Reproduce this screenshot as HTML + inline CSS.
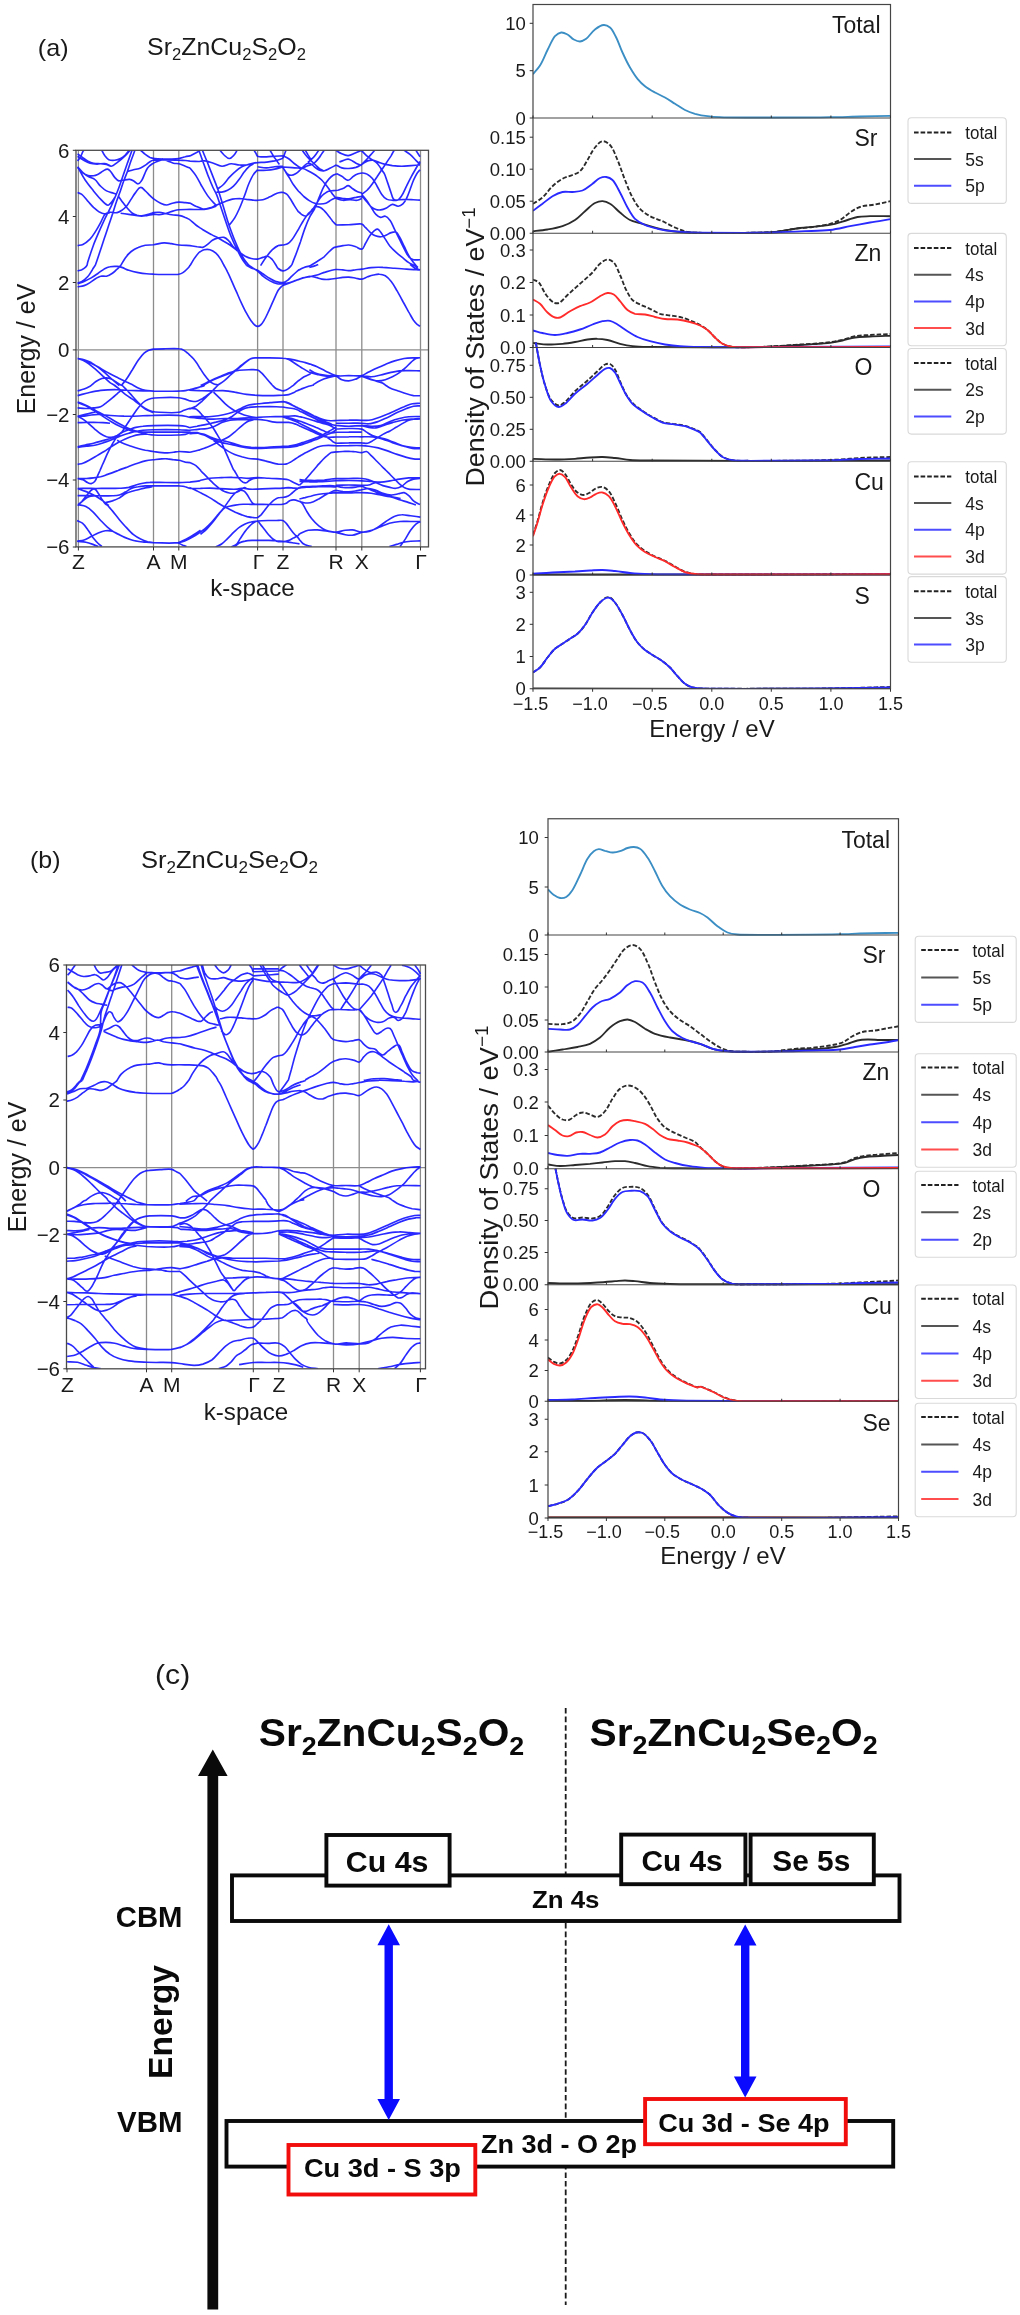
<!DOCTYPE html>
<html><head><meta charset="utf-8"><title>Figure</title>
<style>html,body{margin:0;padding:0;background:#fff}svg{display:block;filter:blur(0.45px)}text{font-family:"Liberation Sans",sans-serif}</style>
</head><body>
<svg width="1020" height="2315" viewBox="0 0 1020 2315">
<rect width="1020" height="2315" fill="#fff"/>
<clipPath id="ca"><rect x="76" y="150.3" width="352.5" height="396.5"/></clipPath>
<g stroke="#8c8c8c" stroke-width="1.3" fill="none">
<path d="M78.4 150.3V547"/>
<path d="M153.5 150.3V547"/>
<path d="M178.8 150.3V547"/>
<path d="M257.6 150.3V547"/>
<path d="M283 150.3V547"/>
<path d="M336 150.3V547"/>
<path d="M361.8 150.3V547"/>
<path d="M420.5 150.3V547"/>
<path d="M76 349.9H428.5"/>
</g>
<g clip-path="url(#ca)" stroke="#1212ff" stroke-width="1.65" fill="none" stroke-opacity="0.9" stroke-linejoin="round">
<path d="M132 150.3C130.5 154.4 129.1 158.5 127.6 162.6C126.3 166.6 124.9 170.5 123.5 174.4C122.2 178.3 120.9 182.3 119.4 186.2C118.1 189.7 116.7 193.3 115.3 196.8C114 199.9 112.6 203.1 111.2 206.2C109.3 210.1 107.2 214 105.3 217.9C103.3 222.2 101.3 226.5 99.4 230.9C97.4 235.6 95.3 240.2 93.5 245C91.4 250.8 88 261.3 87.6 262.6C87.4 263.5 87.3 264.4 87.1 265.3M134.9 150.3C133.7 153.6 132.4 156.9 131.2 160.3C129.9 163.8 128.9 167.4 127.6 170.9C126.4 174.4 124.8 177.9 123.5 181.5C122.3 185 121.2 188.6 120 192.1C118.9 195.2 117.6 198.3 116.5 201.5C115.4 204.6 114.5 207.8 113.5 210.9C112 215.6 110.4 220.3 108.8 225C107.3 229.7 105.7 234.4 104.1 239.1C102.5 243.8 101 248.5 99.4 253.2C98.1 257.3 96.7 261.3 95.3 265.3M77.6 245.6C79.4 245.2 81.3 245.2 82.9 244.4C85.4 243.3 87.9 241.2 90 239.1C92.4 236.7 94.1 233.7 95.9 230.9C97.6 228.2 99.1 225.4 100.6 222.6C102.2 219.7 103.4 215.4 105.3 213.8C106.6 212.8 108.4 212.5 110 212.3C112.3 212 114.8 213.1 117.1 212.6C118.8 212.3 120.3 211.3 121.8 210.3C123.5 209.1 125.1 207.7 126.5 206.2C128.3 204.1 129.6 201.5 131.2 199.1C132.7 196.8 134.1 194.2 135.9 192.1C137.3 190.3 138.4 187.5 140.6 187.4C142.5 187.2 143.8 189.6 145.3 190.9C147 192.3 148.4 194.1 150 195.6C151.5 197 153 198.5 154.7 199.7C156.6 201.1 158.5 202.3 160.6 203.2C162.5 204.1 164.4 205 166.5 205C168.5 205 170.4 203.7 172.4 203.2C174.5 202.7 176.6 202.2 178.8 202.1C181 202 183.1 202.5 185.3 202.6C186.9 202.8 188.4 202.9 190 203.1M77.6 192.6C79 193.2 80.5 193.5 81.8 194.4C83.6 195.7 85.7 198.7 87.6 200.9C89.6 203 91.4 205.4 93.5 207.4C95.4 209.1 97.2 210.8 99.4 212.1C100.9 212.9 102.4 213.7 104.1 213.8C106.1 214 108 213 110 212.6M77.6 166.8C80.2 171.3 82.4 176 85.3 180.3C87.8 184 90.7 187.4 93.5 190.9C95.8 193.7 98.3 196.7 100.6 199.1C102.1 200.7 104 202.9 105.3 203.8C106.2 204.5 107.2 205.4 108.2 205.2C109.5 205.1 110.3 203.6 111.2 202.6C112.5 201.2 113.9 198.7 115.3 196.8M77.6 166.8C79.4 168.7 81 170.9 82.9 172.6C84.7 174.2 86.7 175.6 88.8 176.8C90.7 177.8 93 178.1 94.7 179.4C97.1 181.1 98.4 184.1 100.6 186.2C102.4 187.9 104.3 189.7 106.5 190.9C108.6 192.1 111.8 192.6 113.5 193.2C114.7 193.6 115.9 194 117.1 194.4M77.6 167.4C79 168.9 80.1 170.7 81.8 172.1C83.5 173.5 85.5 174.7 87.6 175.4C89.5 175.9 91.6 176.1 93.5 175.8C95.2 175.6 96.7 174.9 98.2 174.2C99.9 173.4 101.3 172 102.9 171.1C104.4 170.3 106 168.9 107.6 169.1C108.9 169.3 109.7 170.6 110.6 171.5C111.9 172.8 113.1 175.6 114.7 177.4C115.9 178.7 117.4 180.5 118.8 180.9C119.8 181.1 120.8 180.5 121.8 180.3M77.6 160.9C78.6 159.5 79.8 158.2 80.6 156.8C81.5 155.1 82.5 152.1 82.9 151.5C83.2 151 83.6 150.7 83.9 150.3M77.6 153.8C79 154.8 80.4 155.8 81.8 156.8C83.7 158.1 85.5 159.7 87.6 160.9C89.5 161.9 91.5 162.8 93.5 163.2C95.8 163.8 98.2 163.6 100.6 163.8C102.6 164 104.6 164 106.5 164.4C108.1 164.8 109.5 166.3 111.2 166.2C113.5 166 115.2 164 117.1 162.6C119.1 161.2 121.1 159.6 122.9 157.9C124.6 156.5 126.4 154.6 127.6 153.2C128.5 152.3 129.2 151.3 130 150.3M77.6 156.2C79.4 157.4 81.1 158.6 82.9 159.7C85.2 161 87.5 162.5 90 163.2C92.3 163.9 94.7 164 97.1 164.1C99.8 164.1 102.6 163.1 105.3 163.6C107.2 163.9 108.8 165.2 110.6 165.9M101.8 150.3C102.7 152.1 103.5 154 104.7 155.6C105.9 157.1 107.1 158.9 108.8 159.7C110.6 160.5 112.7 160.5 114.7 160.3C116.7 160.1 118.8 159.5 120.6 158.5C122.3 157.6 123.9 156.3 125.3 155C126.6 153.8 127.6 152.3 128.8 150.9M118.8 196.8C120.2 198.7 121.5 200.7 122.9 202.6C124.4 204.7 126 206.7 127.6 208.5C129.1 210.2 130.5 212 132.4 213.2C133.8 214.2 135.4 214.8 137.1 215.4C138.6 215.8 140.2 216.1 141.8 216.2C143.7 216.2 145.7 215.6 147.6 215.4C149.6 215.1 151.5 214.5 153.5 214.4C155.5 214.3 157.5 214.8 159.4 214.6C161.8 214.5 164.2 213.9 166.5 213.2C168.9 212.6 171.1 211.5 173.5 210.9C175.3 210.4 177 209.9 178.8 209.7C181.5 209.4 186.3 209.5 190 209.4M120.6 213.2C123.3 213.6 126.1 214 128.8 214.4C131.2 214.7 133.5 215.1 135.9 215.4C137.8 215.6 139.8 216.1 141.8 215.9C144.6 215.7 148.2 214.3 150 213.8C151.2 213.5 152.3 212.9 153.5 212.6C155.4 212.3 157.5 212.1 159.4 212.3C161.8 212.5 164.1 213.4 166.5 213.8C168.8 214.3 171.2 214.7 173.5 215C175.3 215.2 177.1 215 178.8 215.4C181 215.8 183.2 216.5 185.3 217.4C186.9 218 188.4 219 190 219.8M140.6 150.3C142.2 151.7 143.6 153.2 145.3 154.4C146.8 155.5 148.3 156.6 150 157.4C151.5 158 153.1 158.3 154.7 158.5C157.1 158.9 160.2 159 162.9 159.1C165.3 159.2 167.6 159.2 170 159.1C172.9 159 175.9 159 178.8 158.5C181 158.2 183.1 157.3 185.3 156.8C186.8 156.4 188.4 156.2 190 155.9M127.6 171.5C129.6 170.9 131.6 170.2 133.5 169.7C135.9 169.1 138.3 168.9 140.6 167.9C142.7 167.1 144.6 165.7 146.5 164.4C148.1 163.3 149.5 161.7 151.2 160.9C152.3 160.3 153.5 160 154.7 159.7C156.5 159.3 160.2 159.2 162.9 158.9M121.8 180.3C122.5 180.2 123.3 180.1 124.1 180.1C125.3 179.9 128 179 130 179.4C131.5 179.6 132.8 180.5 134.1 181.2C135.5 182 136.6 184 138.2 183.8C139.9 183.6 140.8 181.7 141.8 180.3C143.1 178.3 143.7 176 144.7 173.8C145.6 171.8 146.3 169.7 147.6 167.9C148.9 166.3 150.6 165 152.4 163.8C153.8 162.8 155.4 162.1 157.1 161.5C159 160.7 160.9 159.8 162.9 159.7C164.6 159.7 166.1 160.4 167.6 160.9C169.7 161.5 171.5 162.7 173.5 163.2C175.3 163.7 177.1 163.4 178.8 163.8C181.1 164.3 183.1 165.4 185.3 166.2C186.9 166.8 188.4 167.4 190 168.1M153.5 160.1C157.1 160 160.6 159.8 164.1 159.8C169 159.8 175.6 159.9 178.8 160.1C181 160.2 183.1 160.3 185.3 160.5C186.9 160.7 188.4 160.9 190 161.1M120.9 265.3C122.4 262.8 123.6 260.2 125.3 257.9C127 255.6 128.9 253.3 131.2 251.5C133.3 249.8 135.7 248.4 138.2 247.4C140.5 246.4 142.9 245.7 145.3 245.2C148 244.8 150.8 245.1 153.5 244.8C157.1 244.3 160.6 243 164.1 242.9C166.5 242.8 168.8 243.3 171.2 243.6C173.7 244 176.2 244.7 178.8 245C182.5 245.4 186.3 245.4 190 245.6M198.8 150.3C199.4 151.8 199.9 153.3 200.5 154.8C201.3 157.1 202.1 159.3 202.9 161.5C204.2 164.8 206 170.1 207.6 174.4C209.2 178.4 210.6 182.3 212.4 186.2C213.6 189 215.3 191.6 216.5 194.4C218.1 198.2 219.2 202.2 220.6 206.2C222.2 210.9 223.7 215.6 225.3 220.3C227.2 225.8 229 231.4 231.2 236.8C233 241.2 234.9 245.5 237.1 249.7C238.9 253.3 241.3 257.7 242.9 260.3C244 262 245.3 263.6 246.5 265.3M202.4 150.3C203.7 153.6 205.1 157 206.5 160.3C208.1 164.2 209.6 168.1 211.2 172.1C212.6 175.6 213.9 179.1 215.3 182.6C216.5 185.8 217.7 188.9 218.8 192.1C219.9 195.2 220.8 198.3 221.8 201.5C223 205.4 224.1 209.3 225.3 213.2C226.6 217.6 227.9 221.9 229.4 226.2C231.1 230.9 232.8 235.6 234.7 240.3C236.2 243.9 237.7 247.4 239.4 250.9C240.8 253.7 242.4 256.5 244.1 259.1C245.5 261.3 247.3 263.2 248.8 265.3M190 161.1C192.9 161.2 197.6 161.5 198.6 161.5C199.2 161.5 199.9 161.4 200.5 161.3C201.5 161.2 203.5 160.7 205.1 160.9C207.3 161.1 210.2 162.2 212.7 163C215.8 164 218.7 166 222 166.2C225.2 166.3 228 164 231.2 163.8C233.9 163.7 236.6 164.8 239.4 165C241.8 165.2 244.1 165.3 246.5 165C248.9 164.7 251.5 163.6 253.5 163.2C254.9 163 256.3 162.8 257.6 162.6C259.7 162.4 263.5 162.4 266.5 162.1C269.2 161.8 272 161.5 274.7 160.9C277.5 160.2 280.2 159.2 282.9 158.3M190 155.9C191.6 155.1 193.2 154.3 194.7 153.5C196.6 152.5 198.4 151.4 200.2 150.3M220 150.3C221.4 151.9 222.6 153.6 224.1 155C225.7 156.4 227.3 158.6 229.4 158.5C231.4 158.5 232.8 156.4 234.1 155C235.4 153.6 236.1 151.9 237.1 150.3M218.2 188.5C219.8 187.4 221.5 186.4 222.9 185C225.1 183 226.8 180.2 228.8 177.9C230.7 175.9 232.6 173.9 234.7 172.1C236.9 170.1 239.2 168.1 241.8 166.8C244 165.6 246.4 165.1 248.8 164.4C251.2 163.7 253.5 163.2 255.9 162.6M216.5 192.1C218.2 192.1 220 192.3 221.8 192.1C223.8 191.8 225.8 191.2 227.6 190.3C229.8 189.3 231.8 187.8 233.5 186.2C235.8 184.1 237.6 181.6 239.4 179.1C241.1 176.9 242.4 174.3 244.1 172.1C245.6 170.2 247 168.3 248.8 166.8C250.2 165.6 252 164.8 253.5 163.8M229.4 225C231.2 222.6 233.2 220.4 234.7 217.9C236.5 215 238 211.7 239.4 208.5C241.1 204.7 242.6 200.7 244.1 196.8C245.8 192.5 247 188 248.8 183.8C250.2 180.6 251.8 177 253.5 174.4C254.7 172.7 256.3 171.3 257.6 169.7M190 168.1C192 170.6 194.1 172.9 195.9 175.6C197.6 178.2 199.9 182.8 200.5 183.9C200.9 184.7 201.3 185.4 201.8 186.2C202.4 187.3 205.5 192.6 207.6 195.6C209.4 198.1 211.8 200.8 213.5 202.6C214.7 203.9 215.9 205 217.1 206.2M190 203.1C192 204.1 193.9 205.2 195.9 206.2C197.4 206.9 199.3 207.6 200.5 208.1C201.3 208.4 202.1 209 202.9 209.1C204.3 209.3 207.7 208.6 210 207.9C211.8 207.4 213.5 206.4 215.3 205.6C216.7 205 218 204.4 219.4 203.8C221.4 203 223.3 202.2 225.3 201.5C227.6 200.6 229.9 199.6 232.4 199.1C234.7 198.6 237.1 198.5 239.4 198.5C241.8 198.6 244.1 199.1 246.5 199.4C248.8 199.6 251.5 199.9 253.5 200.1C254.9 200.2 256.3 200.3 257.6 200.3C259.4 200.2 261.2 200.1 262.9 199.7C265.4 199.1 267.7 197.8 270 196.8C272.4 195.7 274.6 194.1 277.1 193.2C278.9 192.6 281 192.5 282.9 192.2M190 209.4C192.4 209.4 195.3 209.5 197.1 209.5C198.2 209.5 199.4 209.5 200.5 209.5C201.7 209.5 202.9 209.6 204.1 209.5C205.9 209.3 208.9 208.6 211.2 207.9C212.8 207.5 214.3 206.8 215.9 206.2M190 219.8C192 221.5 193.8 223.4 195.9 225C197.3 226.1 199.3 227.3 200.5 228.1C201.3 228.6 202.1 229.2 202.9 229.7C204.2 230.5 208.4 232.9 211.2 234.4C213.5 235.7 215.9 236.7 218.2 237.9C220.2 239 222.2 240.3 224.1 241.5C226.1 242.6 228.1 243.7 230 245C231.6 246.1 233.1 247.4 234.7 248.5C236.3 249.7 237.8 250.9 239.4 252.1C241.3 253.5 243.2 255 245.3 256.2C247.2 257.2 249.1 258 251.2 258.5C253.3 259 255.5 259.4 257.6 259.1C259.5 258.9 261.2 257.9 262.9 257.4C264.5 256.9 266.1 255.9 267.6 256.2C269.6 256.6 271 258.3 272.4 259.7C273.8 261.2 274.7 263.2 275.9 265M190 245.6C192.4 246 195.3 246.5 197.1 246.8C198.2 246.9 199.4 247 200.5 247.1C201.3 247.2 202.1 247.5 202.9 247.4C204.1 247.1 206.2 245.5 207.6 244.4C209.3 243.2 210.6 241.4 212.4 240.3C214.2 239.2 216.2 238.4 218.2 237.9C220.1 237.5 222.2 236.8 224.1 237.4C226 237.9 227.4 239.5 228.8 240.9C230.4 242.4 231.5 244.5 232.9 246.2C234.3 247.8 235.7 249.3 237.1 250.9M190 265.6C191.6 263 193 260.4 194.7 257.9C196.2 255.9 198.9 252.4 199.4 252.1C199.7 251.8 200.1 251.7 200.5 251.5C201 251.2 202.8 250 204.1 249.7C206 249.3 208.1 249.2 210 249.7C212.2 250.3 214.2 251.7 215.9 253.2C217.8 254.9 219.2 257 220.6 259.1C221.8 261 222.7 263 223.8 265M260.6 265.6C262.5 262.6 264.4 259.6 266.5 256.8C268.3 254.3 270.1 251.8 272.4 249.7C274.1 248.1 276 246.4 278.2 245.6C279.7 245 281.4 245.2 282.9 245M270 150.3C271.6 152.8 273 155.5 274.7 157.9C276.2 160.2 277.8 162.3 279.4 164.4M254.1 150.3C254.7 151.3 255.3 152.3 255.9 153.2C256.5 154.2 256.7 155.6 257.6 156.2C259.1 157.1 263.5 156.8 266.5 156.8C269.2 156.8 272 156.4 274.7 156.2C277.4 156 280.2 155.8 282.9 155.7M257.6 166.8C260.6 167.2 263.5 168 266.5 167.9C269.2 167.9 271.9 167.1 274.7 166.8C277.4 166.5 280.2 166.4 282.9 166.2M257.6 170.3C260.6 170.3 263.5 170.5 266.5 170.3C269.2 170.1 272 169.7 274.7 169.1C277.5 168.6 280.2 167.7 282.9 167M336.2 247C338.4 246.5 340.7 245.9 342.9 245.6C344.9 245.3 346.9 244.9 348.8 245C351.2 245.2 353.6 246 355.9 246.8C357.9 247.4 359.7 249.7 361.8 249.1C363.8 248.5 364.2 245.6 365.3 243.8C367 241.1 368.2 238.1 370 235.6C371.2 233.9 372.6 232.1 374.1 230.9C375.2 230.1 376.3 228.9 377.6 229.1C379 229.3 379.7 231 380.6 232.1C381.9 233.7 383.7 236.8 385.3 239.1C386.9 241.5 388.2 244 390 246.2C391.8 248.3 393.8 250.2 395.9 252.1C398.1 254.1 400.6 256 402.9 257.9C404.9 259.5 406.7 261.3 408.8 262.6C410.3 263.6 412 264.2 413.5 265M336.2 225C340.4 224.9 344.6 224.9 348.8 224.8C353.1 224.6 359.5 223.2 361.8 224.1C363.3 224.6 364.1 226.2 365.3 227.4C366.9 228.9 368.3 230.6 370 232.1C371.5 233.3 372.9 234.8 374.7 235.6C376.5 236.4 378.6 236.8 380.6 236.8C382.2 236.7 383.8 236.1 385.3 235.6C387.4 234.8 389.1 233.3 391.2 232.6C392.7 232.2 394.4 231.4 395.9 232.1C397.7 232.8 398.4 235.1 399.4 236.8C401 239.3 402.5 243 404.1 246.2C405.7 249.3 407.1 252.6 408.8 255.6C410.2 258 411.8 260.4 413.5 262.6C414.9 264.4 416.5 265.9 417.9 267.5M361.8 194.4C363.3 196.4 365 198.3 366.5 200.3C368.1 202.6 369.6 205 371.2 207.4C372.7 209.7 373.9 212.5 375.9 214.4C377.2 215.7 378.8 217.1 380.6 217.4C382.2 217.6 383.7 215.8 385.3 216.2C387.3 216.7 388.7 218.6 390 220.3C391.9 222.8 393.1 226.6 394.7 229.7C396.3 232.8 397.8 236 399.4 239.1C401 242.3 402.5 245.4 404.1 248.5C405.6 251.3 406.9 254.8 408.8 256.8C410.1 258.1 411.8 259.2 413.5 259.7C415.6 260.3 417.8 259.7 420 259.7M336.2 197.4C338.4 197.8 340.7 198.3 342.9 198.5C344.9 198.7 346.9 199 348.8 198.9C351.2 198.7 353.5 197.7 355.9 197.4C357.8 197 359.9 196.1 361.8 196.8C363.9 197.5 364.9 199.9 366.5 201.5C368.1 203.2 369.3 205.3 371.2 206.8C372.6 207.9 374.2 208.9 375.9 209.5C377.4 210 379 210.1 380.6 209.9C382.6 209.7 384.6 208.8 386.5 207.9C388.5 207 390.1 204.7 392.4 204.4C394.4 204.2 396.2 206.4 398.2 206.2C400 206 401.6 205 402.9 203.8C404.5 202.4 405.5 200.4 406.5 198.5C407.9 195.7 408.9 192.7 410 189.7C411.2 186.6 412.2 183.4 413.5 180.3C414.6 177.9 415.8 175.2 417.1 173.2C417.9 172 419 170.9 420 169.7M336.2 198.5C338.4 199.1 340.6 200.1 342.9 200.3C345.3 200.5 347.6 199.7 350 199.7C352.4 199.7 354.7 200.6 357.1 200.3C358.7 200.1 360.2 199.1 361.8 198.5M337.9 190.3C340 189.5 342.1 188.9 344.1 187.9C345.5 187.3 346.7 185.5 348.2 185.6C349.9 185.7 351 187.6 352.4 188.5C353.9 189.6 355.4 190.7 357.1 191.5C358.6 192.2 360.2 192.6 361.8 193.2M336.7 173.8C338.4 174.6 340.1 175.3 341.8 176.2C344 177.4 345.7 180.4 348.2 180.3C350.5 180.2 351.6 177.4 353.5 176.2C355 175.2 356.6 174.4 358.2 173.8C359.7 173.3 361.4 172.9 362.9 173C364.6 173.1 366.2 173.6 367.6 174.4C369.5 175.4 371 176.9 372.4 178.5C374.3 180.8 375.5 183.6 377.1 186.2C378.7 188.9 379.8 191.9 381.8 194.4C383.1 196.2 384.5 198.1 386.5 199.1C388.2 200.1 390.4 200.2 392.4 200.3C394.7 200.4 397.1 199.9 399.4 199.7C401.8 199.5 404.1 199.4 406.5 199.4C408.8 199.4 411.2 199.6 413.5 199.7C415.7 199.8 417.8 199.9 420 200.1M361.8 194.4C363.7 192.8 365.9 191.5 367.6 189.7C369.4 187.9 370.9 185.9 372.4 183.8C374 181.5 375.5 179.1 377.1 176.8C378.6 174.4 380.2 172.1 381.8 169.7C383.3 167.4 384.9 165 386.5 162.6C388 160.3 389.7 158 391.2 155.6C392.2 153.9 393.1 152.1 394.1 150.3M380.6 168.5C381.8 170.1 383.2 171.5 384.1 173.2C385.5 175.8 386.5 179.5 387.6 182.6C388.9 186.2 390.1 190.3 391.2 193.2C391.9 195.2 392.2 197.8 393.5 199.1C394.4 200 395.9 200.6 397.1 200.3C398.9 199.9 400.5 197.4 401.8 195.6C403.7 192.9 404.9 189.3 406.5 186.2C408 183 409.5 179.9 411.2 176.8C412.7 174 414.3 171.3 415.9 168.5C417.2 166.2 418.6 163.8 420 161.5M336.2 165C338 165.9 339.7 167.3 341.8 167.9C344 168.6 346.5 168.6 348.8 168.5C351.2 168.4 353.6 168.1 355.9 167.4C358 166.7 359.8 165.5 361.8 164.4C363.8 163.3 365.5 161.6 367.6 160.9C369.5 160.3 371.6 160 373.5 160.3C375.6 160.6 377.4 162 379.4 162.6C381.3 163.3 383.3 163.9 385.3 164.4C387.6 165 390 165.3 392.4 165.6C395.5 165.9 398.6 166.2 401.8 166.2C404.9 166.2 408 165.8 411.2 165.6C414.1 165.4 417.1 165.2 420 165M339.4 162.1C341.4 161.3 343.9 160.1 345.3 159.7C346.3 159.4 347.2 159 348.2 159.1C349.7 159.3 351 160.2 352.4 160.9C354 161.7 355.4 163 357.1 163.8C358.6 164.6 360.2 165 361.8 165.6M335.9 150.3C337.8 151.5 339.7 152.9 341.8 153.8C343.8 154.7 346 155.7 348.2 155.6C350.5 155.5 352.6 154.1 354.7 153.2C357.1 152.3 359.4 151.3 361.8 150.3M361.8 150.9C363.3 152.5 364.8 154.1 366.5 155.6C368 156.9 369.6 158 371.2 159.1C372.7 160.2 374.5 160.8 375.9 162.1C377.8 163.7 379.1 165.9 380.6 167.9C381.8 169.7 382.9 171.5 384.1 173.2M374.7 150.3C373.1 152.1 371.6 153.8 370 155.6C368.4 157.4 366.9 159.2 365.3 160.9C364.2 162.1 362.9 163.2 361.8 164.4M404.1 150.3C406.1 151.7 408.2 152.9 410 154.4C412.1 156.2 413.9 158.3 415.9 160.3C417.3 161.7 418.6 163 420 164.4M415.9 150.3L420 156.8M282.9 167.6C283.9 169.2 285 170.8 286 172.5C287.1 174.3 288.3 176.1 289.4 177.9C290.8 180.2 292 182.6 293.5 184.8C295 187 297.8 190.4 298.3 191C298.7 191.4 299.1 191.8 299.5 192.1C300.1 192.7 302.3 195.1 303.8 196.5C305.6 198 307.4 199.4 309.3 200.6C311.1 201.7 312.8 202.7 314.8 203.3C316.6 203.9 318.5 204 320.3 204C322.1 204 324 204 325.8 203.3C327.8 202.6 329.4 201 331.3 199.9C332.9 199 334.5 198.3 336.2 197.4M282.9 167.6C284.4 169.7 285.6 172.5 287.4 173.8C288.5 174.7 290 175.2 291.5 175.2C292.9 175.2 294.3 174.5 295.6 173.8C297.1 173 299.4 170.7 299.5 170.6C299.6 170.5 299.6 170.5 299.7 170.4C299.8 170.3 302.4 167.5 303.8 166.3C305.1 165.2 306.2 163.4 307.9 163.2C309.4 163 310.8 164.1 312.1 164.9C313.6 165.8 314.7 167.4 316.2 168.3C317.5 169.2 318.8 170 320.3 170.4C321.6 170.8 323.1 171 324.4 170.7C326.4 170.4 328.1 169.2 329.9 168.3C332 167.3 334.1 166.1 336.2 165M282.9 167C286 167.2 289.1 167.4 292.2 167.6C294.6 167.8 298 168 299.5 168.1C300.5 168.2 301.5 168.1 302.5 168.3C303.9 168.7 306.2 169.8 307.9 170.7C309.8 171.7 311.6 172.7 313.4 173.8C314.8 174.7 316.2 175.6 317.6 176.6C319 177.6 320.4 178.7 321.7 180C323.2 181.5 324.5 183.2 325.8 184.8C327.2 186.6 328.6 188.4 329.9 190.3C331.1 191.9 332.1 193.5 333.3 195.1C334.2 196.3 335.2 197.4 336.2 198.5M282.9 155.7C284.9 156.7 286.9 157.5 288.7 158.7C290.7 160.1 292.3 162 294.2 163.5C295.8 164.8 298.8 166.8 299 167C299.2 167.1 299.3 167.1 299.5 167.2C299.7 167.3 301.5 168.2 302.5 168.7M286 150.1C285.5 151.4 285.1 152.7 284.6 153.9C284.1 155.4 283.5 156.8 282.9 158.3M302.1 150.1C303.4 151.9 304.5 153.7 305.9 155.3C307.2 156.9 308.6 158.3 310 159.8C311.1 160.8 312.3 161.8 313.4 162.8C314.4 163.7 315.2 164.7 316.2 165.6C317.3 166.6 318.3 167.8 319.6 168.7C320.7 169.4 321.9 169.8 323 170.4M324.4 150.1C323.5 151.4 322.6 152.6 321.7 153.9C320.7 155.3 319.9 156.7 318.9 158C317.9 159.4 316.7 160.7 315.5 161.8C314.4 162.8 313.4 163.9 312.1 164.6C310.8 165.2 309.3 165.1 307.9 165.6C306.5 166.1 305.2 167.1 303.8 167.6C302.9 168 302 168.3 301.1 168.7M318.9 150.1C318 151.4 317.1 152.7 316.2 153.9C315.3 155.1 314.4 156.3 313.4 157.4C312.6 158.2 311.6 159 310.7 159.8C309.8 160.6 308.9 161.4 307.9 162.2M305.2 150.1C306.1 151.6 307 153.1 307.9 154.6C308.9 156.1 309.8 157.6 310.7 159.1M291.8 265C293.1 261.5 294.5 257.9 295.9 254.4C297.1 251.1 299 246 299.5 244.5C299.9 243.5 300.2 242.5 300.6 241.5C301.1 240 303.5 232 305.3 227.4C306.7 223.6 308.2 219.9 310 216.4C311.4 213.7 313.3 211.2 314.7 208.5C316.5 204.7 317.8 200.7 319.4 196.8C320.9 193.2 322.2 189.6 324.1 186.2C325.4 183.7 326.9 181.2 328.8 179.1C330.2 177.5 332 175.9 333.5 175C334.5 174.4 335.7 174.2 336.7 173.8M282.9 245C284.5 244.6 286.2 244.6 287.6 243.8C289.6 242.7 291 240.8 292.4 239.1C294.4 236.5 297.5 230.8 298.2 229.7C298.6 228.9 299.1 228.2 299.5 227.4C300.2 226.3 301.7 223.5 302.9 221.5C304.4 219.1 305.8 216.6 307.6 214.4C308.9 212.8 310.7 211.8 312.1 210.2C313.7 208.3 314.8 206.1 316.2 204C317.6 202 318.7 199.8 320.3 197.8C321.5 196.3 322.9 194.9 324.4 193.7C325.7 192.8 327 191.8 328.5 191.3C330.1 190.8 331.7 190.8 333.3 190.6C334.9 190.5 336.4 190.4 337.9 190.3M282.9 192.2C284.2 192.8 285.6 193.2 286.7 194.1C288.1 195.3 289 197 290.1 198.5C291.6 200.7 292.8 203.1 294.2 205.4C295.5 207.5 297.8 211 298.3 211.6C298.7 211.9 299.1 212.2 299.5 212.5C300.1 213 301.3 214.4 302.5 215C303.5 215.6 304.7 216.2 305.9 216C307.3 215.8 308.3 214.6 309.3 213.6C310.7 212.2 311.3 210.2 312.7 208.8C313.7 207.9 314.9 207 316.2 206.8C317.5 206.5 319 206.9 320.3 207.5C321.9 208.2 323.1 209.6 324.4 210.9C325.9 212.4 327.2 214 328.5 215.7C330 217.5 331.2 219.4 332.6 221.2C333.8 222.5 335 223.7 336.2 225M310 265.9C312.3 264.4 314.7 263 317.1 261.5C319.4 259.9 321.9 258.6 324.1 256.8C326.2 255 328 252.6 330 250.9C331.3 249.7 333 248.1 334 247.6C334.7 247.3 335.4 247.2 336.2 247M77.6 270.9C79 270.5 80.5 270.3 81.8 269.7C83 269.1 84.3 268.3 85.3 267.4C86 266.8 86.5 266 87.1 265.3M77.6 283.2C79 282.6 80.5 282.2 81.8 281.5C83.7 280.3 86 278.6 87.6 276.8C89.6 274.7 90.9 271.9 92.4 269.7C93.3 268.2 94.3 266.8 95.3 265.3M77.6 283.8C79.8 283 82 282.4 84.1 281.5C86.5 280.4 88.9 279.3 91.2 277.9C93.6 276.5 95.9 274.8 98.2 273.2C100.2 271.9 102 270.3 104.1 269.1C106 268.1 107.9 267.2 110 266.8C112.3 266.3 114.7 266.2 117.1 266.4C118.7 266.5 120.2 266.9 121.8 267.4C124.1 268.1 126.4 269.5 128.8 270.3C131.9 271.3 135.1 272 138.2 272.6C141 273.2 143.7 273.6 146.5 273.8C148.8 274 151.2 274.1 153.5 274.2C157.1 274.3 176.7 274.6 178.8 274.2C180.3 273.9 181.7 273.4 182.9 272.6C184.7 271.6 186.3 269.9 187.6 268.5C188.5 267.6 189.2 266.6 190 265.6M77.6 286.8C79.8 286.4 82 286.3 84.1 285.6C86.2 284.9 88.1 283.8 90 282.6C92.1 281.4 93.8 279.8 95.9 278.5C97.4 277.6 98.9 276.6 100.6 276.2C102.5 275.7 104.6 276.6 106.5 276.2C108.6 275.7 110.5 274.5 112.4 273.2C114.1 272.1 115.5 270.5 117.1 269.1C118.3 268 120.4 265.7 120.6 265.6C120.7 265.5 120.8 265.4 120.9 265.3M121.8 385C123.3 383 125 381.2 126.5 379.1C128.6 376.1 130.4 372.8 132.4 369.7C134.3 366.6 136.1 363.3 138.2 360.3C140 357.8 142 355.1 144.1 353.2C145.5 352 147.1 351 148.8 350.3C150.3 349.7 151.9 349.3 153.5 349.1C155.9 348.8 160.6 348.8 164.1 348.8C169 348.7 176.7 348.5 178.8 348.8C180.2 348.9 181.7 349.1 182.9 349.7C184.7 350.5 186.4 352.3 187.6 353.2C188.5 353.9 189.2 354.6 190 355.3M77.6 358.5C79.8 358.9 82 359.1 84.1 359.7C86.6 360.4 88.9 361.4 91.2 362.6C93.7 364 96 365.7 98.2 367.4C100.7 369.2 103 371.2 105.3 373.2C107.7 375.3 109.9 377.6 112.4 379.7C114.7 381.7 117.1 383.6 119.4 385.6M77.6 358.5C80.2 359.3 82.8 360 85.3 360.9C88.1 361.9 90.9 363.1 93.5 364.4C96.4 365.8 99 367.5 101.8 369.1C104.5 370.7 107.2 372.3 110 373.8C112.7 375.3 115.5 376.6 118.2 377.9C121 379.3 123.7 380.7 126.5 382.1C128.6 383.1 130.8 384 132.9 385M77.6 358.5C79.4 359.1 81.3 359.5 82.9 360.3C85 361.2 87 362.5 88.8 363.8C91.3 365.6 93.6 367.7 95.9 369.7C98.3 371.8 100.6 374 102.9 376.2C105.3 378.3 108.1 381.2 110 382.6C111.3 383.6 112.7 384.2 114.1 385M91.8 385C93.1 383.8 94.4 382.5 95.9 381.5C97.7 380.3 99.7 379.2 101.8 378.5C103.3 378.1 104.9 377.8 106.5 377.9C108.1 378 109.7 378.5 111.2 379.1C113.3 380 115.1 381.5 117.1 382.6C118.6 383.6 120.2 384.6 121.8 385.6M223.8 265C225.1 267.4 226.5 269.7 227.6 272.1C229.4 275.5 230.8 279.1 232.4 282.6C233.9 286.2 235.5 289.7 237.1 293.2C238.6 296.8 240.1 300.3 241.8 303.8C243.3 307 244.8 310.2 246.5 313.2C247.9 315.9 249.6 318.7 251.2 320.9C252.2 322.3 253.4 324 254.7 325C255.6 325.7 256.6 326.4 257.6 326.4C258.7 326.4 259.7 325.7 260.6 325C261.8 324 263.1 322 264.1 320.3C265.7 317.8 267.3 314.1 268.8 310.9C270.5 307.4 271.9 303.8 273.5 300.3C275.1 296.9 276.8 292.6 278.2 290.3C279.2 288.8 280.3 287.2 281.8 286.2C283.5 284.9 285.7 284.6 287.6 283.8C290.4 282.7 294.1 281 295.9 280.3C297.1 279.8 298.3 279.5 299.5 279.1C300.6 278.7 301.8 278.3 302.9 277.9C304.7 277.4 307.6 276.8 310 276.2M246.5 265.3C248 266.2 249.5 267.2 251.2 267.9C253.3 268.9 255.6 269.3 257.6 270.3C259.5 271.3 261.2 272.6 262.9 273.8C265.3 275.4 267.6 277.1 270 278.5C271.9 279.6 273.8 280.8 275.9 281.5C278.2 282.2 280.6 283 282.9 282.6C284.7 282.4 286.2 281.3 287.6 280.3C289.4 279 290.7 277.1 292.4 275.6C294.3 273.8 297.7 270.7 298.2 270.3C298.6 270 299.1 269.9 299.5 269.7C300.1 269.3 302.5 268 304.1 267.4C306 266.7 308 266.4 310 265.9M248.8 265.3C250.4 266.4 251.9 267.5 253.5 268.5C255.1 269.5 256.8 270.3 258.2 271.5C260 272.9 261.2 274.8 262.9 276.2C265.1 278 267.5 279.5 270 280.9C272.2 282.1 274.6 283.3 277.1 283.8C279 284.2 281 284 282.9 283.8C285.3 283.6 287.7 283.2 290 282.6C292.8 281.9 297.6 279.9 298.2 279.7C298.7 279.6 299.1 279.4 299.5 279.3C300.1 279.1 303.3 277.8 305.3 277.4C306.8 277 308.4 276.9 310 276.6M275.9 265C276.7 266.2 277.2 267.6 278.2 268.5C279.6 269.7 281.2 270.8 282.9 270.9C284.6 271 286.2 270 287.6 269.1C289.3 268.1 290.4 266.4 291.8 265M190 355.3C191.6 357 193.3 358.5 194.7 360.3C196.5 362.5 198.9 366.5 199.4 367.4C199.8 367.9 200.1 368.4 200.5 369C201 369.8 202.8 372.7 204.1 374.4C205.6 376.4 207 378.5 208.8 380.3C210.2 381.7 211.8 383 213.5 383.8C215 384.5 216.7 384.6 218.2 385M200.6 385.6C203.7 384 206.8 382.4 210 380.9C213.5 379.2 217 377.6 220.6 376.2C223.7 374.9 226.8 373.6 230 372.6C233.1 371.7 236.2 370.8 239.4 370.3C242.5 369.8 245.7 369.7 248.8 369.7C251.8 369.7 255.2 369.2 257.6 370.1C259.3 370.7 260.5 372.1 261.8 373.2C263.5 374.8 264.9 376.8 266.5 378.5C268 380.3 270.7 383.3 271.2 383.8C271.5 384.2 271.8 384.6 272.1 385M217.1 385.6C219.4 384 221.9 382.6 224.1 380.9C226.6 378.9 228.8 376.5 231.2 374.4C233.5 372.4 235.9 370.5 238.2 368.5C240.6 366.6 242.9 364.5 245.3 362.6C247.2 361.2 249 359.4 251.2 358.5C252.7 358 254.3 358 255.9 357.9C258.2 357.8 280.6 357.9 282.9 358.2C284.5 358.3 286.2 358.6 287.6 359.1C289.9 360 292.4 361.8 294.7 363.2C296.3 364.3 298.4 365.7 299.5 366.4C300.3 366.9 301 367.5 301.8 367.9C302.9 368.7 307.3 371.1 310 372.6M204.1 385C207.3 383.2 210.3 381.3 213.5 379.7C217.3 377.9 221.4 376.6 225.3 375C228.1 373.9 231 373 233.5 371.5C236.5 369.7 239 367.1 241.8 365C244.1 363.2 246.6 360.9 248.8 359.7C250.3 358.9 252 358.5 253.5 357.9M282.9 358.2C285.3 358.5 287.7 358.7 290 359.1C292.8 359.6 297.6 360.7 298.2 360.9C298.7 361 299.1 361.1 299.5 361.2C300.1 361.4 303.4 362.1 305.3 362.6C306.9 363.1 308.4 363.6 310 364.1M293.6 385.1C295.2 383.7 297.6 381.4 298.2 380.9C298.6 380.6 299.1 380.3 299.5 380C300.1 379.6 302.5 377.7 304.1 376.8C306.2 375.6 308.4 374.8 310.6 373.8M310 276.2C312 276.6 313.9 276.9 315.9 277.4C317.9 277.8 319.7 278.8 321.8 279.1C324.1 279.5 326.5 279.5 328.8 279.4C331.2 279.3 333.5 278.9 335.9 278.5C338.2 278.2 340.6 277.6 342.9 277.4C344.9 277.2 346.9 277 348.8 277.1C351.2 277.2 353.5 277.8 355.9 278.2C357.8 278.5 359.8 279.3 361.8 279.1C363.9 278.9 365.7 277.5 367.6 276.8C369.6 276.1 371.5 275.4 373.5 275C375.5 274.6 377.4 274 379.4 274.2C381.4 274.3 383.5 274.8 385.3 275.8C387.7 277.2 389.5 279.4 391.2 281.5C393.5 284.3 395.2 287.7 397.1 290.9C399.1 294.4 401 297.9 402.9 301.5C404.9 305 406.8 308.5 408.8 312.1C410.4 314.8 412 318.1 413.5 320.3C414.6 321.8 415.7 323.3 417.1 324.4C417.9 325.1 419 325.6 420 326.2M310 276.6C312.4 276.1 314.7 275.7 317.1 275C319.9 274.2 322.5 272.9 325.3 272.1C328.8 271 332.4 269.8 335.9 269.5C338.2 269.3 340.6 269.7 342.9 269.9C344.9 270.1 346.8 270.7 348.8 270.6C351.2 270.6 353.5 270 355.9 269.7C357.8 269.5 359.8 269.4 361.8 269.1C364.7 268.7 368 267.9 371.2 267.6C375.1 267.2 379 267.2 382.9 267.4C386.9 267.5 390.8 268 394.7 268.3C398.6 268.6 402.5 268.9 406.5 269.1C409.6 269.3 413.8 269.6 415.9 269.7C417.3 269.8 418.6 269.9 420 269.9M309.4 267.4C311.2 266.9 313 266.5 314.7 265.9C315.9 265.5 317.1 264.9 318.2 264.4M410 264.4C411.6 265.6 413 267 414.7 267.9C416.4 268.8 418.2 269.3 420 269.9M413.5 265C414.7 265.8 416.6 267.2 417.1 267.4C417.3 267.5 417.6 267.5 417.9 267.5M310 364.1C312.4 365 314.8 365.8 317.1 366.8C319.9 368 322.5 369.6 325.3 370.9C328.8 372.5 332.1 374.8 335.9 375.6C340.1 376.5 344.5 375.6 348.8 375.6C353.1 375.6 358.6 376.3 361.8 375.6C363.9 375.1 365.7 373.6 367.6 372.6C370.4 371.3 373.1 369.8 375.9 368.5C379 367.1 382.1 365.7 385.3 364.4C388.4 363.2 391.5 361.9 394.7 360.9C397.8 359.9 400.9 359 404.1 358.5C406.8 358.1 409.6 358 412.4 357.9C414.9 357.9 417.5 357.9 420 357.9M310 372.6C312.4 373.2 314.7 373.9 317.1 374.4C320.2 375.1 323.3 375.9 326.5 376.2C329.6 376.5 332.9 375.3 335.9 376.2C338.1 376.8 339.6 378.9 341.8 379.7C344 380.5 346.4 381 348.8 380.9C351.2 380.8 353.6 380 355.9 379.1C357.9 378.4 359.6 376.6 361.8 376.2C364.8 375.6 368 377 371.2 376.8C374.4 376.6 377.5 375.7 380.6 375C383.7 374.3 386.8 373.3 390 372.6C393.1 372 396.2 371.2 399.4 370.9C402.5 370.6 405.7 370.7 408.8 370.6C412.5 370.6 416.3 370.8 420 370.9M312.8 385.1C315 383.7 317.1 382.1 319.4 380.9C322.4 379.4 325.6 378.3 328.8 377.4C331.1 376.7 333.5 376.3 335.9 375.8M309.4 369.7C311.6 370.9 313.6 372.4 315.9 373.2C318.5 374.2 321.3 374.6 324.1 375C328 375.6 332 375.8 335.9 376.2M361.8 376.2C364.1 377 366.5 377.7 368.8 378.5C371.2 379.3 373.5 380.1 375.9 380.9C378.2 381.7 381.6 382.6 382.9 383.2C383.8 383.7 384.5 384.4 385.3 385M361.8 376.2C364.9 377.4 367.9 378.8 371.2 379.7C373.5 380.3 375.8 380.9 378.2 380.9C380.6 380.9 383 380.4 385.3 379.7C387.7 379 390.1 377.9 392.4 376.8C394.8 375.6 397.2 374.2 399.4 372.6C401.5 371.2 403.4 369.6 405.3 367.9C407.4 366.1 409.1 363.9 411.2 362.1C412.7 360.8 414.1 359.3 415.9 358.5C417.2 358 418.6 358 420 357.7M77.6 390.9C79.8 390.3 82 389.9 84.1 389.1C86.2 388.3 89.1 386.7 90 386.2C90.6 385.8 91.2 385.4 91.8 385M77.6 395.6C80.6 394.8 83.5 394 86.5 393.2C89.6 392.5 92.7 391.6 95.9 391.1C99.8 390.5 103.7 390.2 107.6 389.9C110.8 389.7 113.9 389.6 117.1 389.7C120.2 389.8 123.3 390.1 126.5 390.3C129.6 390.5 132.7 390.6 135.9 390.6C139.4 390.8 142.9 390.8 146.5 390.9C148.8 390.9 151.2 391.1 153.5 391.1C157.1 391.2 175.6 391.2 178.8 391.1C181 391 183.2 391 185.3 390.6C186.9 390.4 188.4 389.9 190 389.6M132.9 385C134.7 386 136.4 387.1 138.2 387.9C140.5 388.9 142.9 389.8 145.3 390.3C148 390.9 150.8 390.8 153.5 391.1M114.1 385C115.9 386.4 117.7 387.7 119.4 389.1C121.4 390.8 123.2 392.8 125.3 394.4C127.5 396.1 130 397.5 132.4 399.1C134.8 400.8 137 402.7 139.4 404.4C141.3 405.8 143.2 407.4 145.3 408.5C147.5 409.8 149.9 410.8 152.4 411.5C154.6 412.1 157 412.2 159.4 412.3C163 412.5 176 412.8 178.8 412.3C180.7 412 182.3 410.9 184.1 410.3C186.1 409.6 188 408.9 190 408.2M121.8 385C123.3 386.6 124.9 388.1 126.5 389.7C128.5 391.8 130.4 394 132.4 396.2C134.3 398.3 136.2 400.5 138.2 402.6C139.8 404.3 141.2 406 142.9 407.4C144.4 408.5 146 409.5 147.6 410.3C149.5 411.2 151.6 411.9 153.5 412.6M77.6 402.1C79.8 402.8 82 403.5 84.1 404.4C86.5 405.5 88.9 406.7 91.2 407.9C93.6 409.2 95.8 410.8 98.2 412.1C100.5 413.3 103 414.3 105.3 415.6C107.7 416.9 110 418.3 112.4 419.7C114.7 421.1 117 422.5 119.4 423.8C121.7 425.1 124.1 426.3 126.5 427.4C128.8 428.4 131.1 429.4 133.5 430.3C135.9 431.2 138.2 432 140.6 432.6C142.9 433.3 145.3 433.8 147.6 434.2C149.6 434.5 151.6 434.9 153.5 435C156.5 435.2 175.6 435.1 178.8 435C181 434.9 183.2 434.9 185.3 434.4C186.9 434 188.4 433.2 190 432.6M77.6 402.6C80.2 403.6 82.8 404.4 85.3 405.6C88.2 406.9 90.8 408.7 93.5 410.3C96.3 412 99 413.8 101.8 415.6C104.5 417.4 107.2 419.2 110 420.9C112.7 422.5 115.4 424.2 118.2 425.6C120.9 426.9 123.7 428.1 126.5 429.1C129.2 430.1 131.9 431 134.7 431.5C137.4 431.9 140.2 432 142.9 432.1C146.5 432.2 150 432.1 153.5 432.1C158.8 432.1 172.9 432.1 178.8 432.1C182.7 432.1 186.7 432.1 190.6 432.1M77.6 407.9C80.2 408.1 82.7 408.5 85.3 408.5C88 408.5 90.8 408.3 93.5 407.9C95.9 407.7 98.4 407.7 100.6 406.8C102.8 405.9 104.6 404.1 106.5 402.6C108.5 401.1 110.4 399.6 112.4 397.9C114 396.6 115.5 395.2 117.1 393.8C118.2 392.8 119.4 391.9 120.6 390.9M77.6 416.2C79.8 416.2 82 416.4 84.1 416.2C86.5 416 88.8 415.3 91.2 415C93.5 414.7 95.9 414.4 98.2 414.4C100.6 414.4 102.9 414.8 105.3 415C108.4 415.3 111.6 415.6 114.7 415.8C117.8 416 121 416.1 124.1 416.2C127.3 416.2 130.4 416.2 133.5 416.2C136.7 416.1 139.8 416 142.9 415.8C146.5 415.7 150 415.4 153.5 415.4C158.8 415.2 175.6 415.1 178.8 415.4C181 415.5 183.2 415.8 185.3 416.2C186.9 416.5 188.4 417 190 417.4M77.6 416.2C80.2 415.6 82.8 415 85.3 414.4C87.7 413.8 90 413.2 92.4 412.6C93.9 412.3 95.5 411.9 97.1 411.5M77.6 422.6C80.2 422.6 82.7 422.5 85.3 422.4C88 422.4 90.8 422.4 93.5 422.4C96.7 422.5 99.8 422.5 102.9 422.6C105.3 422.8 107.6 423 110 423.2M77.6 416.2C79.4 417.2 81.3 418 82.9 419.1C85 420.5 86.9 422.2 88.8 423.8C90.8 425.5 92.7 427.4 94.7 429.1C96.6 430.7 98.5 432.5 100.6 433.8C102.4 435 104.4 436.1 106.5 436.8C108 437.2 109.6 437.5 111.2 437.4C113.2 437.2 115.2 436.5 117.1 435.6C118.8 434.7 120.4 433.5 121.8 432.1C123.7 430 124.9 427.4 126.5 425C128 422.6 129.6 420.3 131.2 417.9C132.7 415.6 134.2 413.2 135.9 410.9C137.4 408.9 138.9 406.8 140.6 405C142 403.5 143.5 402 145.3 400.9C147.1 399.8 149.1 399 151.2 398.5C153.9 397.9 156.7 397.8 159.4 397.7C163.5 397.5 175.5 397.4 178.8 397.7C181 397.9 183.2 398.5 185.3 399.1C186.9 399.6 188.4 400.3 190 400.9M77.6 446.8C80.2 446.2 82.7 445.6 85.3 445C88 444.4 90.8 443.9 93.5 443.2C96.3 442.5 99 441.7 101.8 440.9C104.5 440.1 107.3 439.5 110 438.5C112.4 437.7 114.8 436.7 117.1 435.6C119.1 434.6 120.9 433.1 122.9 432.1C124.8 431.1 126.8 430.4 128.8 429.7C131.2 428.9 133.5 428 135.9 427.4C138.2 426.8 140.6 426.4 142.9 426.2C146.5 425.8 150 425.7 153.5 425.6C158.8 425.4 175.6 425.4 178.8 425.6C181 425.7 183.2 425.8 185.3 426.2C186.9 426.5 188.4 427.2 190 427.6M77.6 447.4C80.6 447 83.5 446.6 86.5 446.2C89.6 445.8 92.8 445.7 95.9 445C99.1 444.3 102.2 443.1 105.3 442.1C108.5 441 111.6 439.8 114.7 438.5C117.1 437.6 119.4 436.5 121.8 435.6C124.1 434.7 126.4 433.9 128.8 433.2C131.2 432.6 133.5 432 135.9 431.5C138.2 431 140.6 430.6 142.9 430.3C146.5 429.9 150 429.8 153.5 429.7C158.8 429.6 173.2 429.6 178.8 429.7C182.6 429.8 186.3 430.1 190 430.3M77.6 464.4C79.4 464 81.2 463.8 82.9 463.2C85.4 462.4 87.7 461 90 459.7C92.4 458.4 94.7 457 97.1 455.6C99.4 454.2 101.8 452.9 104.1 451.5C106.5 450 108.8 448.3 111.2 446.8C113.5 445.3 115.8 443.9 118.2 442.6C120.5 441.4 122.9 440.2 125.3 439.1C127.6 438.1 129.9 436.9 132.4 436.2C135 435.3 137.8 434.8 140.6 434.4C142.9 434.1 145.3 434.3 147.6 434.2M117.1 440.3C119.4 441.5 121.7 442.8 124.1 443.8C126.4 444.8 128.8 445.4 131.2 446.2C133.5 447 135.9 447.8 138.2 448.5C140.6 449.2 142.9 449.8 145.3 450.3C148 450.8 150.8 451.1 153.5 451.5C156.3 451.9 159 452.4 161.8 452.6C163.7 452.8 165.7 452.9 167.6 452.9C169.6 452.8 171.6 452.5 173.5 452.3C175.3 452.1 177 451.5 178.8 451.5C181.5 451.4 186.3 452 190 452.2M77.6 478.5C79.4 478.9 81.3 479 82.9 479.7C84.7 480.4 86 481.9 87.6 482.6C88.8 483.1 90 483.8 91.2 483.6C92.5 483.4 93.8 482.5 94.7 481.5C96.1 480 97.3 476.3 98.2 474.4C98.8 473.1 99.4 471.8 100 470.5C100.8 468.5 102 466 102.9 463.8C104.4 460.5 106 456.7 107.6 453.2C109.1 450.1 110.6 446.9 112.4 443.8C113.8 441.4 115.3 439 117.1 436.8C118.5 435 120.2 433.6 121.8 432.1M77.6 478.5C80.6 478.5 83.5 478.7 86.5 478.5C88.8 478.4 91.2 478.2 93.5 477.9C95.9 477.6 98.3 477.3 100.6 476.8C103 476.2 105.3 475.2 107.6 474.4C110.8 473.3 116.5 471.1 117.1 470.9C117.4 470.8 117.7 470.6 118.1 470.5C118.6 470.3 123.7 468.4 126.5 467.4C129.6 466.2 132.7 464.9 135.9 463.8C139 462.8 142.1 461.6 145.3 460.9C148 460.3 150.8 460 153.5 459.7C156.3 459.4 159 459 161.8 458.9C163.7 458.8 165.7 458.7 167.6 458.9C169.6 459 171.6 459.5 173.5 459.7C175.3 459.9 177.1 460 178.8 460.3C181 460.7 183.1 461.6 185.3 462.1C186.8 462.4 188.4 462.5 190 462.6M77.6 488.5C80.6 488.5 83.5 488.3 86.5 488.3C89.6 488.3 92.7 488.5 95.9 488.5C99.8 488.5 103.7 488.3 107.6 488.3C111.6 488.3 115.5 488.5 119.4 488.3C122.6 488.1 125.7 488 128.8 487.4C131.2 486.8 133.5 485.7 135.9 485C138.2 484.3 140.6 483.7 142.9 483.2C145.3 482.8 147.6 482.5 150 482.4C153.1 482.2 156.3 482.4 159.4 482.4C164.1 482.4 173.2 482.8 178.8 482.6C182.6 482.6 186.3 482.3 190 482.1M77.6 488.5C79.8 489.3 82 490.1 84.1 490.9C86.1 491.6 88.1 492.4 90 493.2C92 494.1 94 495.1 95.9 496.2C98.3 497.6 100.7 499.2 102.9 500.9C105 502.4 106.9 504 108.8 505.6M78.1 504.7C79.3 503.6 80.6 502.7 81.8 501.5C83.5 499.7 84.9 497.5 86.5 495.6C88 493.8 89.6 491.3 91.2 490.3C92.2 489.6 93.5 488.8 94.7 489.1C96.4 489.6 97.2 491.8 98.2 493.2C99.6 495.1 100.5 497.2 101.8 499.1C102.9 500.7 104.3 502.9 105.3 503.8C106 504.4 106.9 504.8 107.6 505.3M77.6 495.6C80.2 495.6 82.7 495.6 85.3 495.6C88 495.6 90.8 495.6 93.5 495.6C96.7 495.6 99.8 495.8 102.9 495.8C106.1 495.9 109.2 496 112.4 495.8C114.7 495.7 117.1 495.7 119.4 495C121.5 494.4 123.4 493.1 125.3 492.1C127.3 491 129.1 489.4 131.2 488.5C133.4 487.6 135.8 487.2 138.2 486.8C140.6 486.3 142.9 486.1 145.3 485.9C148 485.8 150.8 485.9 153.5 485.9C157.6 485.9 175.6 485.7 178.8 485.9C181 486.1 183.2 486.2 185.3 486.8C186.9 487.2 188.4 487.9 190 488.5M77.6 505.6C79.4 504 81.1 502.3 82.9 500.9C84.8 499.4 86.6 497.7 88.8 496.8C91 495.9 93.5 496 95.9 495.6M105.3 502.6C107.6 502.1 110.1 501.6 112.4 500.9C114.8 500.1 117.2 499.2 119.4 497.9C121.5 496.8 123.2 495 125.3 493.8C127.2 492.8 129.2 492.1 131.2 491.5C133.5 490.7 135.9 490.3 138.2 489.7C140.6 489.1 142.9 488.4 145.3 487.9C147.6 487.5 150 487.2 152.4 486.8M189.4 390.3C192.7 390.4 198.9 390.6 199.4 390.6C199.8 390.7 200.1 390.7 200.5 390.7C201 390.7 207.6 390.9 211.2 390.9C215.1 390.9 219 390.5 222.9 390.6C226.9 390.8 230.8 391.4 234.7 392.1C238.7 392.7 242.5 393.9 246.5 394.4C250.2 394.9 253.9 395.2 257.6 395.4C261.8 395.6 265.9 395.6 270 395.6C274.3 395.6 278.6 395.4 282.9 395.3M190 389.6C192.4 389 195.3 388.4 197.1 387.9C198.2 387.6 199.4 387.2 200.5 386.8C201.7 386.4 203.9 385.8 204.1 385.6C204.2 385.4 204.1 385.2 204.1 385M218.2 385C216.7 386.6 215.1 388.1 213.5 389.7C211.6 391.7 209.6 393.6 207.6 395.6C205.7 397.5 202.4 400.9 201.8 401.5C201.4 401.8 200.9 402.1 200.5 402.5C199.9 403 197.6 405.1 195.9 406.2C193.9 407.4 191.6 408.1 189.4 409.1M190 400.9C192 401.1 193.9 401.7 195.9 401.5C197.5 401.2 199.9 399.9 200.5 399.6C200.9 399.5 201.4 399.3 201.8 399.1C202.4 398.8 205.7 396.4 207.6 395C209.2 393.8 210.8 392.6 212.4 391.5M213.5 392.1C215.5 394 217.5 396 219.4 397.9C221.4 399.9 223.2 402 225.3 403.8C227.2 405.5 229.1 407.1 231.2 408.5C233.1 409.8 235 411 237.1 412.1C239.3 413.2 241.7 414.2 244.1 415C246.4 415.8 248.8 416.3 251.2 416.8C253.3 417.2 255.5 417.5 257.6 417.9M190 408.2C192 408.5 194.1 408.3 195.9 409.1C197.7 410 200.5 413.1 200.5 413.2C200.5 413.2 200.6 413.2 200.6 413.2C200.6 413.3 203.7 416.8 205.3 418.5C206.9 420.3 208.5 422 210 423.8C211.2 425.3 212.4 426.9 213.5 428.5C214.8 430.4 215.9 432.5 217.1 434.4C218.2 436.4 219.5 438.3 220.6 440.3C221.9 443 222.9 445.8 224.1 448.5C225.7 452.1 227.3 455.6 228.8 459.1C230.4 462.6 233.2 469.3 233.5 469.7C233.7 470 234 470.2 234.3 470.5M189.4 416.8C192.7 416.7 198.9 416.5 199.4 416.5C199.8 416.5 200.1 416.5 200.5 416.6C201 416.6 206.1 416.9 208.8 416.8C212 416.6 215.1 416.3 218.2 415.8C221.4 415.3 224.6 414.7 227.6 413.8C230 413.2 232.4 412.4 234.7 411.5C237.1 410.5 239.4 409 241.8 407.9C244.1 406.9 246.4 405.7 248.8 405C251.7 404.2 254.7 404.2 257.6 403.8C261.8 403.4 266.5 403 270 402.6C272.4 402.4 274.7 402.3 277.1 402.1C279 401.9 281 401.7 282.9 401.6M190 417.4C193.5 417.7 199.9 418.3 200.5 418.4C200.9 418.5 201.3 418.5 201.8 418.5C202.4 418.6 209.6 419.1 213.5 419.1C217.5 419.1 221.4 418.6 225.3 418.5C229.2 418.4 233.1 418.6 237.1 418.5C241 418.4 244.9 418.2 248.8 417.9C251.8 417.8 254.7 417.5 257.6 417.4C261.8 417.1 265.9 416.9 270 416.8C274.3 416.6 278.6 416.5 282.9 416.4M190 427.6C192.4 427.2 195.3 426.5 197.1 426.2C198.2 425.9 199.4 425.7 200.5 425.5C202.2 425.2 204.5 424.8 206.5 424.4C209.4 423.8 212.7 422.8 215.9 422.1C219 421.3 222.3 420.8 225.3 419.7C227.8 418.8 230.1 417.6 232.4 416.2C234 415.1 235.4 413.8 237.1 412.6C238.6 411.6 240.1 410.5 241.8 409.7C244 408.6 246.4 407.8 248.8 407.4C251.7 406.8 254.7 406.9 257.6 406.8C261.8 406.6 265.9 406.5 270 406.5C274.3 406.6 278.6 406.9 282.9 407M190 430.3C193.1 429.9 198.9 429.2 199.4 429.1C199.8 429.1 200.1 429.1 200.5 429C201 429 205.3 429 207.6 428.5C210.1 428 212.4 427.1 214.7 426.2C217.1 425.2 219.3 423.6 221.8 422.6C224.4 421.6 227.2 420.8 230 420.3C233.1 419.8 236.3 419.8 239.4 419.7C242.5 419.6 245.7 419.8 248.8 419.7C251.8 419.6 254.7 419.2 257.6 419.4C260.2 419.5 262.8 419.9 265.3 420.3C268.4 420.8 271.5 421.7 274.7 422.1C277.4 422.4 280.2 422.3 282.9 422.4M190 432.6C192.4 432.6 195.3 432.4 197.1 432.6C198.2 432.8 199.4 433.2 200.5 433.5C201.7 433.8 202.9 434 204.1 434.4C205.9 435 208.8 436.5 211.2 437.4C213.5 438.2 215.8 439.1 218.2 439.7C220.9 440.4 223.7 440.8 226.5 441.5C229.2 442.2 232 443 234.7 443.8C237.5 444.6 240.1 445.6 242.9 446.2C245.7 446.8 248.4 447.1 251.2 447.4C253.3 447.5 255.5 447.6 257.6 447.6C260.9 447.6 265.9 447.3 270 447.1C274.3 446.9 278.6 446.7 282.9 446.4M189.4 433.8C192.4 433.6 197.1 433.1 198.2 433.2C199 433.3 199.7 433.7 200.5 434C201.6 434.4 203.7 434.9 205.3 435.6C207.6 436.6 210.7 438.5 213.5 439.7C216.2 440.8 219 441.9 221.8 442.6C224.8 443.5 228.1 443.7 231.2 444.4C234.3 445.1 237.4 446.1 240.6 446.8C243.7 447.4 246.8 448 250 448.3C252.5 448.5 255.1 448.6 257.6 448.5C261.5 448.5 265.9 448.1 270 447.9C274.3 447.7 278.6 447.6 282.9 447.4M190 452.2C192.7 451.6 197.1 450.6 198.2 450.3C199 450.1 199.7 449.8 200.5 449.5C201.6 449.1 204.5 448.1 206.5 447.4C209.3 446.3 212 445.1 214.7 443.8C217.1 442.7 219.4 441.5 221.8 440.3C224.1 439.1 226.6 438.2 228.8 436.8C230.9 435.4 232.8 433.7 234.7 432.1C236.3 430.7 237.8 429.3 239.4 427.9C241 426.6 242.4 425.1 244.1 423.8C245.6 422.7 247.1 421.6 248.8 420.9C250.3 420.3 252 420.1 253.5 419.7M213.5 440.3C215.9 442.3 218.1 444.3 220.6 446.2C222.9 447.9 225.2 449.5 227.6 450.9C229.9 452.2 232.3 453.4 234.7 454.4C237 455.4 239.4 456.1 241.8 456.8C244.1 457.4 246.4 458.2 248.8 458.5C251.7 459 254.7 458.7 257.6 459.1C260.2 459.5 262.8 460.2 265.3 460.9C267.7 461.5 270 462.3 272.4 462.9C274.3 463.4 276.3 463.8 278.2 464.1C279.8 464.3 281.4 464.2 282.9 464.3M190 482.1C193.1 481.7 198.8 481.1 199.4 480.9C199.8 480.7 200.1 480.4 200.5 480.2M190 462.6C192 463.6 194.1 464.3 195.9 465.6C197.6 466.9 200.4 470.1 200.5 470.2C200.6 470.3 200.6 470.4 200.6 470.5M190 488.5L200.5 488.4M189.4 487.4C192 488.5 195.3 490 197.1 490.9C198.2 491.5 199.4 492.2 200.5 492.8M272.1 385C273.3 386.2 274.4 387.6 275.9 388.5C278 389.8 280.6 390.2 282.9 391M385.3 385C386.9 386 388.3 387.1 390 387.9C392.5 389.2 395.5 389.9 398.2 390.9C401 391.9 403.7 393 406.5 393.8C408.8 394.5 411.1 395.2 413.5 395.6C415.7 395.9 417.8 395.7 420 395.8M336.2 420.5C340.4 420.3 344.6 420.1 348.8 420.1C353.1 420 358.2 420.3 361.8 420.3C364.1 420.3 366.5 420.6 368.8 420.3C371.2 420 373.6 419.3 375.9 418.5C379.1 417.5 382.2 416.3 385.3 415C388.5 413.7 391.6 412.3 394.7 410.9C397.8 409.5 400.9 408 404.1 406.8C406.8 405.7 409.5 404.4 412.4 403.8C414.9 403.3 417.5 403.4 420 403.2M335.9 423.2C340.2 423.2 344.5 423.2 348.8 423.2C353.1 423.2 358.2 423.1 361.8 423.2C364.1 423.3 366.5 424 368.8 423.8C372 423.6 375.2 422.5 378.2 421.5C381.5 420.4 384.5 418.8 387.6 417.4C390.8 415.9 393.9 414.1 397.1 412.6C400.2 411.2 403.3 409.8 406.5 408.5C408.8 407.6 411.1 406.6 413.5 406.2C415.7 405.8 417.8 406 420 405.9M336.2 425.5C340.4 425.8 344.6 426.2 348.8 426.2C353.1 426.2 357.4 425.6 361.8 425.6C364.9 425.6 368 426.2 371.2 426.2C374.3 426.2 377.5 426.3 380.6 425.6C383.9 424.8 386.8 422.7 390 421.5C393.1 420.3 396.2 419.3 399.4 418.5C402.5 417.8 405.6 417.1 408.8 416.8C412.5 416.4 416.3 416.6 420 416.5M361.8 425.6C364.1 426.2 366.4 427 368.8 427.4C371.2 427.7 373.5 428.2 375.9 427.9C378.3 427.6 380.6 426.4 382.9 425.6C386.1 424.6 389.2 423.5 392.4 422.6C395.5 421.8 398.6 420.9 401.8 420.3C404.9 419.7 408 419.3 411.2 419.1C414.1 418.9 417.1 419.1 420 419.1M336.2 443.3C340.4 443.2 344.6 442.9 348.8 442.9C353.1 442.8 358.8 442.8 361.8 442.9C363.7 442.9 365.7 443.6 367.6 443.2C369.4 442.9 370.8 441.7 372.4 440.9C374 440 375.5 438.9 377.1 437.9C379 436.7 380.9 435.5 382.9 434.4C385.2 433.1 387.7 432.1 390 430.9C392.4 429.6 394.7 428.1 397.1 426.8C399.4 425.4 401.8 423.9 404.1 422.6C405.7 421.8 407.2 420.9 408.8 420.3C410.3 419.7 411.9 419.4 413.5 419.1C415.7 418.8 417.8 418.7 420 418.5M336.2 437C340.4 436.9 344.6 436.8 348.8 436.8C353.1 436.7 358.2 436.8 361.8 436.8C364.1 436.8 366.5 436.7 368.8 436.8C371.2 436.9 373.6 437 375.9 437.4C378.3 437.7 380.6 438.4 382.9 439.1C386.1 440.1 389.2 441.6 392.4 442.6C395.5 443.7 398.6 444.8 401.8 445.6C404.9 446.4 408 447 411.2 447.4C414.1 447.7 417.1 447.7 420 447.9M336.2 429C340.4 428.9 344.6 428.5 348.8 428.5C353.1 428.5 359.1 428.3 361.8 429.1C363.5 429.7 364.9 431.1 366.5 432.1C368.4 433.3 370.3 434.7 372.4 435.6C374.2 436.4 376.3 436.8 378.2 437.4C380.6 438 383 438.4 385.3 439.1C388.5 440.1 391.6 441.5 394.7 442.6C397.8 443.8 400.9 445.1 404.1 446.2C406.8 447.1 409.5 448.1 412.4 448.5C414.9 448.9 417.5 448.7 420 448.8M336.2 432.3C340.4 432.2 344.6 432.1 348.8 432.1C353.1 432 357.5 432.1 361.8 432.1M336.2 445.8C340.4 445.8 344.6 445.6 348.8 445.6C353.1 445.5 358.2 445.4 361.8 445.6C364.1 445.7 366.5 445.9 368.8 446.2C372 446.6 375.1 447.2 378.2 447.9C381.4 448.7 384.5 449.8 387.6 450.9C390.8 452 393.9 453.3 397.1 454.4C400.2 455.5 403.3 456.5 406.5 457.4C408.8 458 411.1 458.6 413.5 458.9C415.7 459.2 417.8 459 420 459.1M336.2 451.9C338.4 451.8 340.7 451.6 342.9 451.5C344.9 451.4 346.9 451.2 348.8 451.2C351.2 451.3 353.5 451.6 355.9 451.8C357.9 452 359.8 452.8 361.8 452.6C363.4 452.6 364.9 451.1 366.5 451.5C368.5 452 369.7 454.2 371.2 455.6C373.2 457.5 375.1 459.5 377.1 461.5C379 463.4 381.4 465.8 382.9 467.4C384 468.4 385 469.5 386.1 470.5C387 471.4 387.9 472.3 388.8 473.2C390.2 474.6 392.7 477.2 394.7 479.1C396.3 480.7 397.7 482.4 399.4 483.8C400.9 485.1 402.4 486.4 404.1 487.4C405.6 488.2 407.2 488.8 408.8 489.1C411.3 489.6 416.3 489.4 420 489.5M336.2 478.6C340.4 478.6 344.6 478.5 348.8 478.5C353.1 478.5 358.2 478.2 361.8 478.5C364.1 478.7 366.5 479 368.8 479.7C371.3 480.4 373.5 481.7 375.9 482.6C378.2 483.6 380.5 484.8 382.9 485.6C385.2 486.4 387.6 486.9 390 487.4C391.9 487.8 393.9 488.5 395.9 488.3C398 488.1 399.9 487.2 401.8 486.2C404 485 405.5 482.7 407.6 481.5C409.5 480.4 411.5 479.6 413.5 479.1C415.6 478.6 417.8 478.7 420 478.5M336.2 480.8C340.4 480.7 344.6 480.5 348.8 480.5C353.1 480.5 357.5 480.7 361.8 480.9C364.9 481 368 481.3 371.2 481.5C374.3 481.7 377.4 482.2 380.6 482.1C383.7 482 386.9 481.4 390 480.9C393.2 480.4 396.3 479.6 399.4 479.1C402.5 478.6 405.7 478.1 408.8 477.9C412.5 477.7 416.3 477.9 420 477.9M335.9 485.2C340.2 485.2 344.5 485 348.8 485C353.1 485 358.2 485.3 361.8 485.2C364.1 485.2 366.5 485.5 368.8 485C370.5 484.7 371.9 483.7 373.5 483.2C375.1 482.8 376.7 482.5 378.2 482.1M336.2 486C338.4 486.5 340.7 487.1 342.9 487.4C344.9 487.6 346.9 487.6 348.8 487.6C351.2 487.6 353.5 487.4 355.9 487.1C357.9 486.9 359.8 486.5 361.8 486.2M336.2 490.3C338.4 490.7 340.7 491.2 342.9 491.5C344.9 491.7 346.9 491.9 348.8 491.8C351.2 491.7 353.5 491.3 355.9 490.9C357.9 490.6 359.8 490.1 361.8 489.7C364.1 489.3 366.4 488.4 368.8 488.5C371.2 488.6 373.6 489.5 375.9 490.3C378.3 491.1 380.5 492.5 382.9 493.2C385.6 494.1 388.4 494.9 391.2 495C393.6 495.1 395.9 494.3 398.2 493.8C400.2 493.5 402.2 492.3 404.1 492.6C405.9 493 407.4 494.4 408.8 495.6C410.6 497.1 411.7 499.4 413.5 500.9C414.9 502.1 417.4 503.4 418.2 503.8C418.8 504.1 419.4 504.2 420 504.4M336.2 492.6C340.4 492.8 344.6 493 348.8 493C353.1 493 357.5 492.6 361.8 492.6C364.9 492.7 368.1 492.8 371.2 493.2C374.3 493.6 377.5 494.4 380.6 495C383.7 495.6 386.9 496 390 496.8C393.2 497.6 396.3 498.7 399.4 499.7C402.5 500.7 405.7 501.6 408.8 502.6C411.2 503.4 413.5 504.2 415.9 505M361.8 486.2C364.1 487.2 366.5 488.1 368.8 489.1C371.2 490.1 373.5 491.2 375.9 492.1C378.2 492.9 380.6 493.7 382.9 494.4C386 495.3 389.2 496 392.4 496.8C395.1 497.4 397.8 497.9 400.6 498.5M282.9 391C284.2 390.6 285.5 390.4 286.7 389.8C288.2 389.1 289.4 388 290.8 387.1C291.7 386.4 292.7 385.8 293.6 385.1M282.9 395.3C284.9 395.1 286.8 395.1 288.7 394.6C290.9 394 292.8 392.8 294.9 391.9C296.4 391.2 298.7 390.2 299.5 389.8C300 389.6 300.5 389.3 301.1 389.1C301.9 388.8 305.2 387.4 307.3 386.7C309.3 386 313.5 385.3 313.4 385C313.4 384.8 313 385.1 312.8 385.1M282.9 401.6C284.4 401.9 285.9 402 287.4 402.5C289 403.1 290.6 404.1 292.2 404.9C294 405.8 296.7 407.2 297.6 407.6C298.3 408 298.9 408.3 299.5 408.6C300.4 409 301.9 409.8 303.1 410.4C305 411.3 306.8 412.2 308.6 413.1C310.5 414.1 312.3 415 314.1 415.9C315.9 416.7 317.7 417.6 319.6 418.3C321.4 419 323.2 419.6 325.1 420C326.9 420.4 328.7 420.6 330.6 420.7C332.4 420.8 334.3 420.6 336.2 420.5M282.9 401.5C284.8 402.2 286.8 402.7 288.7 403.5C290.6 404.3 292.4 405.4 294.2 406.3C296 407.2 299.4 408.9 299.5 408.9C299.6 409 299.6 409 299.7 409C299.8 409.1 303.4 410.9 305.2 411.8C307 412.7 308.9 413.6 310.7 414.5C312.5 415.4 314.3 416.3 316.2 417.3C318 418.2 319.8 419.1 321.7 420C323.5 420.8 325.3 421.6 327.2 422.4C328.8 423.1 330.3 423.9 332 424.5C333.3 424.9 334.8 425.2 336.2 425.5M282.9 407C284.9 407.4 286.8 407.7 288.7 408C290.6 408.3 292.4 408.2 294.2 408.7C296.1 409.2 299.4 410.9 299.5 411C299.6 411 299.6 411 299.7 411.1C299.8 411.1 303.4 412.9 305.2 413.8C307 414.7 308.9 415.7 310.7 416.6C312.5 417.5 314.3 418.4 316.2 419.3C318 420.2 319.8 421 321.7 421.7C323.5 422.4 325.3 422.9 327.2 423.4C328.8 423.9 330.3 424.4 332 424.8C333.4 425.1 334.9 425.3 336.4 425.5M282.9 416.4C284.9 416.3 286.8 416.3 288.7 416.2C291 416.1 293.6 415.7 295.6 415.9C296.9 416 298.2 416.4 299.5 416.7C300.5 416.9 301.5 417 302.5 417.3C303.9 417.6 307 418.6 309.3 419.3C311.6 420 313.9 420.7 316.2 421.4C318.5 422.1 320.8 422.7 323 423.4C325.3 424.1 327.7 424.6 329.9 425.5C332.1 426.4 334.1 427.8 336.2 429M282.9 416.9C284.8 417.3 286.8 417.5 288.7 417.9C291 418.4 293.6 419.1 295.6 419.7C296.9 420.1 298.2 420.6 299.5 421C300.5 421.4 301.5 421.7 302.5 422.1C303.9 422.6 307 423.9 309.3 424.8C311.6 425.7 313.9 426.6 316.2 427.6C318.5 428.5 320.7 429.7 323 430.6C325.3 431.5 327.5 432.8 329.9 433C332 433.3 334.1 432.5 336.2 432.3M282.9 416.9C285.3 417.7 287.7 418.4 290.1 419.3C292.4 420.2 295.7 421.5 297 422.1C297.8 422.4 298.7 422.9 299.5 423.3C300.8 424 302.4 424.8 303.8 425.5C306 426.6 308.4 427.8 310.7 428.9C313 430.1 315.3 431.2 317.6 432.4C319.8 433.5 322.2 434.5 324.4 435.8C326.3 436.8 328.1 438 329.9 439.2C331.1 440.1 332.1 441.2 333.3 442C334.2 442.5 335.2 442.8 336.2 443.3M282.9 422.4C284.9 422.4 286.8 422.2 288.7 422.4C291.1 422.7 293.6 423.4 295.6 424.1C296.9 424.6 298.2 425.3 299.5 425.9C300.5 426.3 301.5 426.8 302.5 427.2C303.9 427.9 307 429.3 309.3 430.3C311.6 431.3 313.9 432.4 316.2 433.4C318.4 434.3 320.7 435.4 323 436.1C324.8 436.6 326.7 437 328.5 437.2C331.1 437.4 333.6 437 336.2 437M282.9 446.4C284.9 446.3 286.8 446.3 288.7 446.1C291 445.8 293.6 445.2 295.6 444.7C296.9 444.4 298.2 443.9 299.5 443.5C300.5 443.2 301.5 443 302.5 442.6C303.9 442.2 307 441 309.3 440.2C311.6 439.4 313.9 438.7 316.2 437.8C318 437.1 319.9 436.3 321.7 435.4C323.5 434.5 325.3 433.4 327.2 432.4C328.8 431.4 330.4 430.6 332 429.6C333.5 428.7 334.9 427.8 336.4 426.9M282.9 447.4C285.3 447.3 287.7 447.3 290.1 447.1C292.4 446.9 295.7 446.4 297 446.1C297.8 445.9 298.7 445.6 299.5 445.3C300.8 444.9 302.4 444.5 303.8 444C306 443.3 308.4 442.5 310.7 441.6C313 440.8 315.3 439.8 317.6 438.9C319.4 438.1 321.2 437.3 323 436.5C324.9 435.7 326.7 434.9 328.5 434.1C330.2 433.3 331.8 432.6 333.3 431.7C334.4 431 335.4 430.3 336.4 429.6M282.9 464.3C284.2 464.2 285.5 464.3 286.7 463.9C288.1 463.5 289.5 462.6 290.8 461.9C292.4 460.9 294 459.8 295.6 458.8C296.9 458 298.7 456.8 299.5 456.3C300 456 300.5 455.7 301.1 455.3C301.9 454.9 304.7 453.2 306.6 452.3C308.4 451.3 310.2 450.4 312.1 449.5C313.9 448.7 315.7 447.8 317.6 447.1C319.3 446.5 321.2 446 323 445.7C324.9 445.5 326.7 445.4 328.5 445.4C331.1 445.4 333.6 445.7 336.2 445.8M299.5 485.2C300.5 484.3 301.5 483.4 302.5 482.5C303.8 481.1 305.3 479.8 306.6 478.3C308 476.8 309.4 475 310.7 473.5C311.6 472.5 312.5 471.4 313.3 470.5C313.8 469.9 314.3 469.3 314.8 468.7C315.6 467.8 317.5 465.5 318.9 463.9C320.3 462.4 321.6 460.9 323 459.5C324.4 458.1 325.7 456.9 327.2 455.7C328.5 454.6 329.7 453.3 331.3 452.6C332.8 452 334.5 452.2 336.2 451.9M299.5 479.6C300.9 479.8 302.4 479.9 303.8 480.1C306 480.2 308.4 480.3 310.7 480.4C313 480.5 315.3 480.5 317.6 480.4C319.8 480.3 322.1 480.3 324.4 480.1C326.7 479.8 329 479.3 331.3 479C332.9 478.8 334.5 478.7 336.2 478.6M299.5 481.3C300.5 481.3 301.5 481.4 302.5 481.4C303.9 481.5 307 481.7 309.3 481.8C312.1 481.8 314.8 481.8 317.6 481.8C320.3 481.7 323 481.6 325.8 481.4C329.2 481.2 332.7 481 336.2 480.8M299.5 500.8C300.5 501.8 301.8 503 302.5 503.7C302.9 504.2 303.2 504.8 303.5 505.4M299.5 487.3C300.5 487.2 301.5 487 302.5 486.9C303.9 486.8 307 486.7 309.3 486.6C311.6 486.5 313.9 486.3 316.2 486.2C318.5 486.1 320.8 486 323 485.9C325.3 485.8 327.6 485.5 329.9 485.5C332 485.6 334.1 485.9 336.2 486M299.5 488.2C300 488 300.5 487.7 301.1 487.6C301.9 487.4 304.7 487.4 306.6 487.3C308.9 487.1 311.1 487 313.4 486.9C316.6 486.8 319.8 486.5 323 486.4C327.5 486.4 332 486.8 336.4 486.9M299.5 501.5C300.5 501.8 301.4 502.1 302.5 502.4C304 502.7 306.1 503.2 307.9 503C309.8 502.9 311.7 502.3 313.4 501.7C315.4 501 317.1 499.9 318.9 498.9C320.8 497.9 322.5 496.5 324.4 495.5C326.2 494.5 328.2 493.6 329.9 492.7C331 492.2 332.1 491.5 333.3 491C334.2 490.7 335.2 490.6 336.2 490.3M299.5 499C299.6 499 299.6 498.9 299.7 498.9C299.8 498.9 303.4 498 305.2 497.6C307 497.1 308.9 496.6 310.7 496.2C312.5 495.7 314.3 495.2 316.2 494.8C318.4 494.4 320.7 494.1 323 493.8C325.3 493.5 327.6 493.3 329.9 493.1C332 492.9 334.1 492.8 336.2 492.6M78.1 504.7C80.7 505.3 83.5 505.4 85.9 506.5C88.6 507.7 90.8 509.8 92.9 511.8C95.5 514.2 97.6 517.1 100 519.7C102.3 522.1 104.5 524.6 107.1 526.8C109.3 528.7 111.6 530.5 114.1 532.1C116.9 533.8 119.9 535.1 122.9 536.5C125.8 537.8 128.7 539.1 131.8 540C134.6 540.9 137.6 541.4 140.6 541.8C144.7 542.3 148.8 542.5 152.9 542.6C159.1 542.9 175.3 543.1 178.5 542.6C180.6 542.3 182.7 541.7 184.7 540.9C187.7 539.7 190.7 538.1 193.5 536.5C195.9 535.1 198.2 533.5 200.5 532M107.6 505.3C109.2 507.2 110.8 509 112.4 510.9C114.7 513.7 117 516.8 119.4 519.7C121.7 522.4 124 525.1 126.5 527.6C128.7 530.1 130.9 532.6 133.5 534.7C135.7 536.4 138.1 537.9 140.6 539.1C142.8 540.2 145.2 541.1 147.6 541.8C149.4 542.2 151.2 542.4 152.9 542.6M77.1 520.6C78.8 521.5 80.8 522 82.4 523.2C84.5 524.9 86 527.2 87.6 529.4C89.6 531.9 91 534.8 92.9 537.4C94.6 539.5 96.6 541.9 98.2 543.5C99.3 544.6 100.6 545.5 101.8 546.5M77.1 541.2C79.4 540.8 81.8 540.7 84.1 540C86.6 539.2 88.8 537.6 91.2 536.5C93.5 535.3 95.8 533.9 98.2 532.9C100.5 532 102.9 531.1 105.3 530.8C107.6 530.5 110.1 530.6 112.4 531.2C114.3 531.7 115.9 532.9 117.6 533.8C120 535 122.3 536.3 124.7 537.4C127.6 538.6 130.5 539.7 133.5 540.5C137 541.4 140.6 541.7 144.1 542.3M77.1 541.2C80 541.6 83 541.7 85.9 542.3C88.3 542.8 90.6 543.6 92.9 544.4C94.7 545 96.5 545.8 98.2 546.5M178.5 542.6C181.2 541.5 183.9 540.5 186.5 539.1C189.5 537.5 192.6 535.6 195.3 533.8C197.1 532.7 198.8 531.4 200.5 530.2M178.5 543C180 543.8 181.4 544.6 182.9 545.3C184.1 545.8 185.3 546.1 186.5 546.5M299.5 539.7C300.6 541 301.5 542.5 302.9 543.5C304.5 544.6 306.5 545.3 308.2 545.8C309.4 546.2 310.6 546.3 311.8 546.5M299.5 533.9C302.4 532.7 305.2 531 308.2 530.3C311.1 529.7 314.1 529.8 317.1 529.9C320.6 530.1 324.1 530.8 327.6 531.2C330.5 531.5 333.3 532.2 336.1 532.1C339.2 531.9 342.2 530.7 345.3 530.3C347.6 530 350 529.7 352.3 529.9C355.5 530.2 358.4 531.9 361.5 532.1C364.4 532.2 367.3 532 370 531.2C372.5 530.4 374.8 529 377.1 527.6C380.1 525.8 382.9 523.4 385.9 521.5C388.8 519.6 391.5 517.4 394.7 516.2C396.9 515.3 399.4 514.9 401.8 514.8C404.7 514.6 407.6 515.5 410.6 515.8C413.8 516.2 417 516.6 420.3 517.1M303.5 505.4C304.5 507.2 305.4 509.1 306.5 510.9C308.1 513.6 309.7 516.4 311.8 518.8C313.9 521.4 316.2 523.8 318.8 525.9C321 527.6 323.3 529.3 325.9 530.3C329.1 531.6 332.7 531.6 336.1 532.4C339.2 533.1 342.2 534.2 345.3 534.7C347.6 535.1 350 535.5 352.3 535.2C355.5 534.9 358.4 533.2 361.5 532.4C364.9 531.5 368.4 531.3 371.8 530.3C374.8 529.4 377.6 527.9 380.6 526.8C383.5 525.6 386.4 524.1 389.4 523.2C392.8 522.3 396.4 521.8 400 521.5C403.5 521.2 407 521.5 410.6 521.5C413.8 521.5 417 521.5 420.3 521.5M389.4 546.5C391.8 545.8 394.1 545.1 396.5 544.4C398.8 543.7 401.1 542.8 403.5 542.3C405.8 541.8 408.2 541.5 410.6 541.2C413.8 540.9 417 541 420.3 540.9M400 546.5C401.8 544.1 403.6 541.7 405.3 539.1C407.2 536.2 408.6 533.1 410.6 530.3C412.2 528.1 413.9 525.8 415.9 524.1C417.2 523 418.8 522.4 420.3 521.5M200.5 480.2C203.6 479.6 206.7 478.7 209.8 478.3C213.7 477.8 217.6 477.8 221.6 477.6C225.2 477.5 228.8 477.3 232.4 477.4C235.3 477.4 238.2 477.7 241.2 477.8C243.8 478 246.4 478.4 249 478.3C251.9 478.3 254.8 477.7 257.6 477.6C261.3 477.6 265 478.1 268.6 478.3C273.4 478.6 280.1 478.8 282.8 479C284.7 479.2 286.5 479.3 288.2 479.8C290.3 480.5 292.1 481.8 294.1 482.7C295.9 483.6 297.7 484.4 299.5 485.2M234.3 470.5C234.9 471.6 235.6 472.8 236.3 473.9C237.2 475.6 238 477.4 239.2 478.8C240.3 480.2 241.8 481.6 243.1 482.3C244 482.7 245.1 483 246.1 482.7C247.2 482.5 248 481.4 249 480.8C250.3 480.1 251.6 479.3 252.9 478.8C254.5 478.3 256.1 478.3 257.6 478M200.5 488.4C203.6 488.3 206.7 488.1 209.8 488.1C213.1 488.2 216.3 488.5 219.6 488.6C222.9 488.8 226.1 489 229.4 489.1C232 489.2 234.6 489.3 237.3 489.1C239.2 489 241.1 488.1 243.1 488.1C245.1 488.1 247 489 249 489.1C251.9 489.4 254.8 489.2 257.6 489.1C261.3 489 265 488.8 268.6 488.6C273.4 488.4 280.1 488.3 282.8 488.1C284.6 488 286.4 487.7 288.2 487.6C290.2 487.6 292.2 488 294.1 488.1C295.9 488.2 297.7 488.2 299.5 488.2M200.6 470.5C200.6 470.5 200.5 470.5 200.5 470.5C200.5 470.6 203.4 473.4 204.9 474.9C206.5 476.5 208.2 478.2 209.8 479.8C211.4 481.4 213 483.2 214.7 484.7C216.3 486.1 217.9 487.4 219.6 488.6C221.2 489.7 222.8 490.8 224.5 491.6C226.1 492.3 227.7 492.8 229.4 493C231 493.3 232.7 493.3 234.3 493C236 492.7 237.7 492 239.2 491.1C240.3 490.4 241.1 489.3 242.2 488.6C242.9 488.2 243.7 487.6 244.6 487.6C245.6 487.7 246.2 488.6 247.1 489.1M200.5 492.8C202.3 493.7 204.1 494.5 205.9 495.5C207.9 496.6 209.8 497.7 211.8 498.9C213.8 500.2 215.6 501.6 217.6 502.8C219.6 504 221.5 505.2 223.5 506.3C225.5 507.3 227.5 508.2 229.4 509.2C231.4 510.2 233.3 511.2 235.3 512.2C237.2 513 239.2 513.9 241.2 514.6C243.1 515.3 245.1 516.1 247.1 516.6C249 517 251 517.4 252.9 517.5C254.5 517.7 256.2 518.1 257.6 517.5C258.9 517.1 259.8 516 260.8 515.1C262.2 513.7 263.4 511.8 264.7 510.2C266 508.6 267.2 506.9 268.6 505.3C269.9 503.9 271.2 502.6 272.5 501.4C273.8 500.3 275 499.1 276.5 498.4C277.7 497.9 279.2 497.6 280.4 497.5C281.2 497.4 282 497.6 282.8 497.5C284.1 497.3 286.6 496.8 288.2 496C289.7 495.3 290.9 494.1 292.2 493C293.5 491.9 294.7 490.7 296.1 489.6C297.2 488.8 298.4 488.1 299.5 487.3M200.5 532C202.3 530.6 204.2 529.3 205.9 527.8C208 526 209.9 524 211.8 522C213.8 519.8 215.7 517.4 217.6 515.1C219.6 512.8 221.7 510.6 223.5 508.2C225.3 506 226.8 503.7 228.4 501.4C229.7 499.6 230.9 497.7 232.4 496C233.6 494.6 234.8 493.1 236.3 492.1C237.5 491.2 238.7 490.3 240.2 490.1C241.5 490 243 490.4 244.1 491.1C245.4 491.9 246.2 493.3 247.1 494.5C248.2 496.1 248.9 497.8 250 499.4C250.9 500.8 251.7 502.4 252.9 503.3C253.8 504 255 504.3 255.9 504.5C256.5 504.6 257.1 504.5 257.6 504.5M200.5 534.3C202.6 532.5 204.9 530.8 206.9 528.8C209.3 526.4 211.5 523.7 213.7 521C215.8 518.4 217.5 515.6 219.6 513.1C221.4 511 223.7 508.3 225.5 507.3C226.7 506.6 228.1 506.6 229.4 506.3C231.4 505.8 233.3 505.4 235.3 505.1C237.9 504.7 240.5 504.4 243.1 504.3C245.7 504.2 248.4 504.3 251 504.3C253.2 504.3 255.4 504.3 257.6 504.3C261 504.3 265 504.5 268.6 504.5C271.2 504.5 273.9 504.6 276.5 504.5C278.6 504.5 281.1 504.6 282.8 504.3C284 504.1 285.2 503.9 286.3 503.3C287.7 502.6 288.7 501 290.2 500.4C291.4 499.9 292.8 499.8 294.1 499.9C296 500.1 297.7 500.9 299.5 501.5M215.7 547C217.6 546 219.8 545.3 221.6 544C223.8 542.5 225.5 540.5 227.5 538.6C229.5 536.7 231.3 534.7 233.3 532.7C235.3 530.9 237.1 528.9 239.2 527.4C241 526 243 524.9 245.1 523.9C247 523.1 249 522.4 251 522C253.2 521.4 255.4 521.2 257.6 521C261 520.7 265 520.6 268.6 520.5C271.2 520.4 273.9 520.5 276.5 520.5C278.6 520.5 280.9 519.8 282.8 520.5C284.3 521 285.3 522.3 286.3 523.4C287.8 525.1 288.8 527.1 290.2 528.8C291.5 530.5 292.7 532.2 294.1 533.7C295.4 535.1 297.2 536.7 298 537.6C298.6 538.3 299 539 299.5 539.7M231.4 547C233 546.1 234.9 545.7 236.3 544.5C238 543 238.9 540.6 240.2 538.6C241.5 536.7 242.7 534.6 244.1 532.7C245.4 531.1 246.6 529.4 248 527.8C249.3 526.5 250.5 525.1 252 523.9C253.2 523 255 521.8 255.9 521.5C256.4 521.2 257.1 520.8 257.6 521C258.5 521.3 259.7 523.6 260.8 524.9C262.1 526.5 263.4 528.2 264.7 529.8C266 531.4 267.2 533.1 268.6 534.7C269.9 536.1 271.1 537.5 272.5 538.6C273.8 539.6 275 540.6 276.5 541.1C278.5 541.7 280.7 541.7 282.8 541.6C284.7 541.5 286.5 541.2 288.2 540.6C290 540 291.5 539 293.1 538.1C294.8 537.3 297.1 536.4 298 535.7C298.6 535.2 299 534.5 299.5 533.9M234.3 547C235.9 545.7 237.4 544 239.2 543C241 542.1 243.1 541.5 245.1 541.1C247.3 540.6 249.7 540.5 252 540.4C253.9 540.3 255.8 540.4 257.6 540.4C260.5 540.4 265 540.3 268.6 540.4C271.2 540.5 273.9 540.6 276.5 540.8C278.6 540.9 280.7 541.1 282.8 541.4C284.6 541.6 286.4 541.8 288.2 542.1C290.2 542.3 292.2 542.7 294.1 543C295.9 543.3 297.7 543.6 299.5 543.9"/>
</g>
<rect x="76" y="150.3" width="352.5" height="396.6" fill="none" stroke="#4a4a4a" stroke-width="1.3"/>
<g stroke="#333" stroke-width="1">
<path d="M72.8 150.3H76"/>
<path d="M72.8 216.5H76"/>
<path d="M72.8 282.5H76"/>
<path d="M72.8 349.9H76"/>
<path d="M72.8 414.5H76"/>
<path d="M72.8 480H76"/>
<path d="M72.8 547H76"/>
<path d="M78.4 547V550.5"/>
<path d="M153.5 547V550.5"/>
<path d="M178.8 547V550.5"/>
<path d="M257.6 547V550.5"/>
<path d="M283 547V550.5"/>
<path d="M336 547V550.5"/>
<path d="M361.8 547V550.5"/>
<path d="M420.5 547V550.5"/>
</g>
<text x="69.5" y="157.6" font-size="20.5" text-anchor="end" fill="#1a1a1a">6</text>
<text x="69.5" y="223.8" font-size="20.5" text-anchor="end" fill="#1a1a1a">4</text>
<text x="69.5" y="289.8" font-size="20.5" text-anchor="end" fill="#1a1a1a">2</text>
<text x="69.5" y="357.2" font-size="20.5" text-anchor="end" fill="#1a1a1a">0</text>
<text x="69.5" y="421.8" font-size="20.5" text-anchor="end" fill="#1a1a1a">−2</text>
<text x="69.5" y="487.3" font-size="20.5" text-anchor="end" fill="#1a1a1a">−4</text>
<text x="69.5" y="554.3" font-size="20.5" text-anchor="end" fill="#1a1a1a">−6</text>
<text x="78.4" y="569" font-size="21" text-anchor="middle" fill="#1a1a1a">Z</text>
<text x="153.5" y="569" font-size="21" text-anchor="middle" fill="#1a1a1a">A</text>
<text x="178.8" y="569" font-size="21" text-anchor="middle" fill="#1a1a1a">M</text>
<text x="258.5" y="569" font-size="21" text-anchor="middle" fill="#1a1a1a">Γ</text>
<text x="283" y="569" font-size="21" text-anchor="middle" fill="#1a1a1a">Z</text>
<text x="336" y="569" font-size="21" text-anchor="middle" fill="#1a1a1a">R</text>
<text x="361.8" y="569" font-size="21" text-anchor="middle" fill="#1a1a1a">X</text>
<text x="421" y="569" font-size="21" text-anchor="middle" fill="#1a1a1a">Γ</text>
<text x="252.5" y="596" font-size="24" text-anchor="middle" fill="#1a1a1a" textLength="84.5" lengthAdjust="spacingAndGlyphs">k-space</text>
<text x="35" y="349" font-size="25" text-anchor="middle" fill="#1a1a1a" transform="rotate(-90 35 349)">Energy / eV</text>
<text x="37.8" y="55.5" font-size="24" text-anchor="start" fill="#1a1a1a" textLength="30.8" lengthAdjust="spacingAndGlyphs">(a)</text>
<text x="147" y="54.5" font-size="24" fill="#1a1a1a" textLength="159" lengthAdjust="spacingAndGlyphs"><tspan>Sr</tspan><tspan font-size="16" dy="5.5">2</tspan><tspan dy="-5.5">ZnCu</tspan><tspan font-size="16" dy="5.5">2</tspan><tspan dy="-5.5">S</tspan><tspan font-size="16" dy="5.5">2</tspan><tspan dy="-5.5">O</tspan><tspan font-size="16" dy="5.5">2</tspan></text>
<clipPath id="cda"><rect x="533.0" y="4.5" width="357.5" height="684.25"/></clipPath>
<g clip-path="url(#cda)" fill="none" stroke-width="1.85" stroke-linejoin="round">
<path d="M533 203.8C536.2 201.7 539.6 200 542.5 197.5C546.3 194.2 548.8 189.6 552.5 186.2C555.6 183.4 558.8 180.8 562.5 178.8C565.6 177 569.2 176.4 572.5 175C575.1 173.9 577.9 173.1 580 171.2C583.1 168.5 585.1 163.8 587.5 160C590.1 155.9 591.8 151.2 595 147.5C597.1 145 599.3 141.6 602.5 141.2C605.3 140.9 608 143 610 145C613 148 615.3 154.9 617.5 160C620.3 166.5 622.3 173.4 625 180C627.4 185.9 629.5 191.9 632.5 197.5C634.6 201.5 636.9 205.5 640 208.8C642.9 211.8 646.4 214.2 650 216.2C653.9 218.4 658.4 219.4 662.5 221.2C666.7 223.2 670.7 225.7 675 227.5C679.1 229.2 683.2 231.1 687.5 232C692.4 233 697.5 232.6 702.5 232.8C710 232.9 730.8 233 745 232.8C755 232.6 765 232.7 775 231.8C781.7 231.1 788.3 229.6 795 228.8C800.8 228 806.7 227.8 812.5 227C818.4 226.2 824.9 225.2 830 223.8C833.4 222.8 836.9 221.7 840 220C843.7 218 846.5 214.8 850 212.5C853.2 210.4 856.4 208.2 860 207C864.8 205.3 870 205.4 875 204.5C880.2 203.5 885.3 202.3 890.5 201.2" stroke="#2b2b2b" stroke-dasharray="4.5 2"/>
<path d="M533 279.5C534.9 280.5 537.2 281 538.8 282.5C541.1 284.7 543.3 291.2 546.2 295C548.4 297.8 551.5 301.4 553.8 302.5C555.3 303.2 557.2 303.5 558.8 303C561.1 302.2 564.6 297.7 567.5 295C571.7 291.2 575.8 287.5 580 283.8C584.2 280 588.6 276.5 592.5 272.5C595.2 269.8 597 266.2 600 263.8C602.2 261.9 604.6 259.6 607.5 259.5C609.8 259.4 612.1 260.9 613.8 262.5C616.2 264.9 618.1 270.8 620 275C622.3 279.9 623.8 285.2 626.2 290C628.1 293.5 629.7 297.2 632.5 300C634.6 302 637.4 303.2 640 304.5C643.2 306.1 646.7 307.2 650 308.8C653.4 310.3 656.5 312.6 660 313.8C663.2 314.8 666.7 315 670 315.5C673.3 316 676.7 316.2 680 317C683.4 317.8 686.7 319.2 690 320.5C693.4 321.9 696.8 323.2 700 325C702.6 326.5 705.2 328.1 707.5 330C710.2 332.2 712.4 335.1 715 337.5C717.4 339.7 719.6 342.2 722.5 343.8C725.6 345.4 729.1 346.2 732.5 346.8C737.7 347.6 744.2 347.3 750 347.2C758.3 347.2 766.7 346.7 775 346.2C781.7 345.9 788.3 345.2 795 344.8C800.8 344.4 806.7 344.2 812.5 343.8C818.3 343.3 824.2 343.1 830 342.2C834.2 341.7 838.4 340.7 842.5 339.8C846.7 338.7 850.7 337 855 336.2C859.9 335.4 865 335.3 870 335C876.8 334.5 883.7 334.3 890.5 334" stroke="#2b2b2b" stroke-dasharray="4.5 2"/>
<path d="M535.8 342.5C537.2 350 538.4 357.5 540 365C541.5 371.7 542.8 378.5 545 385C546.7 390.1 548.4 396.3 551.2 400C553.2 402.4 555.7 405.3 558.8 405.5C561.1 405.6 563.1 403.5 565 402C567.8 399.8 571.5 394.6 575 391.2C579 387.4 583.4 384.2 587.5 380.5C590.9 377.5 594.1 374.3 597.5 371.2C600 369 602.7 365.5 605 364.5C606.5 363.8 608.4 363.4 610 364C612.3 364.9 613.7 367.4 615 369.5C617 372.6 618.3 377.4 620 381.2C622 385.7 623.8 390.3 626.2 394.5C628.1 397.5 630 400.5 632.5 403C635.4 406 639 408.3 642.5 410.8C645.7 413 649.1 415.1 652.5 417C655.8 418.8 659 420.8 662.5 422C665.7 423.1 669.2 423.2 672.5 423.8C676.7 424.4 680.9 424.7 685 425.8C688.4 426.7 692.4 428.4 695 429.5C696.7 430.2 698.5 430.9 700 432C702.2 433.7 705 437.8 707.5 440.8C710 443.7 712.3 446.9 715 449.8C717.3 452.2 719.6 455 722.5 456.8C725.5 458.6 729 459.6 732.5 460.2C737.7 461.2 744.2 460.7 750 460.8C758.8 460.9 798.7 460.8 812.5 460.5C821.7 460.3 830.8 460 840 459.5C846.7 459.1 853.3 458.4 860 458C870 457.5 880.3 457.3 890.5 457" stroke="#2b2b2b" stroke-dasharray="4.5 2"/>
<path d="M533 535C534.5 530.4 536.1 525.9 537.5 521.2C539.3 515.2 540.6 509 542.5 503C544.4 496.9 546.2 490.8 548.8 485C550.5 480.9 553 475.1 555 473C556.3 471.6 558.1 469.9 560 470C562.1 470.1 563.6 472.2 565 473.8C567.1 476.1 568.9 481.1 571.2 484.5C573.1 487.3 574.8 490.5 577.5 492.5C579.3 493.8 581.5 495 583.8 495C586 495 588 493.6 590 492.5C592.2 491.3 593.9 489.2 596.2 488.2C598.2 487.4 600.4 486.6 602.5 487C605 487.5 607.1 489.4 608.8 491.2C611.3 494 613.1 498.6 615 502.5C617.8 508.2 619.8 514.3 622.5 520C624.8 524.9 627.2 529.9 630 534.5C632.2 538.2 634.5 541.9 637.5 545C639.7 547.3 642.3 549.2 645 551C648.2 553.1 651.6 554.8 655 556.5C658.3 558.1 661.8 559.1 665 560.8C668.4 562.5 671.6 564.6 675 566.5C678.3 568.3 681.5 570.5 685 571.8C688.2 572.9 691.6 573.6 695 574C700 574.6 705 574.4 710 574.5C717.5 574.6 733.3 574.5 745 574.5C762.5 574.5 842 574.2 890.5 574" stroke="#2b2b2b" stroke-dasharray="4.5 2"/>
<path d="M533 672.5C535.3 670.8 537.9 669.5 540 667.5C543 664.6 544.9 660.8 547.5 657.5C549.9 654.5 552.1 651.3 555 648.8C557.2 646.8 560 645.4 562.5 643.8C565 642.1 567.5 640.4 570 638.8C572.5 637.1 575.3 635.7 577.5 633.8C580.4 631.2 582.8 628.1 585 625C587.8 621.1 589.8 616.5 592.5 612.5C594.8 609 597.2 605.4 600 602.5C601.9 600.6 604.5 598.1 606.2 597.5C607.4 597.1 608.8 597 610 597.5C611.7 598.2 613.5 600.6 615 602.5C617.2 605.3 620.2 610.7 622.5 615C625.2 619.9 627.3 625.1 630 630C632.3 634.3 634.5 638.7 637.5 642.5C639.7 645.3 642.3 647.8 645 650C647.3 651.9 650 653.4 652.5 655C655.8 657.1 659.3 658.9 662.5 661.2C665.1 663.2 667.7 665.2 670 667.5C672.7 670.2 674.9 673.4 677.5 676.2C679.9 678.8 682.1 681.7 685 683.8C687.3 685.4 689.8 686.7 692.5 687.5C695.7 688.4 699.2 688.3 702.5 688.5C707.5 688.8 730.8 688.7 745 688.8C766.3 688.8 807.5 688.7 825 688.5C836.7 688.4 848.3 688 860 687.8C870.2 687.5 880.3 687.2 890.5 687" stroke="#2b2b2b" stroke-dasharray="4.5 2"/>
<path d="M533 74.2C535.3 71.3 538 68.7 540 65.5C543 60.8 544.9 55.1 547.5 50C549.9 45.4 552.5 38.9 555 36.2C556.7 34.5 558.8 32.8 561.2 32.5C563.4 32.2 565.6 33.5 567.5 34.5C569.9 35.8 571.4 38.2 573.8 39.5C575.7 40.5 577.8 41.6 580 41.5C582.3 41.4 584.4 40.1 586.2 38.8C589 36.8 591.6 32 595 29.5C597.6 27.5 600.5 25.2 603.8 25C606 24.9 608.3 26.1 610 27.5C612.6 29.7 614.4 34 616.2 37.5C618.7 42.3 620.2 47.6 622.5 52.5C624.8 57.6 627.2 62.7 630 67.5C632.3 71.4 634.6 75.3 637.5 78.8C639.7 81.5 642.2 84 645 86.2C648.1 88.7 651.6 90.6 655 92.5C658.3 94.3 661.7 95.7 665 97.5C668.4 99.4 671.7 101.7 675 103.8C678.3 105.8 681.5 108.3 685 110C688.2 111.6 691.6 112.8 695 113.8C699.1 114.9 703.3 115.7 707.5 116.2C711.6 116.8 715.8 117.1 720 117.2C726.3 117.5 736.7 117.5 745 117.5C755 117.5 765 117.5 775 117.5C790 117.5 815 117.5 830 117.2C840 117.1 850 116.7 860 116.5C870.2 116.2 880.3 116 890.5 115.8" stroke="#3b8ec4"/>
<path d="M533 231.2C537.8 230.7 542.7 230.3 547.5 229.5C552.5 228.7 557.7 227.9 562.5 226.2C566.9 224.7 571.1 222.6 575 220C578.7 217.5 581.6 214.1 585 211.2C588.3 208.5 591.5 204.7 595 203C597.3 201.9 599.9 201.1 602.5 201.2C605.1 201.4 607.7 202.4 610 203.8C613.4 205.7 616.6 209.7 620 212.5C623.2 215.1 626.3 218.1 630 220C633.1 221.6 636.7 222.2 640 223.2C643.3 224.3 646.6 225.3 650 226.2C655 227.6 659.9 229 665 230C670 230.9 675 231.6 680 232C687.5 232.6 695 232.6 702.5 232.8C713.8 232.9 730.8 232.9 745 232.8C755 232.6 765 232.9 775 232C783.4 231.2 791.6 229 800 228C806.6 227.2 813.4 227.1 820 226.2C825 225.6 830.1 224.9 835 223.8C839.2 222.8 843.3 221.2 847.5 220C850.8 219 854.1 217.6 857.5 217C861.6 216.3 865.8 216.4 870 216.2C876.3 216.1 883.7 216.2 890.5 216.2" stroke="#2b2b2b"/>
<path d="M533 210.8C536.2 208.4 539.3 206.1 542.5 203.8C545.8 201.3 548.9 198.3 552.5 196.2C555.6 194.4 559 192.7 562.5 192C565.8 191.3 569.2 192.2 572.5 192C575.9 191.7 579.4 191.7 582.5 190.5C586.2 189 589.2 186.1 592.5 183.8C595.1 181.9 597.1 179.2 600 178C601.9 177.2 604.2 176.7 606.2 177C608.5 177.3 610.8 178.4 612.5 180C615.1 182.3 617.7 188.2 620 192.5C622.7 197.4 624.7 202.7 627.5 207.5C629.8 211.4 631.8 215.6 635 218.8C637.8 221.5 641.4 223.4 645 225C649 226.8 653.3 227.8 657.5 228.8C662.4 229.9 667.5 230.7 672.5 231.2C678.3 231.9 684.2 232.3 690 232.5C698.8 232.8 730 232.8 745 232.8C755 232.7 765 232.7 775 232.5C785 232.2 795 231.7 805 231.2C813.3 230.9 821.7 231 830 230C836.7 229.2 843.3 227.5 850 226.2C856.7 225 863.3 223.7 870 222.5C876.8 221.3 883.7 220.3 890.5 219.2" stroke="#2a2aff"/>
<path d="M533 343C537.8 343.5 542.6 344.4 547.5 344.5C552.5 344.6 557.5 344.2 562.5 343.8C566.7 343.4 570.9 342.7 575 342C579.2 341.3 583.3 340.1 587.5 339.5C590.8 339 594.2 338.7 597.5 338.8C600.9 338.8 604.2 339.3 607.5 340C611.8 340.9 615.8 342.7 620 343.8C624.1 344.8 628.3 345.7 632.5 346.2C638.3 346.9 644.2 346.9 650 347C658.8 347.2 730 347.4 745 347.2C755 347.1 765 346.9 775 346.5C781.7 346.2 788.3 345.6 795 345.2C800.8 344.9 806.7 344.7 812.5 344.2C818.3 343.8 824.2 343.5 830 342.8C834.2 342.2 838.4 341.4 842.5 340.5C846.7 339.6 850.8 338.1 855 337.5C860 336.7 865 336.8 870 336.5C876.8 336.1 883.7 336 890.5 335.8" stroke="#2b2b2b"/>
<path d="M533 330.5C536.2 331.3 539.3 332.3 542.5 333C546.6 333.9 550.8 335 555 335C559.2 335 563.4 333.9 567.5 333C571.7 332.1 575.9 330.9 580 329.5C584.3 328.1 588.3 326 592.5 324.5C595.8 323.3 599.1 321.9 602.5 321.2C605 320.8 607.5 320.3 610 320.8C612.7 321.3 615.1 323.1 617.5 324.5C621 326.5 624.1 329.1 627.5 331.2C630.8 333.3 634 335.4 637.5 337C641.5 338.8 645.8 340.1 650 341.2C654.9 342.6 660 343.7 665 344.5C670 345.3 675 345.9 680 346.2C686.7 346.8 693.3 346.9 700 347C710 347.2 730 347.3 745 347.2C755 347.2 765 347.1 775 347C790 346.9 852 346.7 890.5 346.5" stroke="#2a2aff"/>
<path d="M533 299.5C535.3 300.9 537.9 302 540 303.8C542.9 306.2 544.6 310 547.5 312.5C549.7 314.5 552.6 316.8 555 317.5C556.6 318 558.4 318 560 317.5C562.4 316.8 566.6 313.2 570 311.2C573.3 309.4 576.6 307.7 580 306.2C583.3 304.8 586.8 304.1 590 302.5C593.5 300.8 596.5 298.1 600 296.2C602.4 295 604.8 293.2 607.5 293C609.6 292.8 611.9 293.4 613.8 294.5C616.4 296 618 299 620 301.2C622.6 304.1 624.5 307.6 627.5 310C629.7 311.7 632.3 313 635 313.8C638.2 314.6 641.7 314 645 314.5C648.4 315 651.6 316.2 655 317C658.3 317.7 661.6 318.6 665 319C669.1 319.5 673.4 319 677.5 319.5C681.7 320 685.9 320.9 690 322C693.4 322.9 696.8 324 700 325.5C702.6 326.7 705.2 328.2 707.5 330C710.3 332.2 712.4 335.1 715 337.5C717.4 339.7 719.6 342.2 722.5 343.8C725.6 345.4 729.1 346.2 732.5 346.8C737.7 347.6 744.2 347.2 750 347.2C758.8 347.4 843.7 347.1 890.5 347" stroke="#ff2a2a"/>
<path d="M533 458.8C540.3 459 547.7 459.5 555 459.5C561.7 459.5 568.3 459.2 575 458.8C580 458.4 585 457.8 590 457.5C594.2 457.2 598.3 456.9 602.5 457C606.7 457.1 610.8 457.6 615 458C620 458.5 625 459.6 630 460C636.6 460.5 643.3 460.4 650 460.5C660 460.6 730 460.7 745 460.8C755 460.8 765 460.8 775 460.8C790 460.7 852 460.6 890.5 460.5" stroke="#2b2b2b"/>
<path d="M535.8 342.5C537.2 350 538.4 357.5 540 365C541.5 371.7 542.9 378.4 545 385C546.7 390.5 548.4 397.5 551.2 401.2C553.1 403.8 555.6 406.7 558.8 407C561.1 407.2 563.1 405.1 565 403.8C567.8 401.7 571.5 396.9 575 393.8C579 390.2 583.4 387.2 587.5 383.8C590.9 380.9 594.1 377.9 597.5 375C600 372.9 602.7 369.8 605 368.8C606.5 368.1 608.4 367.5 610 368C612.1 368.6 613.6 370.7 615 372.5C617 375.2 618.3 379.2 620 382.5C622.1 386.7 623.8 391 626.2 395C628.1 398.1 630 401.2 632.5 403.8C635.4 406.7 639.1 408.9 642.5 411.2C645.7 413.5 649.1 415.6 652.5 417.5C655.8 419.3 659 421.3 662.5 422.5C665.7 423.6 669.2 423.7 672.5 424.2C676.7 424.9 680.9 425.2 685 426.2C688.4 427.2 692.4 428.9 695 430C696.7 430.7 698.5 431.4 700 432.5C702.2 434.2 705 438.3 707.5 441.2C710 444.2 712.3 447.2 715 450C717.4 452.5 719.6 455.3 722.5 457C725.5 458.8 729 459.7 732.5 460.2C737.7 461.1 744.2 460.7 750 460.8C758.8 460.9 798.7 460.7 812.5 460.5C821.7 460.4 830.8 460.3 840 460C846.7 459.8 853.3 459.2 860 459C870 458.7 880.3 458.7 890.5 458.5" stroke="#2a2aff"/>
<path d="M533 574.5C603.7 574.5 674.3 574.6 745 574.5C793.5 574.5 842 574.3 890.5 574.2" stroke="#2b2b2b"/>
<path d="M533 573.8C539.5 573.3 546 572.9 552.5 572.5C560 572.1 567.5 571.9 575 571.5C580 571.2 585 570.8 590 570.5C594.2 570.3 598.3 569.9 602.5 570C606.7 570.1 610.8 570.6 615 571C620 571.5 625 572.5 630 573C636.6 573.7 643.3 574 650 574.2C660 574.6 713.3 574.5 745 574.5C792.5 574.5 842 574.3 890.5 574.2" stroke="#2a2aff"/>
<path d="M533 536.2C534.5 531.7 536.1 527.1 537.5 522.5C539.3 516.7 540.6 510.8 542.5 505C544.4 499.1 546.2 493.1 548.8 487.5C550.5 483.6 553 478.2 555 476.2C556.3 475 558.1 473.6 560 473.8C562 473.9 563.6 475.6 565 477C567.1 479.1 569 484.1 571.2 487.5C573.2 490.5 574.8 494 577.5 496.2C579.3 497.7 581.4 499 583.8 499.2C585.9 499.4 588 498.4 590 497.5C592.2 496.5 594 494.6 596.2 493.8C598.2 493 600.4 492.1 602.5 492.5C604.9 492.9 607 494.5 608.8 496.2C611.4 498.8 613.1 502.8 615 506.2C617.8 511.4 619.8 517.2 622.5 522.5C624.8 527.2 627.2 531.9 630 536.2C632.3 539.8 634.6 543.3 637.5 546.2C639.7 548.5 642.3 550.3 645 552C648.2 554 651.6 555.4 655 557C658.3 558.5 661.8 559.6 665 561.2C668.4 563 671.6 565.2 675 567C678.3 568.8 681.5 570.8 685 572C688.2 573.1 691.6 573.6 695 574C700 574.6 705 574.4 710 574.5C717.5 574.6 733.3 574.5 745 574.5C762.5 574.5 842 574.3 890.5 574.2" stroke="#ff2a2a"/>
<path d="M533 688.5C603.7 688.6 674.3 688.8 745 688.8C793.5 688.7 842 688.6 890.5 688.5" stroke="#2b2b2b"/>
<path d="M533 672.5C535.3 670.8 537.9 669.5 540 667.5C543 664.6 544.9 660.8 547.5 657.5C549.9 654.5 552.1 651.3 555 648.8C557.2 646.8 560 645.4 562.5 643.8C565 642.1 567.5 640.4 570 638.8C572.5 637.1 575.3 635.7 577.5 633.8C580.4 631.2 582.8 628.1 585 625C587.8 621.1 589.8 616.5 592.5 612.5C594.8 609 597.3 605.2 600 602.5C601.8 600.7 604.5 598.6 606.2 598C607.4 597.6 608.8 597.6 610 598C611.8 598.7 613.6 600.8 615 602.5C617.1 605.1 620.2 610.7 622.5 615C625.2 619.9 627.3 625.1 630 630C632.3 634.3 634.5 638.7 637.5 642.5C639.7 645.3 642.3 647.8 645 650C647.3 651.9 650 653.4 652.5 655C655.8 657.1 659.3 658.9 662.5 661.2C665.1 663.2 667.7 665.2 670 667.5C672.7 670.2 674.9 673.4 677.5 676.2C679.9 678.8 682.1 681.7 685 683.8C687.3 685.4 689.8 686.7 692.5 687.5C695.7 688.4 699.2 688.3 702.5 688.5C707.5 688.8 730.8 688.7 745 688.8C766.3 688.8 807.5 688.7 825 688.5C836.7 688.4 848.3 688.2 860 688C870.2 687.8 880.3 687.7 890.5 687.5" stroke="#2a2aff"/>
</g>
<g fill="none" stroke="#454545" stroke-width="1.2">
<rect x="533.0" y="4.5" width="357.5" height="684.25"/>
<path d="M533.0 118.0H890.5"/>
<path d="M533.0 233.25H890.5"/>
<path d="M533.0 347.5H890.5"/>
<path d="M533.0 461.25H890.5"/>
<path d="M533.0 575.0H890.5"/>
</g>
<g stroke="#333" stroke-width="1">
<path d="M533 118.0V115.5"/>
<path d="M592.6 118.0V115.5"/>
<path d="M652.2 118.0V115.5"/>
<path d="M711.8 118.0V115.5"/>
<path d="M771.3 118.0V115.5"/>
<path d="M830.9 118.0V115.5"/>
<path d="M890.5 118.0V115.5"/>
<path d="M533 233.25V230.75"/>
<path d="M592.6 233.25V230.75"/>
<path d="M652.2 233.25V230.75"/>
<path d="M711.8 233.25V230.75"/>
<path d="M771.3 233.25V230.75"/>
<path d="M830.9 233.25V230.75"/>
<path d="M890.5 233.25V230.75"/>
<path d="M533 347.5V345.0"/>
<path d="M592.6 347.5V345.0"/>
<path d="M652.2 347.5V345.0"/>
<path d="M711.8 347.5V345.0"/>
<path d="M771.3 347.5V345.0"/>
<path d="M830.9 347.5V345.0"/>
<path d="M890.5 347.5V345.0"/>
<path d="M533 461.25V458.75"/>
<path d="M592.6 461.25V458.75"/>
<path d="M652.2 461.25V458.75"/>
<path d="M711.8 461.25V458.75"/>
<path d="M771.3 461.25V458.75"/>
<path d="M830.9 461.25V458.75"/>
<path d="M890.5 461.25V458.75"/>
<path d="M533 575.0V572.5"/>
<path d="M592.6 575.0V572.5"/>
<path d="M652.2 575.0V572.5"/>
<path d="M711.8 575.0V572.5"/>
<path d="M771.3 575.0V572.5"/>
<path d="M830.9 575.0V572.5"/>
<path d="M890.5 575.0V572.5"/>
<path d="M533 688.75V691.75"/>
<path d="M592.6 688.75V691.75"/>
<path d="M652.2 688.75V691.75"/>
<path d="M711.8 688.75V691.75"/>
<path d="M771.3 688.75V691.75"/>
<path d="M830.9 688.75V691.75"/>
<path d="M890.5 688.75V691.75"/>
<path d="M529.7 118H533.0"/>
<path d="M529.7 70.7H533.0"/>
<path d="M529.7 23.3H533.0"/>
<path d="M529.7 233.25H533.0"/>
<path d="M529.7 201.2H533.0"/>
<path d="M529.7 169.2H533.0"/>
<path d="M529.7 137.2H533.0"/>
<path d="M529.7 347.5H533.0"/>
<path d="M529.7 315H533.0"/>
<path d="M529.7 282.5H533.0"/>
<path d="M529.7 250H533.0"/>
<path d="M529.7 461.25H533.0"/>
<path d="M529.7 429.3H533.0"/>
<path d="M529.7 397.3H533.0"/>
<path d="M529.7 365.3H533.0"/>
<path d="M529.7 575H533.0"/>
<path d="M529.7 545H533.0"/>
<path d="M529.7 515H533.0"/>
<path d="M529.7 485H533.0"/>
<path d="M529.7 688.75H533.0"/>
<path d="M529.7 656.5H533.0"/>
<path d="M529.7 624.3H533.0"/>
<path d="M529.7 592.3H533.0"/>
</g>
<text x="525.8" y="124.6" font-size="18.5" text-anchor="end" fill="#1a1a1a">0</text>
<text x="525.8" y="77.3" font-size="18.5" text-anchor="end" fill="#1a1a1a">5</text>
<text x="525.8" y="29.9" font-size="18.5" text-anchor="end" fill="#1a1a1a">10</text>
<text x="525.8" y="239.8" font-size="18.5" text-anchor="end" fill="#1a1a1a">0.00</text>
<text x="525.8" y="207.8" font-size="18.5" text-anchor="end" fill="#1a1a1a">0.05</text>
<text x="525.8" y="175.8" font-size="18.5" text-anchor="end" fill="#1a1a1a">0.10</text>
<text x="525.8" y="143.8" font-size="18.5" text-anchor="end" fill="#1a1a1a">0.15</text>
<text x="525.8" y="354.1" font-size="18.5" text-anchor="end" fill="#1a1a1a">0.0</text>
<text x="525.8" y="321.6" font-size="18.5" text-anchor="end" fill="#1a1a1a">0.1</text>
<text x="525.8" y="289.1" font-size="18.5" text-anchor="end" fill="#1a1a1a">0.2</text>
<text x="525.8" y="256.6" font-size="18.5" text-anchor="end" fill="#1a1a1a">0.3</text>
<text x="525.8" y="467.9" font-size="18.5" text-anchor="end" fill="#1a1a1a">0.00</text>
<text x="525.8" y="435.9" font-size="18.5" text-anchor="end" fill="#1a1a1a">0.25</text>
<text x="525.8" y="403.9" font-size="18.5" text-anchor="end" fill="#1a1a1a">0.50</text>
<text x="525.8" y="371.9" font-size="18.5" text-anchor="end" fill="#1a1a1a">0.75</text>
<text x="525.8" y="581.6" font-size="18.5" text-anchor="end" fill="#1a1a1a">0</text>
<text x="525.8" y="551.6" font-size="18.5" text-anchor="end" fill="#1a1a1a">2</text>
<text x="525.8" y="521.6" font-size="18.5" text-anchor="end" fill="#1a1a1a">4</text>
<text x="525.8" y="491.6" font-size="18.5" text-anchor="end" fill="#1a1a1a">6</text>
<text x="525.8" y="695.4" font-size="18.5" text-anchor="end" fill="#1a1a1a">0</text>
<text x="525.8" y="663.1" font-size="18.5" text-anchor="end" fill="#1a1a1a">1</text>
<text x="525.8" y="630.9" font-size="18.5" text-anchor="end" fill="#1a1a1a">2</text>
<text x="525.8" y="598.9" font-size="18.5" text-anchor="end" fill="#1a1a1a">3</text>
<text x="530.5" y="709.5" font-size="18" text-anchor="middle" fill="#1a1a1a">−1.5</text>
<text x="590.1" y="709.5" font-size="18" text-anchor="middle" fill="#1a1a1a">−1.0</text>
<text x="649.7" y="709.5" font-size="18" text-anchor="middle" fill="#1a1a1a">−0.5</text>
<text x="711.8" y="709.5" font-size="18" text-anchor="middle" fill="#1a1a1a">0.0</text>
<text x="771.3" y="709.5" font-size="18" text-anchor="middle" fill="#1a1a1a">0.5</text>
<text x="830.9" y="709.5" font-size="18" text-anchor="middle" fill="#1a1a1a">1.0</text>
<text x="890.5" y="709.5" font-size="18" text-anchor="middle" fill="#1a1a1a">1.5</text>
<text x="712" y="737" font-size="24" text-anchor="middle" fill="#1a1a1a">Energy / eV</text>
<text x="484" y="347" font-size="26" text-anchor="middle" fill="#1a1a1a" transform="rotate(-90 484 347)" textLength="279" lengthAdjust="spacingAndGlyphs">Density of States / eV<tspan font-size="18" dy="-9.5">−1</tspan></text>
<text x="832" y="32.5" font-size="23" text-anchor="start" fill="#1a1a1a" textLength="48.5" lengthAdjust="spacingAndGlyphs">Total</text>
<text x="854.5" y="146" font-size="23" text-anchor="start" fill="#1a1a1a">Sr</text>
<text x="854.5" y="260.5" font-size="23" text-anchor="start" fill="#1a1a1a">Zn</text>
<text x="854.5" y="375" font-size="23" text-anchor="start" fill="#1a1a1a">O</text>
<text x="854.5" y="489.5" font-size="23" text-anchor="start" fill="#1a1a1a">Cu</text>
<text x="854.5" y="604" font-size="23" text-anchor="start" fill="#1a1a1a">S</text>
<rect x="908" y="117.8" width="98.3" height="85.6" rx="3.5" fill="#fff" stroke="#d9d9d9" stroke-width="1.1"/>
<path d="M914 132.4H951.3" stroke="#222" stroke-width="2" stroke-dasharray="4.6 2"/>
<text x="965.3" y="139" font-size="17.5" text-anchor="start" fill="#1a1a1a" textLength="32" lengthAdjust="spacingAndGlyphs">total</text>
<path d="M914 159.1H951.3" stroke="#555" stroke-width="2"/>
<text x="965.3" y="165.7" font-size="17.5" text-anchor="start" fill="#1a1a1a">5s</text>
<path d="M914 185.8H951.3" stroke="#4d4dff" stroke-width="2"/>
<text x="965.3" y="192.4" font-size="17.5" text-anchor="start" fill="#1a1a1a">5p</text>
<rect x="908" y="233.4" width="98.3" height="112.3" rx="3.5" fill="#fff" stroke="#d9d9d9" stroke-width="1.1"/>
<path d="M914 248H951.3" stroke="#222" stroke-width="2" stroke-dasharray="4.6 2"/>
<text x="965.3" y="254.6" font-size="17.5" text-anchor="start" fill="#1a1a1a" textLength="32" lengthAdjust="spacingAndGlyphs">total</text>
<path d="M914 274.7H951.3" stroke="#555" stroke-width="2"/>
<text x="965.3" y="281.3" font-size="17.5" text-anchor="start" fill="#1a1a1a">4s</text>
<path d="M914 301.4H951.3" stroke="#4d4dff" stroke-width="2"/>
<text x="965.3" y="308" font-size="17.5" text-anchor="start" fill="#1a1a1a">4p</text>
<path d="M914 328.1H951.3" stroke="#ff4d4d" stroke-width="2"/>
<text x="965.3" y="334.7" font-size="17.5" text-anchor="start" fill="#1a1a1a">3d</text>
<rect x="908" y="348.5" width="98.3" height="85.6" rx="3.5" fill="#fff" stroke="#d9d9d9" stroke-width="1.1"/>
<path d="M914 363.1H951.3" stroke="#222" stroke-width="2" stroke-dasharray="4.6 2"/>
<text x="965.3" y="369.7" font-size="17.5" text-anchor="start" fill="#1a1a1a" textLength="32" lengthAdjust="spacingAndGlyphs">total</text>
<path d="M914 389.8H951.3" stroke="#555" stroke-width="2"/>
<text x="965.3" y="396.4" font-size="17.5" text-anchor="start" fill="#1a1a1a">2s</text>
<path d="M914 416.5H951.3" stroke="#4d4dff" stroke-width="2"/>
<text x="965.3" y="423.1" font-size="17.5" text-anchor="start" fill="#1a1a1a">2p</text>
<rect x="908" y="461.8" width="98.3" height="112.3" rx="3.5" fill="#fff" stroke="#d9d9d9" stroke-width="1.1"/>
<path d="M914 476.4H951.3" stroke="#222" stroke-width="2" stroke-dasharray="4.6 2"/>
<text x="965.3" y="483" font-size="17.5" text-anchor="start" fill="#1a1a1a" textLength="32" lengthAdjust="spacingAndGlyphs">total</text>
<path d="M914 503.1H951.3" stroke="#555" stroke-width="2"/>
<text x="965.3" y="509.7" font-size="17.5" text-anchor="start" fill="#1a1a1a">4s</text>
<path d="M914 529.8H951.3" stroke="#4d4dff" stroke-width="2"/>
<text x="965.3" y="536.4" font-size="17.5" text-anchor="start" fill="#1a1a1a">4p</text>
<path d="M914 556.5H951.3" stroke="#ff4d4d" stroke-width="2"/>
<text x="965.3" y="563.1" font-size="17.5" text-anchor="start" fill="#1a1a1a">3d</text>
<rect x="908" y="576.6" width="98.3" height="85.6" rx="3.5" fill="#fff" stroke="#d9d9d9" stroke-width="1.1"/>
<path d="M914 591.2H951.3" stroke="#222" stroke-width="2" stroke-dasharray="4.6 2"/>
<text x="965.3" y="597.8" font-size="17.5" text-anchor="start" fill="#1a1a1a" textLength="32" lengthAdjust="spacingAndGlyphs">total</text>
<path d="M914 617.9H951.3" stroke="#555" stroke-width="2"/>
<text x="965.3" y="624.5" font-size="17.5" text-anchor="start" fill="#1a1a1a">3s</text>
<path d="M914 644.6H951.3" stroke="#4d4dff" stroke-width="2"/>
<text x="965.3" y="651.2" font-size="17.5" text-anchor="start" fill="#1a1a1a">3p</text>
<clipPath id="cb"><rect x="66.5" y="965" width="359.0" height="403.79999999999995"/></clipPath>
<g stroke="#8c8c8c" stroke-width="1.3" fill="none">
<path d="M146.5 965V1368.8"/>
<path d="M171.7 965V1368.8"/>
<path d="M253.3 965V1368.8"/>
<path d="M278.8 965V1368.8"/>
<path d="M333.5 965V1368.8"/>
<path d="M359.2 965V1368.8"/>
<path d="M420.4 965V1368.8"/>
<path d="M66.5 1167.6H425.5"/>
</g>
<g clip-path="url(#cb)" stroke="#1212ff" stroke-width="1.65" fill="none" stroke-opacity="0.9" stroke-linejoin="round">
<path d="M119.4 964.9C118 968.4 116.7 971.9 115.3 975.3C114.2 978.1 112.9 980.8 111.8 983.5C110.5 986.6 109.4 989.8 108.2 992.9C107.1 996.1 105.9 999.2 104.7 1002.4C103.5 1005.5 101.9 1008.5 101.2 1011.8C100.1 1016.7 101.2 1024.4 100 1030.6C99.1 1035.5 96.9 1040 95.3 1044.7C93.8 1049 92.2 1053.4 90.6 1057.6C89.1 1061.6 87.5 1065.5 85.9 1069.4C84.3 1073.1 82.5 1076.7 80.9 1080.3M121.8 964.9C120.8 968 119.8 971.1 118.8 974.1C117.7 977.7 116.5 981.2 115.3 984.7C114.1 988.2 112.9 991.8 111.8 995.3C110.6 998.8 109.4 1002.4 108.2 1005.9C107.1 1009.4 105.7 1012.9 104.7 1016.5C103.3 1021.1 102.5 1025.9 101.2 1030.6C99.8 1035.4 98.1 1040 96.5 1044.7C95 1049 93.4 1053.4 91.8 1057.6C90.3 1061.6 88.7 1065.5 87.1 1069.4C85.5 1073.1 83.9 1076.7 82.4 1080.3M67.6 990C69.4 992.2 71.3 994.2 72.9 996.5C75.1 999.5 76.8 1002.8 78.8 1005.9C80.7 1008.7 82.6 1011.5 84.7 1014.1C86.2 1016 87.6 1018.1 89.4 1019.4C90.6 1020.3 92 1021.4 93.5 1021.2C94.8 1021 95.7 1019.8 96.5 1018.8C97.7 1017.4 98.9 1014.1 100 1011.8C101.6 1008.3 103.2 1004.7 104.7 1001.2C106.3 997.3 107.9 993.3 109.4 989.4C110.8 985.9 112.2 982.4 113.5 978.8C115 974.9 117.2 968.1 117.6 967.1C117.9 966.3 118.3 965.6 118.6 964.9M67.6 1007.1C69 1007.5 70.5 1007.5 71.8 1008.2C73.6 1009.3 75.8 1012.1 77.6 1014.1C79.7 1016.4 81.5 1018.9 83.5 1021.2C85 1022.8 86.4 1024.7 88.2 1025.9C89.6 1026.8 91.3 1027.4 92.9 1027.6C94.9 1027.9 97 1027.8 98.8 1027.1C100.2 1026.5 101.4 1025.3 102.4 1024.1C103.5 1022.6 103.9 1020.6 104.7 1018.8C105.5 1017.2 106.1 1015.5 107.1 1014.1C107.7 1013.2 108.3 1011.9 109.4 1011.8C110.3 1011.6 111.1 1012.3 111.8 1012.9C112.7 1013.9 113.1 1016.2 114.1 1017.6C115.1 1019.2 115.9 1021.4 117.6 1021.8C118.9 1022 120.2 1020.8 121.2 1020C122.7 1018.8 124.5 1016.2 125.9 1014.1C127.7 1011.5 129.1 1008.7 130.6 1005.9C132.2 1002.8 133.7 999.6 135.3 996.5C136.9 993.3 138.3 990.2 140 987.1C141.5 984.3 142.7 981.2 144.7 978.8C146 977.2 147.6 975.7 149.4 974.7C150.8 973.9 152.5 973.3 154.1 973.2C155.7 973 157.4 973.2 158.8 973.9C160.7 974.7 161.9 976.5 163.5 977.6C165 978.7 166.5 980 168.2 980.6C169.7 981.1 171.4 980.8 172.9 981.2C175.3 981.7 177.6 982.7 180 983.5M67.6 1056.5C69 1056.1 70.5 1055.9 71.8 1055.3C73.5 1054.4 75.1 1053.1 76.5 1051.8C78.3 1050 79.8 1048 81.2 1045.9C83 1043.3 84.3 1040.4 85.9 1037.6C87.5 1034.9 88.6 1031.8 90.6 1029.4C91.9 1027.8 93.4 1026.1 95.3 1025.3C96.7 1024.6 98.7 1025.1 100 1024.7C100.8 1024.5 101.6 1023.9 102.4 1023.5M103.5 1030.6C105.5 1029.8 107.5 1029.1 109.4 1028.2C111.4 1027.3 113.4 1025.4 115.3 1025.3C116.5 1025.2 117.8 1025.8 118.8 1026.5C120.3 1027.5 121.2 1029.2 122.4 1030.6C124 1032.5 125.3 1034.7 127.1 1036.5C128.5 1037.8 129.9 1039.3 131.8 1040C133.6 1040.7 135.7 1040.8 137.6 1040.6C140.1 1040.3 142.4 1038.6 144.7 1038.2C146.3 1038 147.9 1038 149.4 1038.2C151.1 1038.5 152.5 1039.7 154.1 1040C156 1040.3 158.1 1040.3 160 1040C162 1039.7 163.9 1038.6 165.9 1038.2C167.8 1037.9 169.8 1037.8 171.8 1037.6C174.5 1037.5 177.3 1037.6 180 1037.5M103.5 1031.2C105.5 1032.2 107.4 1033.2 109.4 1034.1C111.7 1035.2 114.1 1036.2 116.5 1037.1C118.8 1037.9 121.1 1038.8 123.5 1039.4C125.9 1040 128.2 1040.5 130.6 1040.9C132.9 1041.3 135.3 1041.5 137.6 1041.8C140.6 1042 143.5 1042.5 146.5 1042.4C148.7 1042.2 150.8 1041.6 152.9 1041.2C154.5 1040.8 156 1040 157.6 1040C159.7 1040 161.5 1041.3 163.5 1041.8C166.2 1042.4 169 1042.6 171.8 1042.9C174.5 1043.3 177.3 1043.5 180 1043.8M67.6 981.8C69 982.9 70.4 984.2 71.8 985.3C73.3 986.5 74.7 988 76.5 988.8C78.3 989.6 80.4 990.1 82.4 990C84.4 989.9 86.4 989.1 88.2 988.2C90.3 987.3 92 985.6 94.1 984.7C95.6 984.1 97.2 983.4 98.8 983.5C100.1 983.7 101.2 984.6 102.4 985.3C104 986.3 105.1 988.8 107.1 988.8C109 988.8 110.1 986.3 111.8 985.3C113.3 984.4 114.8 983.3 116.5 982.9C118 982.6 119.7 982.4 121.2 982.9C123 983.6 124.4 985.1 125.9 986.5C127.6 988.1 129.1 990 130.6 991.8C132.2 993.7 133.7 995.7 135.3 997.6C136.9 999.6 138.4 1001.6 140 1003.5C141.6 1005.5 143 1007.6 144.7 1009.4C146.1 1010.9 147.7 1012.3 149.4 1013.5C150.9 1014.6 152.4 1015.7 154.1 1016.5C155.6 1017.1 157.2 1017.8 158.8 1017.6C160.6 1017.5 162 1016.2 163.5 1015.3C165.1 1014.4 166.5 1013 168.2 1012.4C169.7 1011.8 171.4 1011.7 172.9 1011.8C175.3 1011.9 177.6 1012.7 180 1013.2M67.6 982.4C69.4 983.7 71 985.3 72.9 986.5C74.4 987.4 76.2 987.8 77.6 988.8C79.8 990.3 81.6 992.3 83.5 994.1C85.5 996 87.2 998.4 89.4 1000C91.2 1001.3 93.2 1002.2 95.3 1002.9C97.2 1003.6 99.2 1003.7 101.2 1004.1C103.1 1004.5 105.1 1004.9 107.1 1005.3M67.6 975.3C68.6 974.1 69.7 973 70.6 971.8C71.4 970.6 72.1 969.4 72.9 968.2C73.7 967.1 74.5 966 75.3 964.9M67.6 968.8C69 969.6 70.4 970.4 71.8 971.2C73.7 972.3 75.6 973.8 77.6 974.7C79.5 975.5 81.5 976.3 83.5 976.5C85.5 976.7 87.5 976.2 89.4 975.9C91.4 975.6 93.3 974.3 95.3 974.7C97.1 975 98.4 976.6 100 977.6C101.2 978.4 102.1 980 103.5 980C104.9 980 106 978.6 107.1 977.6C108.5 976.3 109.4 974.5 110.6 972.9C111.7 971.5 112.9 970.1 114.1 968.8C115.2 967.6 116.5 966.5 117.6 965.3M94.1 964.9C94.9 966.4 95.5 968.1 96.5 969.4C97.5 970.8 98.4 972.4 100 972.9C101.5 973.5 103.1 972.6 104.7 972.4C106.7 972 108.8 972.1 110.6 971.2C112.5 970.3 114.1 968.1 115.3 967.1C116.1 966.4 116.9 965.6 117.6 964.9M131.8 964.9C133.3 966.2 134.8 967.7 136.5 968.8C137.9 969.8 139.5 970.6 141.2 971.2C142.9 971.8 144.7 972.1 146.5 972.4C149 972.7 151.6 972.6 154.1 972.7C156.5 972.8 158.8 972.7 161.2 972.7C164.7 972.6 169.4 972.7 171.8 972.4C173.4 972.1 174.9 971.4 176.5 971.2C177.6 971 178.8 971 180 970.9M107.1 988.8C108.6 989.4 110.1 990.6 111.8 990.6C113.4 990.6 114.9 989.4 116.5 988.8C118.4 988.2 120.3 987.5 122.4 987.1C124.3 986.7 126.3 986.9 128.2 986.5C130.3 986 132.3 985.2 134.1 984.1C136.4 982.7 138 980.6 140 978.8C141.6 977.4 143.8 975.6 144.7 974.7C145.3 974.1 145.9 973.5 146.5 972.9M158.8 973.5C160.4 973.3 162 973 163.5 972.9C165.9 972.8 169.2 972.3 171.8 972.9C173.5 973.3 175 974.4 176.5 975.3C177.7 976.1 178.8 977.1 180 977.9M117.1 1080.3C118.4 1078.2 119.5 1075.9 121.2 1074.1C122.9 1072.3 124.9 1070.8 127.1 1069.4C129.3 1068 131.6 1066.7 134.1 1065.9C136.8 1065 139.6 1064.8 142.4 1064.5C144.7 1064.2 147.1 1064.4 149.4 1064.1C151 1063.9 152.5 1063.5 154.1 1063.3C155.7 1063.1 157.3 1062.8 158.8 1062.9C160.4 1063.1 161.9 1063.8 163.5 1064.1C165.9 1064.5 169 1064.8 171.8 1064.9C174.5 1065 177.3 1064.8 180 1064.7M196.5 964.9C197.6 968 198.8 971.1 200 974.1C201.5 978 203.1 982 204.7 985.9C206.3 989.8 207.8 993.7 209.4 997.6C211 1001.6 212.6 1005.5 214.1 1009.4C215.8 1013.7 217.3 1018 218.8 1022.4C220.4 1026.7 221.9 1031 223.5 1035.3C225 1039.2 226.7 1043.1 228.2 1047.1C229.8 1051 231.2 1055 232.9 1058.8C234.4 1062 235.8 1065.3 237.6 1068.2C239.4 1071 241.6 1073.6 243.5 1075.9C244.8 1077.4 246.3 1078.8 247.6 1080.3M201.2 964.9C202 967.6 202.7 970.3 203.5 972.9C204.8 976.9 206.3 980.8 207.6 984.7C209 988.6 210.4 992.5 211.8 996.5C213.2 1000.8 214.6 1005.1 215.9 1009.4C217.3 1014.1 218.6 1018.8 220 1023.5C221.3 1027.9 222.6 1032.2 224.1 1036.5C225.5 1040.4 227.2 1044.3 228.8 1048.2C230.4 1052 231.8 1055.8 233.5 1059.4C235.1 1062.6 236.8 1065.8 238.8 1068.8C240.6 1071.5 242.3 1074.3 244.7 1076.5C246.6 1078.1 249 1079 251.2 1080.3M197.6 964.9C199.2 969.6 200.7 974.2 202.4 978.8C203.8 982.8 205.5 986.7 207.1 990.6C208.4 994.1 209.8 997.6 211.2 1001.2C212.6 1004.9 214 1008.6 215.3 1012.4C216.7 1016.3 218 1020.2 219.4 1024.1M180 970.9C182 970.2 183.9 969.5 185.9 968.8C187.8 968.2 189.8 967.6 191.8 967.1C193.3 966.6 194.9 966.3 196.5 965.9M180 977.9C182.4 978.2 184.7 978.9 187.1 978.8C189.4 978.8 191.8 978 194.1 977.6C195.7 977.4 197.3 977.3 198.8 977.1M202.4 964.9C203.1 967.6 203.4 970.5 204.7 972.9C205.9 975 207.3 977.2 209.4 978.2C211.5 979.3 214.1 978.9 216.5 978.8C218.9 978.7 221.1 977.5 223.5 977.6C225.6 977.8 227.4 978.9 229.4 979.4C231.7 980 234.1 980.7 236.5 980.9C238.8 981.2 241.2 981.2 243.5 980.9C245.9 980.7 249.3 979.7 250.6 979.4C251.5 979.2 252.3 979 253.2 978.8M214.7 964.9C216.1 966.6 217.2 968.6 218.8 970C220.2 971.2 221.7 972.9 223.5 972.9C225.4 972.9 226.9 971.3 228.2 970C229.6 968.6 230.2 966.6 231.2 964.9M180 983.5C181.6 985.5 183.3 987.3 184.7 989.4C186.5 992 187.8 994.9 189.4 997.6C191 1000.4 192.5 1003.2 194.1 1005.9C195.6 1008.3 197.2 1010.7 198.8 1012.9C200.3 1015 201.7 1017.1 203.5 1018.8C204.9 1020.2 206.5 1021.5 208.2 1022.4C210.1 1023.3 212.1 1023.6 214.1 1024.1C215.7 1024.5 217.3 1024.9 218.8 1025.3M180 1013.2C182 1014.1 183.9 1015 185.9 1015.9C187.9 1016.8 189.8 1017.9 191.8 1018.8C193.7 1019.7 195.9 1020.8 197.6 1021.2C198.8 1021.4 200.1 1021.6 201.2 1021.2C202.8 1020.5 204.3 1018 205.9 1016.5C207.4 1015 209.5 1012.9 210.6 1012.4C211.3 1012 212.2 1012 212.9 1011.8M215.3 1000.6C216.9 998.8 218.5 997.1 220 995.3C221.6 993.4 223.1 991.4 224.7 989.4C226.3 987.5 227.6 985.3 229.4 983.5C230.8 982.2 232.5 981.2 234.1 980C235.7 978.8 237.2 977.5 238.8 976.5C240.3 975.5 241.9 974.7 243.5 974.1C245 973.6 246.6 973 248.2 973.2C249.5 973.3 251 974.2 251.8 974.7C252.3 975 252.7 975.5 253.2 975.9M214.1 1005.9C215.3 1007.1 216.2 1008.5 217.6 1009.4C219.1 1010.3 220.7 1011.2 222.4 1011.2C224 1011.2 225.7 1010.3 227.1 1009.4C228.9 1008.2 230.4 1006.4 231.8 1004.7C233.6 1002.5 234.9 1000 236.5 997.6C238 995.3 239.6 992.9 241.2 990.6C242.7 988.2 244 985.7 245.9 983.5C247.3 982 249.3 980.4 250.6 979.4C251.4 978.8 252.3 978.2 253.2 977.6M220 1018.8C222.4 1018.4 224.7 1017.6 227.1 1017.4C229.4 1017.2 231.8 1017.3 234.1 1017.4C236.5 1017.5 238.8 1017.7 241.2 1017.9C243.5 1018.1 245.9 1018.4 248.2 1018.6C249.9 1018.7 251.5 1018.9 253.2 1018.8C255.1 1018.8 257 1018.8 258.8 1018.2C260.9 1017.6 262.9 1016.5 264.7 1015.3C266.8 1013.9 268.5 1011.9 270.6 1010.6C272.8 1009.2 275.3 1008.2 277.6 1007M221.2 1030.6C222.7 1032 223.9 1034.5 225.9 1034.7C227.2 1034.9 228.4 1033.8 229.4 1032.9C230.9 1031.6 231.9 1029.1 232.9 1027.1C234.3 1024.4 235.4 1021.6 236.5 1018.8C237.7 1015.7 238.8 1012.5 240 1009.4C241.2 1006.3 242.4 1003.1 243.5 1000C244.7 996.9 245.7 993.7 247.1 990.6C248.1 988.2 249.4 985.4 250.6 983.5C251.3 982.3 252.3 981.2 253.2 980M180 1037.5C182.4 1037.2 184.7 1037 187.1 1036.5C189.8 1035.9 192.6 1035 195.3 1034.1C198.1 1033.2 200.8 1032.1 203.5 1031.2C205.9 1030.4 208.2 1029.6 210.6 1028.8C212.5 1028.2 214.5 1027.6 216.5 1027.1M180 1043.8C182.4 1044.5 184.7 1045.2 187.1 1045.9C189.8 1046.7 192.5 1047.5 195.3 1048.2C198 1048.9 200.8 1049.2 203.5 1050C206.3 1050.8 209 1051.9 211.8 1052.9C214.1 1053.9 216.5 1054.9 218.8 1055.9C221.2 1056.9 223.6 1057.7 225.9 1058.8C227.9 1059.9 229.9 1061 231.8 1062.4C233.8 1063.8 235.6 1065.6 237.6 1067.1C239.6 1068.5 241.4 1070.1 243.5 1071.2C245.7 1072.3 248.1 1073.3 250.6 1073.5C252.5 1073.7 254.6 1073.4 256.5 1072.9C258.1 1072.6 259.5 1071.2 261.2 1071.2C262.9 1071.2 264.5 1072 265.9 1072.9C267.7 1074.1 269.8 1076.5 270.6 1077.6C271.1 1078.4 271.4 1079.4 271.8 1080.3M180 1064.7C183.1 1064.8 186.3 1064.8 189.4 1064.9C192.2 1065 194.9 1065.1 197.6 1065.3C199.6 1065.4 201.6 1065.3 203.5 1065.9C205.2 1066.4 206.8 1067.2 208.2 1068.2C210 1069.5 211.5 1071.3 212.9 1072.9C214.2 1074.4 215.6 1076.4 216.5 1077.6C217 1078.5 217.5 1079.4 217.9 1080.3M188.8 1080.3C190.2 1077.8 191.5 1075.3 192.9 1072.9C194.4 1070.5 195.9 1068.1 197.6 1065.9C199.4 1063.7 201.4 1061.8 203.5 1060C205.4 1058.5 207.3 1057 209.4 1055.9C211.6 1054.8 214.1 1054.2 216.5 1053.5C218.8 1052.9 221.4 1051.4 223.5 1051.8C224.9 1052 226 1053.1 227.1 1054.1C228.5 1055.5 229.4 1057.3 230.6 1058.8C231.8 1060.4 232.9 1062 234.1 1063.5M254.1 1081.2C255.7 1079.2 257.3 1077.3 258.8 1075.3C260.5 1073 261.9 1070.5 263.5 1068.2C265 1066.2 266.6 1064.2 268.2 1062.4C269.7 1060.7 271.1 1058.8 272.9 1057.6C274.5 1056.7 276.5 1056.4 278.2 1055.8M253.2 968.8L278.8 968.8M253.2 971.8L278.8 971M253.2 975.9C256.2 975.7 259.3 975.5 262.4 975.3C265.5 975.1 268.6 974.9 271.8 974.7C274.1 974.5 276.5 974.3 278.8 974.1M253.2 978.8C256.2 979.4 259.3 980.1 262.4 980.6C265.5 981.1 268.6 981.5 271.8 981.8C274.1 981.9 276.5 981.8 278.8 981.9M249.4 964.9C250.2 966 251.1 967.1 251.8 968.2C252.4 969.3 252.7 970.6 253.2 971.8M260 964.9C261.6 967.6 263.1 970.3 264.7 972.9C266.2 975.3 267.8 977.6 269.4 980C270.6 981.8 271.5 983.7 272.9 985.3C274.5 987 276.5 988.3 278.2 989.8M262.4 964.9C263.9 967.6 265.4 970.4 267.1 972.9C268.5 975.2 269.7 977.8 271.8 979.4C273.8 981 276.5 981.4 278.8 982.4M333.4 1061.4C335.5 1060.8 337.4 1059.9 339.5 1059.4C341.6 1059 343.7 1058.7 345.9 1058.8C348.5 1058.9 351 1059.4 353.5 1060.1C355.5 1060.5 357.3 1062.5 359.3 1062C361.4 1061.4 362.1 1058.5 363.7 1056.9C365.3 1055.3 366.8 1053.3 368.8 1052.4C370.4 1051.7 372.2 1051.5 373.9 1051.8C375.8 1052.1 377.4 1053.3 379 1054.3C380.8 1055.4 382.4 1056.9 384.1 1058.1C385.8 1059.4 387.5 1060.7 389.2 1062C391.7 1063.7 394.3 1065.4 396.9 1067.1C399.4 1068.8 402 1070.4 404.5 1072.2C406.7 1073.6 409.6 1075.2 410.9 1076.6C411.7 1077.6 412.2 1078.8 412.8 1079.9M333.4 1039.6C335.5 1040.1 337.5 1040.6 339.5 1040.9C341.6 1041.3 343.7 1041.6 345.9 1041.6C348.5 1041.5 351 1040.9 353.5 1040.6C355.4 1040.3 357.4 1039.1 359.3 1039.7C361.3 1040.3 362.1 1042.7 363.7 1044.1C365.3 1045.5 366.9 1047.1 368.8 1047.9C370.8 1048.8 373.3 1048.2 375.2 1049.2C376.8 1050.1 377.6 1052 379 1053C380.2 1053.9 381.4 1055.1 382.8 1055C385 1054.8 386.2 1052.4 387.9 1051.1C389.6 1049.9 391.2 1048.4 393 1047.3C394.7 1046.3 396.3 1044.2 398.1 1044.8C400.7 1045.6 400.8 1049.4 402 1051.8C403.7 1055.3 405 1059.6 407.1 1063.2C408.5 1065.9 410 1069.2 412.2 1070.9C413.6 1072 415.7 1072.4 417.3 1072.8C418.3 1073 419.4 1073.1 420.4 1073.2M359.3 1009.7C360.8 1011.4 362.4 1013 363.7 1014.8C365.2 1016.8 366.3 1019.1 367.6 1021.2C368.8 1023.3 370 1025.5 371.4 1027.6C372.9 1029.8 373.8 1033.3 376.5 1033.9C378.3 1034.3 379.9 1032.3 381.6 1031.4C383.3 1030.4 384.8 1028.6 386.7 1028.2C387.9 1027.9 389.5 1028.1 390.5 1028.8C392.1 1030 393.1 1033.9 394.3 1036.5C395.7 1039.4 396.9 1042.4 398.1 1045.4C399.4 1048.4 400.7 1051.4 402 1054.3C403.6 1058.2 405.2 1062.1 407.1 1065.8C408.6 1068.8 410.1 1071.9 412.2 1074.7C413.9 1077.1 416.2 1079.1 418.2 1081.2M333.4 1009.6C335.5 1009.5 337.5 1009.4 339.5 1009.5C341.6 1009.5 343.8 1009.6 345.9 1009.7C348.4 1009.8 351 1010 353.5 1010C355.4 1010 357.5 1009 359.3 1009.7C361.9 1010.8 362.9 1014.2 365 1016.1C366.6 1017.5 368.2 1018.9 370.1 1019.9C372.1 1021 374.2 1021.9 376.5 1022.2C378.6 1022.5 380.8 1022.4 382.8 1021.8C385.2 1021.1 386.9 1018.8 389.2 1018C390.8 1017.4 392.7 1016.9 394.3 1017.4C395.9 1017.8 396.5 1020.3 398.1 1020.5C399.6 1020.7 400.9 1019.6 402 1018.6C403.5 1017.2 404.7 1014.5 405.8 1012.3C407.4 1009 408.3 1005.5 409.6 1002.1C410.9 998.7 412.1 995.2 413.4 991.9C414.6 988.9 415.9 985.6 417.3 982.9C418.2 981.2 419.4 979.5 420.4 977.8M333.4 983.8C335.5 983.6 337.5 983.3 339.5 983.2C341.6 983.1 343.8 982.9 345.9 982.9C348.4 983 351 983.3 353.5 983.6C355.4 983.8 357.3 984.1 359.3 984.2C360.8 984.3 362.3 984 363.7 984.2C365.5 984.5 367.3 985.1 368.8 986.1C370.9 987.6 372.4 989.8 373.9 991.9C375.9 994.6 377.3 997.8 379 1000.8C380.7 1003.8 382 1007 384.1 1009.7C385.6 1011.6 387.2 1013.5 389.2 1014.8C390.7 1015.8 392.6 1016.2 394.3 1016.7C396.8 1017.4 399.4 1017.7 402 1018C404.9 1018.3 407.9 1018.4 410.9 1018.6C414.1 1018.8 417.3 1019.1 420.4 1019.3M333.4 978.8C335 981.7 336.6 984.6 338.2 987.4C339.9 990.4 341.5 993.4 343.3 996.3C344.9 998.8 346.6 1001.1 348.4 1003.3C350 1005.2 351.8 1007.3 353.5 1008.4C354.7 1009.2 356.1 1009.5 357.4 1010M359.3 979.1C357.8 981.9 356.4 984.7 354.8 987.4C353.2 990.2 351.5 993 349.7 995.7C348.1 998.3 346.3 1000.8 344.6 1003.3C343.3 1005.2 342.1 1007.2 340.8 1009.1M359.3 1009.7C361.2 1007.6 363.1 1005.5 365 1003.3C367.2 1000.8 369.3 998.3 371.4 995.7C373.6 992.8 375.7 989.8 377.7 986.8C379.5 984.2 381.2 981.7 382.8 979.1C384.6 976.2 386.4 972.8 387.9 970.2C389 968.5 390.1 966.8 391.1 965.1M333.4 979.1C335.4 977.8 337.4 976.4 339.5 975.3C341.6 974.3 343.6 972.7 345.9 972.7C348.2 972.7 350.2 974.3 352.3 975.3C354.7 976.4 356.6 979.2 359.3 979.1C361.6 979 363 976.4 365 975.3C367 974.2 369.2 973.3 371.4 972.7C373 972.3 374.8 971.7 376.5 972.1C378.4 972.5 380.3 973.8 381.6 975.3C383 977 383.3 979.5 384.1 981.7C385.3 984.9 386.7 989.3 387.9 993.1C389.2 997 390.2 1000.9 391.8 1004.6C392.9 1007.2 392.8 1012 395.6 1012.3C398.3 1012.5 399.2 1008.2 400.7 1005.9C402.7 1002.7 404 999 405.8 995.7C407.4 992.7 409 989.6 410.9 986.8C412.4 984.5 414.2 982.5 416 980.4C417.4 978.7 419 977 420.4 975.3M359.3 979.1C361.6 977.6 363.7 975.5 366.3 974.7C368.7 973.8 371.4 973.6 373.9 974C376.7 974.4 379 976.2 381.6 977.2C384.1 978.1 386.6 979.2 389.2 979.8C392.6 980.4 396 980.5 399.4 980.6C402.8 980.8 406.2 980.6 409.6 980.4C413.2 980.1 416.8 979.5 420.4 979.1M333.4 965.1C335.4 966.2 337.3 967.6 339.5 968.3C341.6 968.9 343.8 969.1 345.9 968.9C348.5 968.7 351 967.7 353.5 967C355.5 966.4 357.4 965.7 359.3 965.1M359.3 965.1C360.8 966.4 362.1 967.8 363.7 968.9C365.3 970.1 367 971.3 368.8 972.1C370.4 972.8 372.2 973 373.9 973.4M371.4 965.1C369.7 967.2 368.1 969.4 366.3 971.5C364.7 973.3 362.2 975.4 361.2 976.6C360.5 977.4 359.9 978.3 359.3 979.1M402 965.1C404.5 965.9 407.2 966.4 409.6 967.6C411.9 968.8 414 970.4 416 972.1C417.6 973.5 419 975.1 420.4 976.6M414.7 965.1C416 966.8 417.4 968.4 418.5 970.2C419.3 971.4 419.8 972.7 420.4 974M363.7 1080.4C367.1 1079.9 370.5 1079.1 373.9 1078.8C377.3 1078.5 380.7 1078.4 384.1 1078.5C387.5 1078.7 390.9 1079.2 394.3 1079.6C396.9 1079.8 399.4 1080.1 402 1080.4M278.8 971C279.8 970.1 280.7 969.1 281.7 968.2C282.5 967.5 283.5 966.8 284.4 966.2C285.1 965.7 285.8 965.4 286.5 964.9M278.8 970.3C280.4 970.5 282.2 970.4 283.7 971C285.5 971.6 287 972.7 288.5 973.7C290.2 974.8 291.8 976 293.3 977.2C294.7 978.2 296 979.5 297.5 980.6C298.8 981.6 300.2 982.4 301.6 983.3C302.9 984.2 304.2 985.4 305.7 986.1C307 986.7 308.4 987 309.8 987.5C311.2 987.8 312.6 988 313.9 988.5C315.3 988.9 316.8 989.4 318 990.2C319.4 991.1 320.4 992.4 321.5 993.6C322.7 995.1 323.8 996.8 324.9 998.4C326 1000 327.2 1001.6 328.3 1003.2C329.3 1004.6 330.5 1006.4 331.4 1007.4C332 1008 332.8 1008.5 333.5 1009.1M278.8 981.9C281.6 982 284.4 982.2 287.2 982.3C290.1 982.4 294 982.8 296.1 982.6C297.5 982.6 298.9 982.4 300.2 982C301.7 981.5 303 980.7 304.3 979.9C305.7 979.1 307 978 308.4 977.2C309.6 976.4 310.5 975 311.9 975.1C313 975.2 313.8 976.4 314.6 977.2C315.9 978.3 316.6 980.2 318 981.3C319 982.1 320.2 982.8 321.5 983C322.6 983.2 323.8 983 324.9 982.6C326.4 982.2 327.6 981.2 329 980.6C330.5 979.9 332 979.4 333.4 978.8M278.2 989.8C279.8 990.9 281.4 992 283 992.9C284.6 993.8 286.1 995.1 287.8 995.1C289.3 995.2 290.7 994.3 292 993.6C293.4 992.9 294.8 991.9 296.1 990.9C297.6 989.7 298.8 988.1 300.2 986.8C301.6 985.4 302.9 984 304.3 982.6C305.7 981.3 307.1 979.9 308.4 978.5C309.6 977.3 310.8 976.1 311.9 974.8C312.8 973.5 313.7 972.3 314.6 971C315.6 969.6 316.7 967.8 317.4 966.9C317.8 966.2 318.3 965.6 318.7 964.9M278.8 982C279.7 983.3 280.7 984.7 281.7 986.1C282.8 987.7 284 989.3 285.1 990.9C286.2 992.5 287.4 994.1 288.5 995.7C289.9 997.5 291.2 999.4 292.6 1001.2C294.2 1003.1 295.8 1004.9 297.5 1006.7C299 1008.2 300.5 1009.8 302.3 1011.1C303.8 1012.3 305.4 1013.3 307.1 1014.2C308.4 1014.9 309.8 1015.3 311.2 1015.9C312.6 1016.6 314 1017.4 315.3 1018.3C316.8 1019.5 318.1 1021 319.4 1022.5C320.8 1024 322.2 1025.6 323.5 1027.3C325 1029 326.3 1030.9 327.6 1032.7C328.8 1034.3 330 1036.4 331.1 1037.6C331.8 1038.3 332.7 1038.9 333.4 1039.6M299.5 964.9C300.7 966.5 301.8 968.1 302.9 969.6C304 971 305.2 972.4 306.4 973.7C307.2 974.7 307.8 976.5 309.1 976.5C310.7 976.5 311.5 974.3 312.6 973C313.6 971.8 314.4 970.3 315.3 968.9C316.2 967.6 317.1 966.3 318 964.9M306.4 964.9C307.3 966.3 308.2 967.6 309.1 968.9C310 970.1 310.9 971.2 311.9 972.4M277.6 1007C279.2 1007.8 281.1 1008.2 282.4 1009.4C283.9 1010.9 284.7 1013 285.8 1014.9C287 1016.9 288.1 1019 289.2 1021.1C290.4 1023.1 291.4 1025.3 292.6 1027.3C293.7 1028.9 294.7 1030.7 296.1 1032.1C297.1 1033 298.2 1034 299.5 1034.5C300.6 1034.9 301.8 1035.1 302.9 1034.8C304.2 1034.5 305.4 1033.6 306.4 1032.7C307.7 1031.6 308.7 1030 309.8 1028.6C311.2 1026.8 312.5 1024.9 313.9 1023.1C315.2 1021.5 316.6 1019.9 318 1018.3C319.4 1016.9 320.7 1015.4 322.2 1014.2C323.4 1013.2 324.8 1012.3 326.3 1011.5C327.6 1010.8 328.9 1010.1 330.4 1009.8C331.4 1009.5 332.4 1009.6 333.4 1009.6M278.2 1055.8C279.8 1055.4 281.6 1055.5 283 1054.7C284.7 1053.8 285.9 1052.1 287.2 1050.6C288.7 1048.7 290 1046.5 291.3 1044.4C292.7 1042.2 294.1 1039.9 295.4 1037.6C296.6 1035.5 297.6 1033.4 298.8 1031.4C299.9 1029.5 301.1 1027.7 302.3 1025.9C303.3 1024.2 304.4 1022.6 305.7 1021.1C306.7 1019.8 307.8 1018.6 309.1 1017.6C310.2 1016.9 311.3 1016.3 312.6 1015.9C313.9 1015.6 315.3 1015.8 316.7 1015.6C318.1 1015.4 319.4 1014.9 320.8 1014.6M288.4 1080.1C289.3 1076.7 290.3 1073.2 291.3 1069.8C292.2 1066.4 293.1 1062.9 294 1059.5C295.1 1055.6 296.3 1051.7 297.5 1047.8C298.6 1044.2 299.7 1040.5 300.9 1036.9C302 1033.6 303.1 1030.4 304.3 1027.3C305.4 1024.5 306.5 1021.7 307.7 1019C308.8 1016.7 310 1014.4 311.2 1012.2C312.3 1009.9 313.4 1007.6 314.6 1005.3C315.7 1003.2 316.8 1001.1 318 999.1C319.1 997.3 320.2 995.4 321.5 993.6C322.5 992.2 323.7 990.8 324.9 989.5C326 988.3 327 987 328.3 986.1C329.9 985 331.7 984.5 333.4 983.8M305.3 1080.1C306.3 1079.4 307.4 1078.7 308.4 1078C310.1 1077.1 312.1 1076.3 313.9 1075.3C315.8 1074.2 317.6 1073.1 319.4 1071.9C321.3 1070.6 323.1 1069.2 324.9 1067.7C326.5 1066.4 328 1064.9 329.7 1063.6C330.9 1062.8 332.2 1062.2 333.4 1061.4M66.5 1091.8C67.8 1091.4 69.3 1091.3 70.6 1090.6C71.9 1089.9 73 1088.7 74.1 1087.6C75.4 1086.4 76.4 1084.9 77.6 1083.5C78.7 1082.4 79.8 1081.4 80.9 1080.3M66.5 1092.9C68 1092.4 69.7 1092 71.2 1091.2C72.7 1090.3 74 1089 75.3 1087.6C76.8 1086 78.1 1083.6 79.4 1082.4C80.3 1081.5 81.4 1081 82.4 1080.3M66.5 1094.1C68.6 1093.3 70.8 1092.6 72.9 1091.8C75.3 1090.8 77.5 1089.4 80 1088.8C82.3 1088.3 84.8 1088.8 87.1 1088.2C89.5 1087.6 91.8 1086.4 94.1 1085.3C96.1 1084.4 97.9 1083 100 1082.4C101.9 1081.8 103.9 1081.5 105.9 1081.8C108 1082.1 109.9 1083.2 111.8 1084.1C114.2 1085.3 116.3 1087.1 118.8 1088.2C121.1 1089.3 123.5 1090 125.9 1090.6C129 1091.4 132.1 1091.9 135.3 1092.4C139 1092.8 142.7 1093 146.5 1093.2C150.6 1093.4 154.7 1093.5 158.8 1093.5C163.1 1093.5 169.3 1093.7 171.8 1093.2C173.4 1092.8 174.9 1091.9 176.5 1091.2C177.7 1090.6 178.8 1089.8 180 1089.1M66.5 1101.2C68.2 1100.8 70.1 1100.6 71.8 1100C73.8 1099.3 75.8 1098.2 77.6 1097.1C79.8 1095.7 81.5 1093.8 83.5 1092.4C85.4 1091 87.2 1089.3 89.4 1088.8C91.3 1088.4 93.3 1089.2 95.3 1089.4C97.3 1089.7 99.2 1090.5 101.2 1090.4C103.3 1090.2 105.2 1089.2 107.1 1088.2C108.8 1087.3 110.2 1085.9 111.8 1084.7C113.3 1083.5 116.1 1081.6 116.5 1081.2C116.7 1080.9 116.9 1080.6 117.1 1080.3M66.5 1167.6C69.4 1168.6 72.5 1169.2 75.3 1170.6C78.3 1172.1 80.9 1174.3 83.5 1176.5C86.4 1178.8 89.1 1181.5 91.8 1184.1C94.6 1186.8 97.2 1189.7 100 1192.4C102.3 1194.6 106.5 1198.2 107.1 1198.8C107.4 1199.3 107.6 1199.8 107.9 1200.3M66.5 1167.6C69.8 1168.4 73.3 1168.8 76.5 1170C79.8 1171.2 82.8 1173.1 85.9 1174.7C89.1 1176.4 92.2 1178.2 95.3 1180C98.5 1181.9 101.6 1183.9 104.7 1185.9C107.8 1187.8 111 1189.8 114.1 1191.8C116.5 1193.3 119 1194.7 121.2 1196.5C122.9 1197.9 124.3 1199.6 125.9 1201.2M66.5 1167.6C70.2 1168.4 74.1 1168.7 77.6 1170C81.8 1171.4 85.5 1173.8 89.4 1175.9C93.4 1178 97.3 1180.1 101.2 1182.4C105.1 1184.6 109 1187.1 112.9 1189.4C116.4 1191.4 120 1193.4 123.5 1195.3C126.6 1196.9 132.6 1199.9 132.9 1200C133.1 1200.1 133.3 1200.2 133.5 1200.3M116.5 1203.2C118.4 1200.4 120.4 1197.5 122.4 1194.7C124.3 1191.9 126.2 1189.2 128.2 1186.5C130.2 1183.9 131.9 1181.2 134.1 1178.8C135.9 1176.9 137.8 1175 140 1173.5C141.4 1172.5 143 1171.7 144.7 1171.2C146.2 1170.7 147.8 1170.5 149.4 1170.4C151.8 1170.1 156.5 1169.8 160 1169.6C163.9 1169.5 169.2 1168.8 171.8 1169.4C173.5 1169.8 174.9 1171 176.5 1171.8C177.6 1172.4 178.8 1172.9 180 1173.5M85.9 1200.3C87.8 1198.8 89.7 1197.1 91.8 1195.9C93.6 1194.8 95.6 1193.7 97.6 1193.2C99.6 1192.7 101.6 1192.5 103.5 1192.7C105.6 1193 107.5 1193.8 109.4 1194.7C111.1 1195.5 112.5 1196.7 114.1 1197.6C115.3 1198.4 116.5 1199 117.6 1199.7M180 1089.1C181.2 1088.2 182.5 1087.5 183.5 1086.5C184.8 1085.2 186.2 1083.4 187.1 1082.4C187.6 1081.7 188.2 1081 188.8 1080.3M217.9 1080.3C219 1082.2 220.2 1084 221.2 1085.9C222.6 1088.8 224.3 1092.9 225.9 1096.5C227.5 1100 229 1103.5 230.6 1107.1C232.2 1110.6 233.7 1114.1 235.3 1117.6C236.9 1121.2 238.4 1124.7 240 1128.2C241.5 1131.4 243 1134.6 244.7 1137.6C246 1140 247.5 1142.8 248.8 1144.7C249.7 1146 251.1 1147.7 251.8 1148.2C252.2 1148.6 252.6 1149.1 253.2 1149.1C254 1149 254.7 1148.2 255.3 1147.6C256.2 1146.7 257.8 1144.2 258.8 1142.4C260.2 1139.7 261.2 1136.9 262.4 1134.1C263.6 1131.2 264.7 1128.2 265.9 1125.3C267.1 1122.2 268.2 1119 269.4 1115.9C270.6 1112.9 271.7 1109.5 272.9 1107.1C273.8 1105.4 274.7 1103.6 275.9 1102.4C276.7 1101.6 277.8 1101 278.8 1100.6C280.3 1100 282 1100 283.5 1099.4C285.8 1098.6 288.2 1097 290.6 1095.9C292.5 1095 294.7 1094.2 296.5 1093.5C297.6 1093.1 298.8 1092.7 300 1092.2M247.6 1080.3C248.6 1080.8 249.6 1081.3 250.6 1081.8C252.1 1082.5 253.8 1083.1 255.3 1084.1C257 1085.3 258.3 1087 260 1088.2C261.5 1089.3 263 1090.4 264.7 1091.2C266.9 1092.2 269.3 1093 271.8 1093.5C274.1 1094 276.5 1094.5 278.8 1094.1C281.3 1093.7 283.6 1092.2 285.9 1091.2C288.3 1090.1 290.5 1088.7 292.9 1087.6C295.4 1086.5 298 1085.7 300.6 1084.7M251.2 1080.3C252.9 1081.4 254.8 1082.3 256.5 1083.5C258.2 1084.8 259.5 1086.4 261.2 1087.6C263.1 1089.1 264.9 1090.7 267.1 1091.8C268.9 1092.7 270.9 1093.5 272.9 1093.9C274.9 1094.3 276.9 1094.2 278.8 1094.1C281.2 1094 283.5 1093.4 285.9 1092.9C288.3 1092.4 290.5 1091.6 292.9 1091.2C295.3 1090.8 297.6 1090.8 300 1090.6M271.8 1080.3C272.5 1082.2 273.1 1084.1 274.1 1085.9C275.4 1088 276.3 1091.6 278.8 1091.8C280.5 1091.9 281.3 1089.5 282.4 1088.2C283.6 1086.8 284.7 1085.1 285.9 1083.5C286.7 1082.4 287.5 1081.2 288.4 1080.1M278.8 1092.4C281.2 1091.4 283.6 1090.5 285.9 1089.4C288.3 1088.2 290.5 1086.5 292.9 1085.3C295.2 1084.1 297.6 1083.2 300 1082.2M180 1173.5C181.6 1175.3 183.2 1177 184.7 1178.8C186.3 1180.7 187.8 1182.7 189.4 1184.7C191 1186.7 192.4 1188.8 194.1 1190.6C195.6 1192.1 197.2 1193.4 198.8 1194.7C200.3 1195.9 202 1197 203.5 1198.2C204.7 1199.2 205.9 1200.2 207.1 1201.2M185.9 1201.2C188.2 1199.6 190.3 1197.4 192.9 1196.5C195.2 1195.7 197.7 1196.5 200 1195.9C203 1195.1 205.4 1192.9 208.2 1191.8C211.3 1190.5 214.5 1189.7 217.6 1188.8C220.8 1187.9 223.9 1187.1 227.1 1186.5C229.8 1185.9 232.5 1185.5 235.3 1185.3C238 1185.1 240.8 1185.2 243.5 1185.3C246.7 1185.4 251.3 1185.2 253.2 1185.9C254.4 1186.3 255.5 1187.3 256.5 1188.2C257.9 1189.6 259.6 1192.2 261.2 1194.1C262.7 1196.1 265.8 1199.9 265.9 1200C265.9 1200.1 265.9 1200.2 265.9 1200.3M197.6 1196.8C201.2 1194.7 204.5 1192.3 208.2 1190.6C211.3 1189.2 214.5 1188.3 217.6 1187.1C220.8 1185.8 224.1 1184.6 227.1 1182.9C229.5 1181.6 231.8 1179.9 234.1 1178.2C236.5 1176.5 238.8 1174.7 241.2 1172.9C243.1 1171.5 244.9 1169.9 247.1 1168.8C249 1167.9 251.1 1167.4 253.2 1167.1C256.2 1166.6 259.3 1167 262.4 1167.1C265.5 1167.1 268.6 1167.2 271.8 1167.3C274.1 1167.4 276.5 1167.4 278.8 1167.6C281.2 1167.9 283.6 1168.2 285.9 1168.8C288.3 1169.4 290.5 1170.5 292.9 1171.2C295.3 1171.8 297.6 1172.1 300 1172.6M210.6 1200.3C213.3 1197.8 216.1 1195.4 218.8 1192.9C221.6 1190.4 224.2 1187.8 227.1 1185.3C229.4 1183.3 231.7 1181.3 234.1 1179.4C236.4 1177.6 238.9 1175.9 241.2 1174.1C243.2 1172.6 244.9 1170.7 247.1 1169.4C248.5 1168.5 250.2 1168 251.8 1167.3M278.8 1167.6C280.4 1168.2 282 1168.6 283.5 1169.4C285.6 1170.5 287.5 1172.2 289.4 1173.5C291.4 1174.9 293.3 1176.4 295.3 1177.6C296.8 1178.6 298.4 1179.4 300 1180.3M295.1 1200.4C295.9 1199.7 296.8 1199 297.6 1198.2C298.5 1197.5 299.2 1196.7 300 1195.9M300 1090.6C301.7 1091.1 303.5 1091.4 305.1 1092.1C306.9 1092.9 308.4 1094.3 310.2 1095.3C312.3 1096.5 314.3 1097.9 316.6 1098.5C318.6 1099 320.8 1099.2 322.9 1098.9C324.8 1098.5 326.3 1097.3 328 1096.6C329.8 1095.9 331.6 1095.2 333.4 1094.7C335.4 1094.1 337.4 1093.6 339.5 1093.4C341.6 1093.1 343.8 1093 345.9 1093.1C348.5 1093.3 351 1093.8 353.5 1094.3C355.5 1094.6 357.3 1095.9 359.3 1095.5C361.5 1095.2 363.1 1093.3 365 1092.1C367.1 1090.8 369.1 1089.2 371.4 1088.3C373 1087.6 374.7 1086.9 376.5 1087C378.3 1087.1 380 1087.9 381.6 1088.9C383.6 1090.2 385.2 1092.1 386.7 1094C388.7 1096.7 390.1 1099.9 391.8 1102.9C393.5 1106.1 395.2 1109.3 396.9 1112.5C398.6 1115.7 400.3 1118.9 402 1122.1C403.7 1125.4 405.3 1128.9 407.1 1132.3C408.7 1135.3 410.4 1138.5 412.2 1141.2C413.3 1143 414.5 1144.8 416 1146.3C417.3 1147.6 419 1148.4 420.4 1149.5M300 1092.2C302.5 1091.3 305.1 1090.5 307.6 1089.6C310.6 1088.5 313.6 1087.3 316.6 1086.4C319.5 1085.4 322.5 1084.5 325.5 1083.8C328.1 1083.2 330.7 1082.3 333.4 1082.3C335.5 1082.3 337.5 1083.2 339.5 1083.6C341.6 1083.9 343.7 1084.4 345.9 1084.5C348.4 1084.5 351 1083.9 353.5 1083.6C355.5 1083.3 357.4 1082.9 359.3 1082.5C362.1 1082.1 365.6 1081.4 368.8 1081C372.2 1080.6 375.6 1080.3 379 1080.3C383.3 1080.2 387.5 1080.5 391.8 1080.6C396 1080.8 400.3 1081.1 404.5 1081.3C407.9 1081.4 412.9 1081.9 414.7 1081.8C415.9 1081.7 417 1081.4 418.2 1081.2M300 1082.2C301.7 1081.7 304.9 1080.8 305.1 1080.6C305.2 1080.5 305.2 1080.3 305.3 1080.1M412.8 1079.9C413.9 1080.4 414.9 1080.9 416 1081.3C417.4 1081.7 419 1082 420.4 1082.3M300 1172.6C302.1 1173 304.3 1173 306.4 1173.7C309.1 1174.6 311.5 1176.2 314 1177.5C317 1179 319.9 1180.7 322.9 1182C326.3 1183.4 329.8 1184.9 333.4 1185.5C337.5 1186.2 341.7 1185.5 345.9 1185.5C350.3 1185.5 355.5 1186.3 359.3 1185.5C361.7 1185 364 1183.7 366.3 1182.6C368.9 1181.4 371.3 1180 373.9 1178.8C376.9 1177.4 379.9 1176.2 382.8 1175C385.8 1173.7 388.7 1172.2 391.8 1171.1C395.1 1170 398.5 1169.3 402 1168.6C404.9 1168 407.9 1167.6 410.9 1167.3C414.1 1167 417.3 1166.9 420.4 1166.7M300 1180.3C301.7 1181.3 303.4 1182.3 305.1 1183.2C307.2 1184.4 309.2 1185.6 311.5 1186.4C313.9 1187.3 316.5 1187.8 319.1 1188.3C321.6 1188.8 324.3 1188.8 326.8 1189.4C329 1189.9 331.3 1190.6 333.4 1191.5C335.5 1192.4 337.3 1193.9 339.5 1194.7C341.6 1195.4 343.7 1196 345.9 1196C348.5 1195.9 351 1194.8 353.5 1194.1C355.5 1193.5 357.3 1192.5 359.3 1192.2C361.6 1191.8 363.9 1192.4 366.3 1192.2C368.9 1191.9 371.4 1191.4 373.9 1190.9C376.5 1190.3 379 1189.6 381.6 1189C384.1 1188.3 386.6 1187.6 389.2 1187.1C391.7 1186.5 394.3 1186 396.9 1185.8C400.2 1185.5 403.7 1185.5 407.1 1185.5C411.5 1185.5 416 1185.7 420.4 1185.8M300 1195.9C301.7 1194.2 303.2 1192.3 305.1 1190.9C307 1189.5 309.2 1188.2 311.5 1187.7C314 1187.1 316.6 1187.6 319.1 1187.7C321.7 1187.8 324.2 1188.4 326.8 1188.3C329 1188.3 331.2 1187.7 333.4 1187.7C335.4 1187.7 337.5 1188.1 339.5 1188.3C341.6 1188.6 343.8 1188.7 345.9 1189C348.4 1189.3 351 1189.6 353.5 1190.2C355.5 1190.7 357.3 1191.6 359.3 1192.2C361.6 1192.9 363.9 1193.5 366.3 1194.1C368.8 1194.7 371.3 1195.6 373.9 1196C376.4 1196.4 379 1196.8 381.6 1196.6C384.2 1196.4 386.8 1195.8 389.2 1194.7C392 1193.5 394.4 1191.4 396.9 1189.6C399.1 1188 401.3 1186.4 403.2 1184.5C405.1 1182.8 406.6 1180.7 408.3 1178.8C410 1176.9 411.7 1174.9 413.4 1173C414.7 1171.7 415.9 1170.4 417.3 1169.2C418.3 1168.4 419.4 1167.7 420.4 1166.9M299.4 1200.4C302.1 1199 304.9 1197.4 307.6 1196C310.6 1194.5 313.5 1192.8 316.6 1191.5C319.5 1190.3 322.5 1189.3 325.5 1188.3C328.1 1187.5 330.8 1186.8 333.4 1186M359.3 1185.8C361.6 1187.1 363.9 1188.5 366.3 1189.6C368.8 1190.8 371.3 1191.8 373.9 1192.8C376.4 1193.7 379 1194.5 381.6 1195.3C384.1 1196.2 387.8 1197.1 389.2 1197.9C390.2 1198.4 390.9 1199.2 391.8 1199.9M66.5 1211.2C68.6 1210.2 70.8 1209.3 72.9 1208.2C75 1207.2 76.9 1206 78.8 1204.7C80.5 1203.6 82.4 1201.8 83.5 1201.2C84.3 1200.8 85.1 1200.6 85.9 1200.3M66.5 1211.8C69.4 1210.2 72.2 1208.3 75.3 1207.1C77.9 1206 80.7 1205.2 83.5 1204.7C87.4 1204 91.4 1203.8 95.3 1203.5C99.2 1203.3 103.1 1203.3 107.1 1203.3C109.8 1203.3 112.5 1203.2 115.3 1203.3C118.8 1203.4 122.4 1203.6 125.9 1203.8C129.4 1204 132.9 1204.3 136.5 1204.5C139.8 1204.6 143.1 1204.7 146.5 1204.7C151.5 1204.8 167.6 1205 171.8 1204.7C174.5 1204.5 177.3 1203.9 180 1203.5M133.5 1200.3C134.9 1201 136.2 1201.8 137.6 1202.4C139.8 1203.1 143.5 1203.8 146.5 1204.5M107.9 1200.3C109.2 1201.4 110.5 1202.4 111.8 1203.5C113.4 1205 114.8 1206.8 116.5 1208.2C118.3 1209.9 120.4 1211.4 122.4 1212.9C124.7 1214.7 127 1216.5 129.4 1218.2C131.3 1219.6 133.2 1221.1 135.3 1222.4C137.2 1223.5 139.1 1224.6 141.2 1225.3C142.9 1225.9 144.7 1226.3 146.5 1226.5C149.2 1226.8 169.9 1226.8 171.8 1226.5C173 1226.3 174.1 1225.8 175.3 1225.3C176.9 1224.6 178.4 1223.8 180 1223.1M117.6 1199.7C118.8 1201.4 120 1203.1 121.2 1204.7C122.7 1206.7 124.3 1208.6 125.9 1210.6C127.5 1212.5 128.9 1214.6 130.6 1216.5C132.4 1218.4 134.3 1220.2 136.5 1221.8C138.3 1223.1 140.4 1224.3 142.4 1225.3C143.7 1225.9 145 1226.6 146.5 1226.8C148.6 1227.2 168.8 1227.2 171.8 1227.3C173.7 1227.4 176.3 1227.2 177.6 1227.6C178.5 1227.9 179.2 1228.6 180 1229.1M66.5 1214.1C68.6 1214.9 70.9 1215.5 72.9 1216.5C75.4 1217.6 77.7 1219.1 80 1220.6C82.4 1222.1 84.7 1223.7 87.1 1225.3C89.4 1226.9 91.7 1228.5 94.1 1230C96.4 1231.4 98.7 1232.9 101.2 1234.1C103.8 1235.5 106.6 1236.6 109.4 1237.6C112.1 1238.7 114.9 1239.7 117.6 1240.6C120.4 1241.5 123.1 1242.2 125.9 1242.9C129 1243.8 132.1 1244.7 135.3 1245.3C139 1245.9 142.7 1246.2 146.5 1246.5C152.1 1246.8 167.6 1247.2 171.8 1246.8C174.5 1246.6 177.3 1245.8 180 1245.3M66.5 1214.7C69 1215.7 71.7 1216.4 74.1 1217.6C77 1219.1 79.6 1221.2 82.4 1222.9C85.1 1224.7 87.8 1226.5 90.6 1228.2C93.3 1229.9 96 1231.4 98.8 1232.9C101.5 1234.4 104.2 1235.9 107.1 1237.1C109.7 1238.2 112.5 1239.1 115.3 1240C118 1240.9 120.7 1241.8 123.5 1242.4C126.6 1243 129.8 1243.4 132.9 1243.5C137.5 1243.7 142 1243 146.5 1242.9C153.2 1242.8 167.6 1242.9 171.8 1242.9C174.5 1242.9 177.3 1242.9 180 1242.9M66.5 1221.2C69 1221.3 71.6 1221.2 74.1 1221.4C76.9 1221.6 79.6 1222.1 82.4 1222.4C85.1 1222.6 87.8 1223.1 90.6 1222.9C92.6 1222.8 94.6 1222.5 96.5 1221.8C98.2 1221.1 99.7 1219.9 101.2 1218.8C103.3 1217.2 105.1 1215.3 107.1 1213.5C108.7 1212 110.3 1210.5 111.8 1208.8C113.4 1207 114.9 1205.1 116.5 1203.2M66.5 1230.6C69.4 1230.7 72.4 1230.9 75.3 1230.8C78.1 1230.7 80.8 1230.5 83.5 1230C85.9 1229.6 88.2 1228.6 90.6 1228.2C93.3 1227.8 96.1 1227.7 98.8 1227.6C102.4 1227.6 105.9 1228.1 109.4 1228.2C113.3 1228.3 117.3 1228.3 121.2 1228.2C125.1 1228.1 129 1227.8 132.9 1227.6C137.5 1227.4 142 1227.3 146.5 1227.1M66.5 1234.1C69 1233.7 71.6 1233.4 74.1 1232.9C76.9 1232.4 79.6 1231.8 82.4 1231.2C84.7 1230.6 87.1 1230 89.4 1229.4M66.5 1234.1C69.8 1234.3 73.1 1234.7 76.5 1234.7C80 1234.7 83.5 1234.4 87.1 1234.1C91 1233.8 95 1233.7 98.8 1232.9C101.6 1232.4 104.3 1231.2 107.1 1230.6C110.2 1230 113.3 1229.5 116.5 1229.4C119.6 1229.3 122.7 1229.8 125.9 1230C129 1230.2 132.2 1230.6 135.3 1230.4C137.7 1230.1 140.3 1229.3 142.4 1228.8C143.7 1228.5 145.1 1228 146.5 1227.6M66.5 1234.1C68.6 1234.7 70.9 1234.9 72.9 1235.9C75.1 1236.9 77 1238.5 78.8 1240C80.9 1241.6 82.7 1243.6 84.7 1245.3C86.6 1246.9 88.5 1248.6 90.6 1250C92.4 1251.2 94.4 1252.2 96.5 1252.9C98.4 1253.6 100.4 1254.3 102.4 1254.1C104.5 1253.9 106.5 1252.9 108.2 1251.8C110.1 1250.5 111.5 1248.7 112.9 1247.1C114.6 1245.2 116.2 1243.2 117.6 1241.2C119.3 1238.9 120.7 1236.4 122.4 1234.1C123.8 1232.1 125.4 1230.2 127.1 1228.2C128.6 1226.4 130 1224.5 131.8 1222.9C133.2 1221.6 134.8 1220.4 136.5 1219.4C138.3 1218.4 140.3 1217.6 142.4 1217.1C144.7 1216.4 147 1216.1 149.4 1215.9C153 1215.6 168.8 1215.6 171.8 1215.9C173.8 1216.1 176.4 1216.7 177.6 1217.1C178.5 1217.3 179.2 1217.6 180 1217.9M66.5 1258.2C69 1258.2 71.6 1258.4 74.1 1258.2C76.9 1258 79.6 1257.5 82.4 1257.1C85.1 1256.6 87.8 1255.9 90.6 1255.3C93.3 1254.7 96.1 1254.3 98.8 1253.5C101.6 1252.7 104.3 1251.6 107.1 1250.6C109.4 1249.7 111.7 1248.5 114.1 1247.6C116.4 1246.8 118.8 1245.9 121.2 1245.3C123.9 1244.6 126.7 1244.1 129.4 1243.5C132.2 1242.9 134.9 1242.2 137.6 1241.8C140.6 1241.4 143.5 1241.3 146.5 1241.2C150.9 1241 167.6 1241 171.8 1241.2C174.5 1241.3 177.3 1241.6 180 1241.8M66.5 1261.2C69.4 1261 72.4 1261 75.3 1260.6C78.5 1260.2 81.6 1259.5 84.7 1258.8C87.9 1258.1 91 1257.4 94.1 1256.5C97.3 1255.5 100.4 1254.1 103.5 1252.9C106.3 1251.9 109 1251.1 111.8 1250C114.1 1249.1 116.4 1247.9 118.8 1247.1C121.1 1246.3 123.5 1245.7 125.9 1245.3C128.2 1244.9 130.6 1244.9 132.9 1244.7M66.5 1278.8C68.6 1278.2 70.9 1277.9 72.9 1277.1C75.4 1276.1 77.6 1274.7 80 1273.5C82.4 1272.4 84.7 1271.2 87.1 1270C89.4 1268.8 91.8 1267.7 94.1 1266.5C96.5 1265.2 98.8 1263.7 101.2 1262.4C103.5 1261 105.8 1259.5 108.2 1258.2C110.5 1257 112.9 1255.9 115.3 1254.7C117.6 1253.5 120 1252.4 122.4 1251.2C124.7 1250 126.9 1248.6 129.4 1247.6C131.7 1246.8 134.1 1246.5 136.5 1245.9M66.5 1278.8C69.4 1278.9 72.4 1279 75.3 1279.1C78.8 1279.1 82.4 1279.1 85.9 1279.1C89 1279 92.2 1278.8 95.3 1278.6C98.4 1278.4 101.6 1278.2 104.7 1277.6C107.9 1277.1 111 1276 114.1 1275.3C117.2 1274.6 120.4 1274.1 123.5 1273.5C126.7 1272.9 129.8 1272.3 132.9 1271.8C136.1 1271.3 139.2 1270.8 142.4 1270.6C144.7 1270.4 147.1 1270.5 149.4 1270.4C151.8 1270.2 154.1 1269.8 156.5 1269.4C158.4 1269.1 160.4 1268.5 162.4 1268.2C165.3 1267.8 168.6 1267.5 171.8 1267.6C174.5 1267.8 177.3 1268.5 180 1268.9M104.7 1255.9C107.1 1256.9 109.4 1257.9 111.8 1258.8C114.1 1259.7 116.5 1260.3 118.8 1261.2C121.2 1262.1 123.5 1263.2 125.9 1264.1C128.2 1265 130.6 1265.8 132.9 1266.5C135.3 1267.1 137.6 1267.8 140 1268.2C142.1 1268.6 144.3 1268.6 146.5 1268.8C149 1269 151.6 1269.2 154.1 1269.4C156.5 1269.6 158.8 1269.7 161.2 1270C163.2 1270.3 165.1 1270.9 167.1 1271.2C168.6 1271.4 170.2 1271.5 171.8 1271.5C174.1 1271.6 177.3 1271.4 180 1271.4M66.5 1278.8C68.6 1279.2 70.9 1279.1 72.9 1280C74.7 1280.8 76.1 1282.3 77.6 1283.5C79.3 1284.8 80.7 1286.3 82.4 1287.6C83.9 1288.9 85.1 1291.2 87.1 1291.2C88.6 1291.1 89.6 1289.4 90.6 1288.2C92.1 1286.5 93 1284.4 94.1 1282.4C95.4 1280 96.5 1277.7 97.6 1275.3C98.9 1272.6 99.9 1269.8 101.2 1267.1C102.3 1264.7 103.4 1262.3 104.7 1260C106.1 1257.6 107.8 1255.3 109.4 1252.9C111 1250.6 112.4 1248.2 114.1 1245.9C115.6 1243.9 117.3 1242 118.8 1240C120.4 1238 122 1236.1 123.5 1234.1C125.1 1232 126.6 1229.7 128.2 1227.6C129.7 1225.8 131.2 1224 132.9 1222.4C134.4 1221 136.1 1220 137.6 1218.8M66.5 1292.4C69.4 1292.5 72.4 1292.6 75.3 1292.7C79.2 1292.8 83.1 1292.8 87.1 1292.9C91 1293.1 94.9 1293.4 98.8 1293.5C102.7 1293.7 106.7 1293.8 110.6 1293.9C114.5 1294 118.4 1294 122.4 1294.1C126.7 1294.2 131 1294.3 135.3 1294.4C139 1294.4 142.7 1294.5 146.5 1294.5C152.1 1294.5 169.3 1294.9 171.8 1294.5C173.4 1294.2 174.9 1293.5 176.5 1292.9C177.7 1292.5 178.8 1292 180 1291.6M66.5 1292.4C68.2 1292.9 70.1 1293.3 71.8 1294.1C73.8 1295.1 75.7 1296.4 77.6 1297.6C79.7 1298.9 81.6 1300.4 83.5 1301.8C85.5 1303.1 87.4 1304.6 89.4 1305.9C91.3 1307.1 93.2 1308.5 95.3 1309.4C97.2 1310.2 99.1 1311.1 101.2 1311.2C103.2 1311.3 105.2 1310.6 107.1 1310C109.1 1309.3 111.1 1308.2 112.9 1307.1C115 1305.8 116.8 1304.2 118.8 1302.9C120.7 1301.7 122.7 1300.4 124.7 1299.4C126.6 1298.5 128.6 1297.7 130.6 1297.1C132.9 1296.3 135.3 1295.7 137.6 1295.3C140.6 1294.8 143.5 1294.9 146.5 1294.7M66.5 1304.7C69.4 1304.6 72.4 1304.5 75.3 1304.5C78.4 1304.4 81.6 1304.5 84.7 1304.5C88.2 1304.5 91.8 1304.5 95.3 1304.5C98.4 1304.5 101.6 1304.5 104.7 1304.5C107.1 1304.4 109.4 1304.5 111.8 1304.1C113.8 1303.8 115.7 1303 117.6 1302.4C119.6 1301.7 121.6 1300.8 123.5 1300C125.5 1299.2 127.4 1298.3 129.4 1297.6C131.7 1296.9 134.1 1296.5 136.5 1295.9M66.5 1317.6C67.8 1316.9 69.4 1316.3 70.6 1315.3C72.4 1313.8 73.7 1311.4 75.3 1309.4C76.9 1307.5 78.4 1305.4 80 1303.5C81.5 1301.7 83.1 1299.4 84.7 1298.2C85.7 1297.4 86.9 1296.4 88.2 1296.5C89.6 1296.6 90.8 1297.8 91.8 1298.8C93.2 1300.4 94.1 1302.7 95.3 1304.7C96.5 1306.7 97.5 1308.7 98.8 1310.6C99.9 1312.2 101.1 1313.8 102.4 1315.3C103.8 1317.1 105.4 1318.8 106.9 1320.6M66.5 1317.6C68.2 1318.2 70.1 1318.8 71.8 1319.4C72.9 1319.8 74 1320.2 75.2 1320.6M171.8 1294.5C173.7 1294.9 176.5 1295.6 177.6 1295.9C178.4 1296.1 179.2 1296.2 180 1296.4M179.4 1204.1C183.5 1204 187.6 1203.9 191.8 1203.8C195.7 1203.7 199.6 1203.4 203.5 1203.5C207.5 1203.6 211.4 1204.1 215.3 1204.5C219.2 1204.8 223.2 1205.1 227.1 1205.6C231 1206.2 234.9 1207.1 238.8 1207.6C242 1208.1 245.8 1208.6 248.2 1208.8C249.9 1209 251.5 1209.1 253.2 1209.2C255.7 1209.3 261.6 1209 265.9 1209.2C270.2 1209.3 274.5 1209.8 278.8 1210.1M180 1203.5C182.4 1203.1 184.7 1202.8 187.1 1202.4C189.4 1201.9 192 1201.8 194.1 1200.6C195.6 1199.7 196.5 1198 197.6 1196.8M210.6 1200.3C209.4 1201.8 208.3 1203.3 207.1 1204.7C205.2 1206.8 203.2 1208.7 201.2 1210.6C199.3 1212.4 197.4 1214.3 195.3 1215.9C193.1 1217.5 190.7 1218.8 188.2 1220C185.6 1221.3 182.7 1222 180 1223.1M180 1217.9C182 1217.8 184 1218.1 185.9 1217.6C187.9 1217.2 189.9 1216.2 191.8 1215.3C193.8 1214.3 195.6 1212.9 197.6 1211.8C199.2 1210.9 200.6 1209.7 202.4 1209.4C203.5 1209.2 204.8 1209.5 205.9 1210C207.5 1210.7 209.1 1212.2 210.6 1213.5C212.3 1215 213.6 1216.8 215.3 1218.2C217.2 1219.9 219 1221.7 221.2 1222.9C223 1224 225 1224.6 227.1 1225.3C228.6 1225.8 230.2 1225.9 231.8 1226.5C233.4 1227.1 234.9 1228.1 236.5 1228.8C238.4 1229.7 240.4 1230.5 242.4 1231.2C244.3 1231.9 246.2 1232.5 248.2 1232.9C249.9 1233.3 251.5 1233.3 253.2 1233.5M179.4 1224.7C181.2 1224.3 182.9 1223.4 184.7 1223.5C186.4 1223.6 188 1224.4 189.4 1225.3C191.2 1226.4 192.6 1227.9 194.1 1229.4C195.8 1231.1 197.3 1232.9 198.8 1234.7C200.4 1236.5 202.1 1238.1 203.5 1240C204.9 1241.8 205.9 1243.9 207.1 1245.9C208.2 1247.8 209.5 1249.8 210.6 1251.8C211.9 1254.1 212.9 1256.5 214.1 1258.8C215.3 1261.2 216.5 1263.5 217.6 1265.9C218.8 1268.2 219.8 1270.7 221.2 1272.9C222.2 1274.6 223.5 1276.1 224.7 1277.6C225.9 1279.2 227.1 1280.7 228.2 1282.4C229.5 1284.3 230.7 1286.9 231.8 1288.2C232.4 1289.1 233 1290.6 234.1 1290.6C235.2 1290.6 235.7 1289 236.5 1288.2C237.6 1287.1 238.8 1285.9 240 1284.7C241.6 1283.1 242.9 1281.3 244.7 1280C246.1 1279 247.7 1278.2 249.4 1277.6C250.6 1277.3 251.9 1277.2 253.2 1277.1C255.1 1276.9 259.3 1276.9 262.4 1277.1C264.7 1277.2 267.1 1277.4 269.4 1277.6C271 1277.8 272.5 1278.1 274.1 1278.2C275.7 1278.4 277.3 1278.5 278.8 1278.6M179.4 1226.5C182.7 1226.9 186.1 1227.2 189.4 1227.6C192.6 1228 195.7 1228.6 198.8 1228.8C202 1229 205.1 1229.1 208.2 1228.8C211.4 1228.5 214.5 1227.7 217.6 1227.1C220 1226.5 222.4 1226 224.7 1225.3C227.1 1224.6 229.5 1223.9 231.8 1222.9C234.2 1221.9 236.4 1220.5 238.8 1219.4C241.1 1218.4 243.4 1217.2 245.9 1216.5C248.3 1215.8 250.7 1215.4 253.2 1215.1C256.2 1214.6 259.3 1214.5 262.4 1214.4C265.5 1214.2 268.6 1214.2 271.8 1214.1C274.1 1214 276.5 1213.9 278.8 1213.8M180 1229.1C183.9 1229.4 187.8 1229.8 191.8 1230C195.7 1230.2 199.6 1230.5 203.5 1230.4C207.5 1230.3 211.4 1229.7 215.3 1229.4C218.4 1229.2 222.3 1229 224.7 1228.8C226.3 1228.7 227.8 1228.1 229.4 1228.2C231 1228.3 232.6 1228.9 234.1 1229.4C235.7 1230 237.2 1231 238.8 1231.5C241.1 1232.3 243.5 1232.6 245.9 1232.9C248.3 1233.3 250.7 1233.4 253.2 1233.5C256.2 1233.7 259.3 1233.7 262.4 1233.5C265.5 1233.3 268.7 1232.9 271.8 1232.4C274.1 1231.9 276.5 1231.2 278.8 1230.7M180 1241.8C182.4 1241.6 184.7 1241.4 187.1 1241.2C189.8 1240.9 192.6 1240.6 195.3 1240C198.1 1239.4 200.8 1238.5 203.5 1237.6C206.3 1236.8 209 1235.6 211.8 1234.7C214.5 1233.8 217.2 1233 220 1232.4C222.3 1231.8 224.7 1231.4 227.1 1231.2C229.4 1230.9 231.8 1230.9 234.1 1230.8C237.3 1230.7 240.4 1230.5 243.5 1230.8C246.8 1231.2 250 1232.2 253.2 1232.9M180 1245.3C183.1 1244.9 186.3 1244.5 189.4 1244.1C192.5 1243.7 195.7 1243.4 198.8 1242.9C201.2 1242.6 203.5 1242.3 205.9 1241.8C207.5 1241.4 209.1 1241.2 210.6 1240.6C212.3 1239.9 213.7 1238.6 215.3 1237.6C217.2 1236.5 219.3 1235.4 221.2 1234.1C223.2 1232.8 225.1 1231.4 227.1 1230C228.6 1228.8 230.2 1227.6 231.8 1226.5C233.3 1225.3 234.7 1223.7 236.5 1222.9C238.3 1222.1 240.4 1222 242.4 1221.8C245.3 1221.4 249.6 1221.5 253.2 1221.4C257.4 1221.3 261.6 1221.5 265.9 1221.4C270.2 1221.3 274.5 1221.1 278.8 1220.9M180 1242.9C182 1243.3 183.9 1243.6 185.9 1244.1C188.3 1244.8 190.6 1245.6 192.9 1246.5C195.3 1247.4 197.6 1248.4 200 1249.4C202.4 1250.4 204.7 1251.4 207.1 1252.4C209.8 1253.5 212.5 1254.9 215.3 1255.9C218 1256.8 220.8 1257.5 223.5 1258.2C226.3 1258.9 229 1259.5 231.8 1260C234.9 1260.5 238 1260.9 241.2 1261.2C245.2 1261.5 249.2 1261.7 253.2 1261.8C257.4 1261.8 261.6 1261.5 265.9 1261.4C270.2 1261.3 274.5 1261.1 278.8 1261M179.4 1244.7C182 1244.9 184.5 1244.9 187.1 1245.3C189.5 1245.7 191.8 1246.3 194.1 1247.1C196.5 1247.9 198.9 1248.9 201.2 1250C203.6 1251.2 205.7 1253 208.2 1254.1C210.9 1255.2 213.6 1256.4 216.5 1256.5C219.3 1256.6 222.1 1255.8 224.7 1254.7C226.9 1253.7 228.7 1252.1 230.6 1250.6C232.7 1248.9 234.5 1247.1 236.5 1245.3C238.4 1243.5 240.3 1241.7 242.4 1240C244.3 1238.4 246 1236.5 248.2 1235.3C249.8 1234.4 251.5 1234.1 253.2 1233.5M179.4 1246.5C182.7 1246.7 186.2 1246.3 189.4 1247.1C192.3 1247.7 195 1249.3 197.6 1250.6C200.5 1252 203.1 1253.9 205.9 1255.3C208.6 1256.6 211.2 1258.4 214.1 1258.8C217.2 1259.3 220.4 1257.7 223.5 1257.6C226.7 1257.5 229.8 1258.1 232.9 1258.2C236.5 1258.3 240 1258.2 243.5 1258.2C246.7 1258.2 250 1258.2 253.2 1258.2C257.4 1258.2 261.6 1258.2 265.9 1258.2C270.2 1258.3 274.5 1258.5 278.8 1258.7M180 1268.9C182.7 1268.3 185.5 1267.8 188.2 1267.1C191.4 1266.2 194.5 1265.1 197.6 1264.1C200.8 1263.1 203.9 1262.2 207.1 1261.2C209.4 1260.4 211.8 1259.7 214.1 1258.8C216.1 1258.1 218 1257.3 220 1256.5M215.3 1258.8C217.3 1259.8 219.2 1260.8 221.2 1261.8C223.5 1262.9 225.8 1264.2 228.2 1265.3C230.6 1266.4 232.9 1267.4 235.3 1268.2C237.6 1269.1 239.9 1269.9 242.4 1270.4C244.7 1270.8 247.5 1271 249.4 1271.2C250.7 1271.3 251.9 1271.3 253.2 1271.5C255 1271.8 257.8 1272.2 260 1272.9C262.1 1273.7 263.9 1275 265.9 1275.9C267.8 1276.7 269.7 1277.7 271.8 1278.2C274.1 1278.8 276.5 1278.7 278.8 1278.9M180 1291.6C182.7 1290.9 185.5 1290.2 188.2 1289.4C191.4 1288.5 194.5 1287.5 197.6 1286.5C200.8 1285.5 203.9 1284.4 207.1 1283.5C210.2 1282.7 213.3 1281.8 216.5 1281.2C218.8 1280.7 221.5 1279.6 223.5 1280C224.9 1280.3 226 1281.4 227.1 1282.4C228.5 1283.7 229.4 1285.5 230.6 1287.1C231.5 1288.3 232.5 1289.4 233.5 1290.6M223.5 1278.2C226.7 1278.1 229.8 1278 232.9 1277.9C236.1 1277.7 239.2 1277.6 242.4 1277.4C244.7 1277.3 247.1 1277.2 249.4 1277.1M180 1271.4C181.6 1272.7 183.2 1273.9 184.7 1275.3C186.8 1277.2 188.6 1279.3 190.6 1281.2C192.5 1283 194.5 1284.7 196.5 1286.5C198.4 1288.2 200.4 1290 202.4 1291.8C204.3 1293.5 206.1 1295.5 208.2 1297.1C210.1 1298.4 212 1299.8 214.1 1300.6C216 1301.3 218 1301.7 220 1301.8C222 1301.9 224 1301.6 225.9 1301.2C227.5 1300.8 228.9 1299.6 230.6 1299.4C232.2 1299.2 233.9 1299.2 235.3 1300C237 1301 237.7 1303.1 238.8 1304.7C240 1306.4 241.1 1308.3 242.4 1310C243.5 1311.6 244.5 1313.3 245.9 1314.7C247.3 1316.1 248.8 1317.4 250.6 1318.2C252 1318.9 253.7 1319 255.3 1319.4M179.4 1295.3C182.7 1294.9 186.1 1294.4 189.4 1294.1C193.3 1293.8 197.3 1293.6 201.2 1293.5C205.1 1293.4 209 1293.5 212.9 1293.5C216.9 1293.5 220.8 1293.5 224.7 1293.5C227.8 1293.5 231 1293.6 234.1 1293.5C237.3 1293.5 240.4 1293.3 243.5 1293.2C246.7 1293.1 250 1293.1 253.2 1292.9C257.4 1292.8 261.6 1292.5 265.9 1292.4C270.2 1292.2 274.5 1292.1 278.8 1292M180 1296.4C182.4 1297.2 184.8 1297.9 187.1 1298.8C189.5 1299.8 191.8 1301.1 194.1 1302.4C196.5 1303.6 198.8 1305.1 201.2 1306.5C203.5 1307.8 205.9 1309.1 208.2 1310.6C210.3 1311.9 212.1 1313.4 214.1 1314.7C216 1316 218 1317.2 220 1318.2C221.6 1319.1 223.3 1319.8 224.9 1320.6M213 1320.6C214.5 1318.4 216.1 1316.3 217.6 1314.1C219.3 1311.8 220.7 1309.3 222.4 1307.1C223.8 1305 225.4 1303 227.1 1301.2C228.5 1299.5 229.9 1297.7 231.8 1296.5C233.5 1295.3 235.6 1294.6 237.6 1294.1C239.9 1293.6 242.4 1293.7 244.7 1293.5M226.2 1320.5C230.4 1320.3 234.6 1320.2 238.8 1320C243.6 1319.8 248.4 1319.6 253.2 1319.4C257.4 1319.3 261.6 1319.2 265.9 1319.1C270.2 1318.9 274.5 1318.6 278.8 1318.4M260.9 1320.6C262.6 1318.4 264.2 1316.3 265.9 1314.1C267.4 1312.1 268.7 1309.8 270.6 1308.2C272.5 1306.7 274.9 1305.9 277 1304.8M265.9 1200.3C266.7 1201.8 267.2 1203.4 268.2 1204.7C269.6 1206.5 271.1 1208.2 272.9 1209.4C274.7 1210.5 276.8 1210.8 278.8 1211.5M391.8 1199.9C393.5 1201 395.1 1202.2 396.9 1203.2C399.3 1204.5 401.9 1205.4 404.5 1206.4C407 1207.3 409.6 1208.1 412.2 1208.7C414.9 1209.2 417.7 1209.3 420.4 1209.6M333.4 1235.2C337.6 1234.9 341.7 1234.3 345.9 1234.2C350.3 1234 355.1 1234.6 359.3 1234.4C362 1234.3 364.9 1234.1 367.6 1233.4C370.6 1232.6 373.5 1231.2 376.5 1230C379.9 1228.5 383.3 1227 386.7 1225.5C390.1 1224 393.4 1222.4 396.9 1221C400.2 1219.7 403.6 1218.2 407.1 1217.2C409.6 1216.5 412.1 1215.9 414.7 1215.5C416.6 1215.3 418.5 1215.4 420.4 1215.3M333.4 1236.3C337.6 1236.5 341.7 1236.7 345.9 1236.7C350.3 1236.7 354.8 1236.7 359.3 1236.3C362.5 1236.1 365.7 1235.8 368.8 1235C372.3 1234.2 375.7 1232.6 379 1231.2C382.5 1229.8 385.8 1228.3 389.2 1226.8C392.6 1225.3 396 1223.7 399.4 1222.3C402.3 1221.1 405.3 1219.9 408.3 1219.1C410.8 1218.5 413.8 1218.1 416 1217.8C417.5 1217.7 419 1217.7 420.4 1217.6M333.4 1237.8C337.6 1238 341.7 1238.3 345.9 1238.2C350.3 1238.2 354.8 1237.9 359.3 1237.6C362.5 1237.4 365.7 1237.4 368.8 1237C372.3 1236.5 375.6 1235.7 379 1235C382.4 1234.4 385.8 1233.4 389.2 1232.9C392.6 1232.4 396 1231.9 399.4 1231.9C402.8 1231.8 406.2 1232.3 409.6 1232.5C413.2 1232.8 416.8 1233.1 420.4 1233.4M359.3 1238.2C361.6 1239.5 363.9 1240.9 366.3 1242.1C368.3 1243 370.4 1244.3 372.6 1244.6C374.8 1244.9 377 1244.5 379 1244C381.7 1243.3 384.1 1241.8 386.7 1240.8C389.2 1239.7 391.7 1238.6 394.3 1237.6C396.8 1236.7 399.3 1235.7 402 1235C404.9 1234.4 407.9 1234 410.9 1233.8C414.1 1233.5 417.3 1233.5 420.4 1233.4M333.4 1259.1C337.6 1259.2 341.7 1259.2 345.9 1259.3C350.3 1259.3 355.8 1259.4 359.3 1259.3C361.6 1259.2 364 1259.3 366.3 1258.6C368.1 1258.1 369.7 1257 371.4 1256.1C373.5 1254.9 375.6 1253.4 377.7 1252.3C379.8 1251.1 382 1250.2 384.1 1249.1C386.7 1247.7 389.2 1246.1 391.8 1244.6C394.3 1243.1 396.8 1241.6 399.4 1240.1C401.9 1238.8 404.4 1237.4 407.1 1236.3C409.5 1235.4 412.1 1234.7 414.7 1234.2C416.6 1233.8 418.5 1233.6 420.4 1233.4M333.4 1251.9C337.6 1252 341.7 1252.2 345.9 1252.3C350.3 1252.3 355.1 1252.4 359.3 1252.3C362 1252.1 364.8 1251.8 367.6 1251.6C370.1 1251.4 372.6 1251 375.2 1251C377.3 1251 379.5 1251.2 381.6 1251.6C384.2 1252.2 386.7 1253.3 389.2 1254.2C391.8 1255 394.3 1255.9 396.9 1256.7C399.4 1257.6 401.9 1258.5 404.5 1259.3C407 1260 409.6 1260.8 412.2 1261.2C414.9 1261.6 417.7 1261.6 420.4 1261.8M333.4 1249.1C337.6 1249.1 341.7 1249.1 345.9 1249.1C350.3 1249.1 354.8 1249.1 359.3 1249.1C362.5 1249.1 365.6 1248.8 368.8 1249.1C371.4 1249.3 373.9 1249.8 376.5 1250.3C379 1250.9 381.6 1251.6 384.1 1252.3C387.1 1253.1 390.1 1254 393 1254.8C396 1255.7 399 1256.6 402 1257.4C404.9 1258.1 407.9 1258.9 410.9 1259.3C414 1259.7 417.3 1259.5 420.4 1259.6M371.4 1259.3C373.9 1259.9 376.5 1260.5 379 1261.2C382.4 1262.1 385.8 1263.3 389.2 1264.4C392.6 1265.4 396 1266.5 399.4 1267.6C402.4 1268.4 405.3 1269.4 408.3 1270.1C410.4 1270.6 412.6 1271.1 414.7 1271.4C416.6 1271.6 418.5 1271.5 420.4 1271.6M333.4 1267.7C335.5 1268 337.5 1268.4 339.5 1268.6C341.6 1268.8 343.8 1269.1 345.9 1269.1C348.4 1269.1 351 1268.9 353.5 1268.6C355.5 1268.3 357.3 1267.6 359.3 1267.6C360.8 1267.5 362.3 1267.6 363.7 1268.2C365.7 1269 367.2 1270.7 368.8 1272C370.6 1273.4 372.3 1274.9 373.9 1276.5C376.1 1278.5 378.2 1280.7 380.3 1282.8C382.4 1285 384.4 1287.2 386.7 1289.2C388.7 1291 390.9 1292.7 393 1294.3C394.7 1295.6 396.3 1297.4 398.1 1297.9C399.4 1298.2 400.8 1297.9 402 1297.5C403.8 1296.9 405.2 1295.1 407.1 1294.3C408.7 1293.6 410.4 1293.2 412.2 1293C414.8 1292.8 417.7 1293.5 420.4 1293.7M333.4 1283.4C337.6 1283.4 341.7 1283.5 345.9 1283.5C350.3 1283.5 354.8 1283.2 359.3 1283.5C362.5 1283.7 365.6 1284.7 368.8 1284.8C371.4 1284.8 373.9 1284.5 376.5 1284.1C379.9 1283.5 383.2 1282.3 386.7 1281.6C390 1280.8 393.5 1280.3 396.9 1279.7C400.3 1279.1 403.6 1278.4 407.1 1278C409.6 1277.7 412.2 1277.6 414.7 1277.5C416.6 1277.4 418.5 1277.4 420.4 1277.4M333.4 1287.2C337.6 1287.3 341.7 1287.6 345.9 1287.7C350.3 1287.8 354.8 1287.8 359.3 1287.7C362.5 1287.6 365.6 1287.1 368.8 1287.3C371.4 1287.5 373.9 1288.1 376.5 1288.6C379 1289.1 381.5 1290 384.1 1290.5C386.6 1291 389.2 1291.4 391.8 1291.8C394.3 1292.1 396.9 1292.2 399.4 1292.4C402.4 1292.6 405.4 1292.9 408.3 1293C412.4 1293.3 416.4 1293.5 420.4 1293.7M333.4 1300.6C335.5 1299.8 337.4 1298.7 339.5 1298.1C341.6 1297.6 343.7 1297.1 345.9 1297.1C348.5 1297.2 351 1298.1 353.5 1298.8C355.5 1299.3 357.3 1301 359.3 1300.7C361.5 1300.4 362.9 1297.8 365 1296.9C367 1295.9 369.2 1295.3 371.4 1295C373.9 1294.5 376.5 1294.6 379 1294.6C381.6 1294.6 384.1 1294.9 386.7 1295C389.2 1295 391.8 1295.5 394.3 1295C396.6 1294.4 398.8 1293.2 400.7 1291.8C402.6 1290.4 404.1 1288.4 405.8 1286.7C407.5 1285 409 1283.1 410.9 1281.6C412.5 1280.2 414.1 1278.8 416 1278C417.4 1277.4 419 1277.6 420.4 1277.4M333.4 1301.4C337.6 1301.5 341.7 1301.7 345.9 1301.7C350.3 1301.7 355.7 1301.2 359.3 1301.3C361.6 1301.4 364 1301.5 366.3 1302C368.9 1302.5 371.3 1303.8 373.9 1304.5C376.4 1305.2 378.9 1306.3 381.6 1306.4C384.2 1306.5 386.7 1305.8 389.2 1305.1C391.4 1304.5 393.3 1302.9 395.6 1302.6C397.3 1302.4 399.1 1302.5 400.7 1303.2C402.8 1304.3 404.2 1306.5 405.8 1308.3C407.6 1310.4 408.9 1312.9 410.9 1314.7C412.4 1316 414.2 1317.1 416 1317.9C417.4 1318.5 419 1318.7 420.4 1319.2M333.4 1304.5C337.6 1304.6 341.7 1304.8 345.9 1304.8C350.3 1304.8 354.8 1304.3 359.3 1304.5C362.5 1304.7 365.7 1305.1 368.8 1305.8C372.3 1306.6 375.6 1307.9 379 1309C382.4 1310 385.8 1311.1 389.2 1312.2C392.6 1313.2 396 1314.4 399.4 1315.3C402.8 1316.3 406.2 1317.2 409.6 1317.9C413.2 1318.7 416.8 1319.2 420.4 1319.8M278.8 1210.1C280.4 1209.7 282.2 1209.6 283.7 1208.9C285.7 1208.1 287.5 1206.8 289.2 1205.5C290.7 1204.4 292.4 1202.9 293.3 1202.1C293.9 1201.5 294.5 1201 295.1 1200.4M278.8 1211.5C280.9 1210.6 283.1 1209.7 285.1 1208.6C287 1207.5 288.7 1205.9 290.6 1204.8C292.4 1203.8 294.2 1202.9 296.1 1202.1C297.6 1201.4 299.2 1200.8 300.9 1200.3C302 1200 303.2 1199.9 304.3 1199.7M278.8 1214.4C280.4 1214.5 282.1 1214.3 283.7 1214.8C285.5 1215.2 287 1216.2 288.5 1217.2C290.2 1218.2 291.7 1219.5 293.3 1220.6C295.1 1221.7 297 1222.6 298.8 1223.7C300.7 1224.7 302.4 1225.9 304.3 1226.8C306.1 1227.6 308 1228.1 309.8 1228.8C311.6 1229.5 313.5 1230.2 315.3 1230.9C317.1 1231.6 318.9 1232.3 320.8 1232.9C322.6 1233.6 324.4 1234.3 326.3 1234.7C328.6 1235.1 331.1 1235 333.4 1235.2M278.8 1213.8C280.9 1214.6 283 1215.3 285.1 1216.1C287 1216.9 288.7 1217.8 290.6 1218.5C292.4 1219.3 294.3 1219.9 296.1 1220.6C297.9 1221.3 299.7 1222.2 301.6 1223C303.4 1223.8 305.3 1224.5 307.1 1225.4C308.9 1226.3 310.7 1227.3 312.6 1228.1C314.4 1229 316.2 1229.7 318 1230.5C319.9 1231.3 321.7 1232.2 323.5 1232.9C325.3 1233.7 327.2 1234.4 329 1235C330.5 1235.5 332 1235.9 333.4 1236.3M278.8 1220.9C280.4 1220.8 282.1 1220.5 283.7 1220.6C285.3 1220.7 287 1220.8 288.5 1221.3C290.2 1221.7 291.7 1222.6 293.3 1223.3C295.2 1224.1 297 1225 298.8 1225.7C300.6 1226.5 302.4 1227.2 304.3 1227.8C306.1 1228.4 308 1228.7 309.8 1229.2C311.6 1229.6 313.5 1230 315.3 1230.5C317.1 1231.1 319 1231.7 320.8 1232.3C322.9 1232.9 324.9 1233.6 327 1234.3C329.1 1235 331.3 1235.7 333.5 1236.4M278.8 1230.7C281.6 1230.5 284.4 1230.2 287.2 1230.2C290.6 1230.2 294 1230.6 297.5 1230.9C300.2 1231.1 302.9 1231.6 305.7 1231.9C308.4 1232.3 311.2 1232.5 313.9 1232.9C316.7 1233.3 319.4 1233.9 322.2 1234.3C324.2 1234.7 326.3 1235 328.3 1235.3C330 1235.6 331.8 1235.8 333.5 1236M278.8 1232.3C282.7 1232.2 286.7 1231.9 290.6 1232.1C294 1232.4 297.5 1233 300.9 1233.6C303.4 1234.1 305.9 1234.8 308.4 1235.3C310.7 1235.8 313 1236.3 315.3 1236.7C317.6 1237.1 319.9 1237.5 322.2 1237.6C324.2 1237.7 326.3 1237.6 328.3 1237.4C330.1 1237.2 331.8 1236.7 333.5 1236.4M278.8 1233.6C281.6 1234.1 284.4 1234.4 287.2 1235C290.2 1235.7 293.1 1236.5 296.1 1237.4C298.4 1238.1 300.7 1238.9 302.9 1239.8C305.3 1240.7 307.6 1241.8 309.8 1242.9C312.1 1244.1 314.3 1245.6 316.7 1246.7C318.4 1247.4 320.3 1248 322.2 1248.4C324 1248.8 325.8 1249 327.6 1249.1C329.6 1249.2 331.5 1249.1 333.4 1249.1M278.8 1233.6C280.9 1234.2 283 1234.7 285.1 1235.3C287.4 1236.1 289.7 1237.1 292 1238.1C294.3 1239.1 296.5 1240.1 298.8 1241.2C301.1 1242.2 303.4 1243.2 305.7 1244.3C308 1245.3 310.2 1246.4 312.6 1247.4C314.4 1248.1 316.2 1248.8 318 1249.4C319.9 1250 321.7 1250.7 323.5 1251.1C325.1 1251.5 326.7 1251.7 328.3 1251.8C330 1252 331.7 1251.9 333.4 1251.9M278.8 1234C281.3 1235.1 283.9 1236.3 286.5 1237.4C288.8 1238.4 291 1239.5 293.3 1240.5C295.6 1241.5 297.9 1242.6 300.2 1243.6C302.5 1244.6 304.8 1245.7 307.1 1246.7C309.3 1247.6 311.7 1248.4 313.9 1249.4C315.8 1250.3 317.6 1251.2 319.4 1252.2C321.3 1253.1 323.1 1254.2 324.9 1255.2C326.3 1256 327.6 1257 329 1257.6C330.4 1258.3 332 1258.6 333.4 1259.1M278.8 1258.7C280.9 1258.7 283 1258.9 285.1 1258.7C287.4 1258.4 289.7 1257.9 292 1257.3C294.3 1256.7 296.6 1256 298.8 1255.2C301.1 1254.5 303.4 1253.6 305.7 1252.8C308 1252 310.3 1251.3 312.6 1250.4C314.4 1249.7 316.3 1249 318 1248C319.9 1247 321.7 1245.8 323.5 1244.6C325.2 1243.5 326.7 1242.3 328.3 1241.2C330 1240 331.7 1239 333.4 1237.8M278.8 1261C281.4 1260.7 283.9 1260.5 286.5 1260.1C289.2 1259.6 292 1259 294.7 1258.3C297 1257.8 299.3 1257.2 301.6 1256.6C303.9 1256 306.1 1255.4 308.4 1254.9C310.5 1254.5 312.5 1254.2 314.6 1253.9C316.2 1253.6 317.8 1253.4 319.4 1253.2M278.8 1279.3C280.4 1278.8 282.1 1278.5 283.7 1277.9C286.1 1277 288.3 1275.6 290.6 1274.5C292.9 1273.3 295.2 1272.2 297.5 1271C299.7 1269.9 302 1268.7 304.3 1267.6C306.6 1266.5 308.9 1265.3 311.2 1264.2C313.4 1263.1 315.7 1262 318 1261.1C319.8 1260.3 321.6 1259.5 323.5 1259C325.1 1258.6 326.7 1258.4 328.3 1258.3C330 1258.2 331.8 1258.3 333.5 1258.3M278.8 1278.9C281.6 1278.9 284.4 1278.8 287.2 1278.9C290.1 1279.1 293.1 1279.6 296.1 1280C298.8 1280.3 301.6 1280.7 304.3 1281C307.1 1281.3 309.8 1281.4 312.6 1281.7C315.3 1281.9 318 1282.1 320.8 1282.4C323.3 1282.6 325.8 1282.8 328.3 1283C330 1283.2 331.7 1283.3 333.4 1283.4M278.8 1279.3C280.4 1279.7 282.2 1279.9 283.7 1280.6C285.5 1281.4 287 1282.6 288.5 1283.7C290.2 1284.9 291.6 1286.4 293.3 1287.5C294.6 1288.4 296 1289.3 297.5 1289.9C298.5 1290.3 299.7 1290.6 300.9 1290.6C302.3 1290.6 303.7 1290.2 305 1289.6C306.6 1288.8 307.8 1287.5 309.1 1286.5C310.8 1285.2 312.4 1283.8 313.9 1282.4C315.3 1281 316.6 1279.6 318 1278.2C319.4 1276.9 320.7 1275.7 322.2 1274.5C323.5 1273.4 324.9 1272.4 326.3 1271.4C327.4 1270.6 328.5 1269.6 329.7 1269C330.9 1268.4 332.2 1268.2 333.4 1267.7M278.8 1292C281.6 1292.2 284.4 1292.6 287.2 1292.6C289.4 1292.7 291.7 1292.6 294 1292.3C296.3 1292 298.6 1291.3 300.9 1290.9C303.4 1290.5 305.9 1290.2 308.4 1289.9C311.2 1289.6 313.9 1289.6 316.7 1289.2C319 1288.9 321.2 1288.2 323.5 1287.8C325.4 1287.6 327.2 1287.3 329 1287.2C330.5 1287.1 332 1287.2 333.4 1287.2M278.8 1292.3C280.2 1292.6 281.7 1292.7 283 1293.3C284.6 1294.1 285.8 1295.6 287.2 1296.8C288.8 1298.3 290.4 1300 292 1301.6C293.3 1302.9 294.7 1304.3 296.1 1305.7C297.4 1307 298.7 1308.3 300.2 1309.5C301.5 1310.5 302.9 1311.4 304.3 1312.2C305.6 1313 307 1313.8 308.4 1314.3C309.8 1314.7 311.2 1315 312.6 1315C314 1314.9 315.4 1314.5 316.7 1313.9C318.2 1313.3 319.5 1312.2 320.8 1311.2C322.3 1310 323.6 1308.7 324.9 1307.4C326.1 1306.2 327.1 1304.8 328.3 1303.6C329.4 1302.6 331 1301.4 331.8 1300.9C332.3 1300.6 332.9 1300.4 333.5 1300.2M277 1304.8C279.3 1304.8 281.5 1304.8 283.7 1304.7C285.3 1304.6 287 1304.7 288.5 1304.3C290 1303.9 291.3 1302.9 292.6 1302.3C294.2 1301.5 295.8 1300.7 297.5 1300.2C299.2 1299.7 301.1 1299.6 302.9 1299.5C305.2 1299.3 307.5 1299.4 309.8 1299.4C312.1 1299.3 314.4 1299.2 316.7 1299.2C318.5 1299.1 320.3 1299 322.2 1299.2C323.8 1299.3 325.4 1299.5 327 1299.9C328.1 1300.1 329.2 1300.6 330.4 1300.9C331.4 1301.1 332.4 1301.3 333.4 1301.4M292.6 1302.3C293.8 1302.9 295 1303.5 296.1 1304.3C297.4 1305.3 298.4 1306.6 299.5 1307.7C300.7 1308.9 301.4 1310.6 302.9 1311.2C304 1311.6 305.3 1311.4 306.4 1311.2C308.1 1310.8 309.6 1309.8 311.2 1309.1C313 1308.4 314.8 1307.6 316.7 1307.1C318.5 1306.5 320.4 1306.3 322.2 1305.7C323.8 1305.1 325.4 1304.4 327 1303.6C328.2 1303 329.2 1302.1 330.4 1301.6C331.4 1301.1 332.4 1300.9 333.4 1300.6M278.8 1318.4C280 1318.2 281.2 1318.2 282.4 1317.7C283.6 1317.1 284.7 1316.1 285.8 1315.3C287 1314.4 288 1313.3 289.2 1312.6C290.3 1311.9 291.4 1311.2 292.6 1310.8C293.8 1310.5 295 1310.2 296.1 1310.5C297.4 1310.8 298.5 1311.7 299.5 1312.6C300.8 1313.5 301.7 1314.9 302.9 1316C304 1317 305.7 1318.1 306.4 1318.7C306.8 1319.2 307.1 1319.7 307.5 1320.2M75.2 1320.6C77.2 1321.7 79.4 1322.5 81.2 1323.8C83.8 1325.8 86 1328.5 88.2 1330.9C90.7 1333.5 93 1336.1 95.3 1338.8C97.7 1341.7 99.7 1344.9 102.4 1347.6C104.5 1349.9 106.8 1352.1 109.4 1353.8C112.1 1355.7 115.1 1357.1 118.2 1358.2C121.6 1359.5 125.2 1360.3 128.8 1360.9C134.2 1361.8 140.6 1362 146.5 1362.3C154.8 1362.7 165.5 1362.2 171.5 1362.6C175.5 1362.9 179.5 1363.6 183.5 1364.1C187.1 1364.5 190.6 1365.3 194.1 1365.3C197.1 1365.3 200.1 1364.9 202.9 1364.1C206 1363.1 209.1 1361.8 211.8 1360C214.5 1358.1 216.5 1355.3 218.8 1352.9C221.2 1350.6 223.3 1348 225.9 1345.9C228 1344.2 230.3 1342.5 232.9 1341.5C235.2 1340.6 237.6 1340.6 240 1340.1M106.9 1320.6C107.2 1320.8 107.4 1321 107.6 1321.2C108 1321.5 112.2 1327.2 114.7 1330C116.9 1332.5 119.3 1334.8 121.8 1337.1C124 1339.2 126.3 1341.4 128.8 1343.2C131 1344.8 133.3 1346.2 135.9 1347.1C139.3 1348.3 142.9 1348.7 146.5 1349.1C151.8 1349.6 167.2 1349.8 171.5 1349.4C174.4 1349.1 177.3 1348.6 180 1347.6C182.5 1346.8 184.8 1345.5 187.1 1344.1C189.6 1342.6 191.8 1340.7 194.1 1338.8C196.5 1336.9 198.9 1334.8 201.2 1332.6C203.6 1330.4 205.9 1328 208.2 1325.6C209.8 1323.9 211.4 1322.3 213 1320.6M67.1 1356.5C70 1355.9 73 1355.7 75.9 1354.7C78.4 1353.8 80.6 1352.5 82.9 1351.2C85.4 1349.8 87.6 1348.1 90 1346.8C92.3 1345.5 94.5 1344 97.1 1343.2C99.9 1342.4 102.9 1342.4 105.9 1342.4C108.8 1342.4 111.8 1342.7 114.7 1343.2C117.7 1343.8 120.6 1345.1 123.5 1345.9C127 1346.8 130.5 1348 134.1 1348.5C138.2 1349.2 142.3 1349.1 146.5 1349.4M67.1 1343.2C68.8 1344.1 70.8 1344.7 72.4 1345.9C74.4 1347.3 75.9 1349.4 77.6 1351.2C79.4 1352.9 81.2 1354.7 82.9 1356.5C84.7 1358.2 86.5 1360 88.2 1361.8C90 1363.5 92.7 1366.3 93.5 1367.1C94.1 1367.6 94.7 1368 95.3 1368.5M67.1 1361.8C70.6 1361.9 74.2 1361.6 77.6 1362.3C80.7 1362.9 83.5 1364.3 86.5 1365.3C88.8 1366.1 91.1 1367 93.5 1367.6C95.8 1368.1 98.2 1368.2 100.6 1368.5M171.5 1349.4C174.9 1348.5 178.5 1348 181.8 1346.8C184.8 1345.6 187.8 1344.1 190.6 1342.4C193.8 1340.3 196.5 1337.6 199.4 1335.3C202.3 1332.9 205.2 1330.5 208.2 1328.2C210.6 1326.4 212.7 1324.4 215.3 1322.9C217.5 1321.7 220.5 1320.6 222.3 1320.3C223.6 1320.1 224.9 1320.4 226.2 1320.5M224.9 1320.6C225.2 1320.5 225.5 1320.3 225.9 1320.3C226.4 1320.3 230.6 1322 232.9 1322.9C235.3 1323.8 237.6 1324.8 240 1325.7M218.8 1368.5C221.2 1367.7 223.7 1367.4 225.9 1366.2C227.9 1365.1 229.5 1363.4 231.2 1361.8C233.1 1359.9 234.9 1356.9 236.5 1355.6C237.5 1354.7 238.8 1354.2 240 1353.6M240 1325.7C242.5 1326.4 244.9 1327.5 247.5 1327.7C249.4 1327.8 251.6 1327.9 253.4 1327.1C255.5 1326.2 257.5 1323.4 258.6 1322.5C259.4 1321.8 260.2 1321.2 260.9 1320.6M240 1340.1C242.5 1339.5 244.9 1338.6 247.5 1338.3C249.4 1338 251.6 1337.6 253.4 1338.3C255.6 1339.1 256.9 1341.3 258.6 1342.9C260.5 1344.8 262.2 1346.8 264.2 1348.5C266.6 1350.6 268.9 1352.8 271.7 1354.1C273.9 1355.2 276.3 1356 278.7 1356C281.4 1356 284.1 1355 286.6 1354.1C289.2 1353.2 291.6 1351.8 294 1350.4C296.6 1349 298.8 1346.9 301.5 1345.7C304.4 1344.4 307.6 1343.4 310.8 1342.9C314.5 1342.4 318.2 1342.8 322 1342.9C325.9 1343.1 329.8 1343.6 333.7 1343.9C337.9 1344.2 342 1344.8 346.2 1344.8C350.5 1344.8 354.9 1344.6 359.2 1343.9C363 1343.3 366.7 1342 370.4 1341.1C374.1 1340.1 377.8 1338.9 381.6 1338.3C385.3 1337.7 389 1337.4 392.8 1337.4C396.5 1337.4 400.2 1338.1 403.9 1338.3C409.4 1338.6 414.9 1338.7 420.3 1338.8M240 1353.6C241.8 1352.2 243.8 1350.9 245.6 1349.5C247.5 1348 249 1345.9 251.2 1344.8C252.9 1343.9 254.9 1343.6 256.8 1343.3C259.6 1342.9 264.2 1343.3 267.9 1343.3C271.5 1343.3 275.4 1342.4 278.7 1343.3C281 1343.9 282.9 1345.2 284.7 1346.7C286.9 1348.5 288.4 1351 290.3 1353.2C292.2 1355.4 293.8 1357.7 295.9 1359.7C297.6 1361.4 299.4 1363.1 301.5 1364.4C303.8 1365.8 306.3 1366.8 308.9 1367.5C311.9 1368.3 315.1 1368.3 318.2 1368.7M239.1 1364.6C243.8 1363.9 248.6 1362.8 253.4 1362.5C257.6 1362.2 261.9 1362.5 266.1 1362.5C270.3 1362.5 274.5 1362.3 278.7 1362.5C282 1362.7 285.2 1363 288.4 1363.4C290.9 1363.8 293.4 1364.3 295.9 1364.9C298.4 1365.6 300.9 1366.4 303.3 1367.2M307.5 1320.2C307.4 1320.3 307.1 1320.4 307.1 1320.6C307 1320.9 310.6 1326.3 312.7 1329C314.4 1331.3 316.2 1333.5 318.2 1335.5C320.5 1337.6 323 1339.6 325.7 1341.1C328.2 1342.4 330.9 1343.5 333.7 1343.9C337.8 1344.4 342 1343 346.2 1342.9C350.5 1342.9 354.9 1343.9 359.2 1343.9C362.3 1343.8 365.6 1344 368.5 1342.9C371.3 1342 373.6 1340 376 1338.3C378.6 1336.3 380.8 1333.7 383.4 1331.8C385.8 1330 388.2 1328.2 390.9 1327.1C393.8 1325.9 397 1325.4 400.2 1325.2C403.9 1325 407.7 1325.8 411.4 1326.2C414.4 1326.5 417.3 1326.8 420.3 1327.1M377.9 1368.7C381.6 1368 385.3 1367.5 389 1366.8C392.8 1366.1 396.4 1365 400.2 1364.4C403.9 1363.8 407.6 1363.4 411.4 1363.1C414.4 1362.8 417.3 1362.7 420.3 1362.5M394.6 1368.7C396.5 1366.9 398.6 1365.4 400.2 1363.4C402.4 1360.9 403.9 1357.8 405.8 1355.1C407.6 1352.5 409.3 1349.7 411.4 1347.6C412.8 1346.2 414.2 1344.7 416 1343.9C417.4 1343.2 418.9 1343.3 420.3 1342.9"/>
</g>
<rect x="66.5" y="965" width="359.0" height="403.79999999999995" fill="none" stroke="#4a4a4a" stroke-width="1.3"/>
<g stroke="#333" stroke-width="1">
<path d="M63.3 965H66.5"/>
<path d="M63.3 1032.5H66.5"/>
<path d="M63.3 1100H66.5"/>
<path d="M63.3 1167.6H66.5"/>
<path d="M63.3 1234.3H66.5"/>
<path d="M63.3 1301.5H66.5"/>
<path d="M63.3 1368.8H66.5"/>
<path d="M67 1368.8V1372.3"/>
<path d="M146.5 1368.8V1372.3"/>
<path d="M171.7 1368.8V1372.3"/>
<path d="M253.3 1368.8V1372.3"/>
<path d="M278.8 1368.8V1372.3"/>
<path d="M333.5 1368.8V1372.3"/>
<path d="M359.2 1368.8V1372.3"/>
<path d="M420.4 1368.8V1372.3"/>
</g>
<text x="60" y="972.3" font-size="20.5" text-anchor="end" fill="#1a1a1a">6</text>
<text x="60" y="1039.8" font-size="20.5" text-anchor="end" fill="#1a1a1a">4</text>
<text x="60" y="1107.3" font-size="20.5" text-anchor="end" fill="#1a1a1a">2</text>
<text x="60" y="1174.9" font-size="20.5" text-anchor="end" fill="#1a1a1a">0</text>
<text x="60" y="1241.6" font-size="20.5" text-anchor="end" fill="#1a1a1a">−2</text>
<text x="60" y="1308.8" font-size="20.5" text-anchor="end" fill="#1a1a1a">−4</text>
<text x="60" y="1376.1" font-size="20.5" text-anchor="end" fill="#1a1a1a">−6</text>
<text x="67.5" y="1392" font-size="21" text-anchor="middle" fill="#1a1a1a">Z</text>
<text x="146.5" y="1392" font-size="21" text-anchor="middle" fill="#1a1a1a">A</text>
<text x="171.7" y="1392" font-size="21" text-anchor="middle" fill="#1a1a1a">M</text>
<text x="254" y="1392" font-size="21" text-anchor="middle" fill="#1a1a1a">Γ</text>
<text x="278.8" y="1392" font-size="21" text-anchor="middle" fill="#1a1a1a">Z</text>
<text x="333.5" y="1392" font-size="21" text-anchor="middle" fill="#1a1a1a">R</text>
<text x="359.2" y="1392" font-size="21" text-anchor="middle" fill="#1a1a1a">X</text>
<text x="421" y="1392" font-size="21" text-anchor="middle" fill="#1a1a1a">Γ</text>
<text x="246" y="1420" font-size="24" text-anchor="middle" fill="#1a1a1a" textLength="84.5" lengthAdjust="spacingAndGlyphs">k-space</text>
<text x="26" y="1167" font-size="25" text-anchor="middle" fill="#1a1a1a" transform="rotate(-90 26 1167)">Energy / eV</text>
<text x="30" y="868" font-size="24" text-anchor="start" fill="#1a1a1a" textLength="30.5" lengthAdjust="spacingAndGlyphs">(b)</text>
<text x="141" y="867.5" font-size="24" fill="#1a1a1a" textLength="177" lengthAdjust="spacingAndGlyphs"><tspan>Sr</tspan><tspan font-size="16" dy="5.5">2</tspan><tspan dy="-5.5">ZnCu</tspan><tspan font-size="16" dy="5.5">2</tspan><tspan dy="-5.5">Se</tspan><tspan font-size="16" dy="5.5">2</tspan><tspan dy="-5.5">O</tspan><tspan font-size="16" dy="5.5">2</tspan></text>
<clipPath id="cdb"><rect x="548.0" y="818.75" width="350.5" height="699.25"/></clipPath>
<g clip-path="url(#cdb)" fill="none" stroke-width="1.85" stroke-linejoin="round">
<path d="M548 1023.8C552.8 1023.9 557.7 1024.9 562.5 1024.2C566 1023.8 569.5 1023 572.5 1021.2C575.5 1019.4 577.8 1016.5 580 1013.8C583 1009.9 585 1005.4 587.5 1001.2C590 997.1 592.2 992.7 595 988.8C597.2 985.6 600.1 983 602.5 980C605.1 976.7 607.6 973.4 610 970C612.6 966.3 614.9 962.4 617.5 958.8C619.9 955.3 621.8 951.4 625 948.8C627.1 947 629.7 945 632.5 945C635.3 945 638 946.8 640 948.8C643 951.7 645.3 957.8 647.5 962.5C650.5 969 652.3 975.9 655 982.5C657.4 988.4 659.5 994.4 662.5 1000C664.6 1004 667 1007.9 670 1011.2C672.9 1014.6 676.4 1017.4 680 1020C683.2 1022.3 686.8 1024 690 1026.2C693.4 1028.6 696.7 1031.2 700 1033.8C703.3 1036.2 706.6 1038.9 710 1041.2C713.2 1043.5 716.5 1045.8 720 1047.5C723.2 1049 726.5 1050.3 730 1051C735.2 1052 743.3 1051.7 750 1051.8C758.3 1051.8 766.7 1051.9 775 1051.2C781.7 1050.8 788.3 1049.4 795 1048.8C801.7 1048.1 808.4 1048.2 815 1047.5C820 1047 825 1046.4 830 1045.5C834.2 1044.7 838.5 1044.2 842.5 1042.5C846.1 1041 849 1038.1 852.5 1036.2C855.7 1034.6 859 1032.9 862.5 1032C866.6 1030.9 870.8 1031.1 875 1030.5C879.2 1029.9 883.3 1029 887.5 1028.2C891.2 1027.6 895 1026.9 898.8 1026.2" stroke="#2b2b2b" stroke-dasharray="4.5 2"/>
<path d="M548 1105.5C550.3 1108.2 552.4 1111.3 555 1113.8C557.3 1115.9 559.6 1118.4 562.5 1119.5C564.5 1120.2 566.7 1120.5 568.8 1120C571.7 1119.2 573.6 1116.4 576.2 1115C578.2 1114 580.3 1112.6 582.5 1112.5C585.1 1112.3 587.5 1113.8 590 1114.5C592.5 1115.3 594.9 1117.4 597.5 1117C600.6 1116.5 602.9 1113.6 605 1111.2C608.1 1107.7 609.8 1102.8 612.5 1098.8C614.8 1095.3 616.8 1091.3 620 1088.8C622.1 1087.1 624.8 1085.7 627.5 1085.5C630.1 1085.3 632.7 1086.3 635 1087.5C637.9 1089 640.3 1091.3 642.5 1093.8C645.5 1097.1 647.7 1101.1 650 1105C652.7 1109.5 654.5 1114.5 657.5 1118.8C659.7 1121.9 662 1125.1 665 1127.5C668 1129.9 671.6 1131.3 675 1133C678.3 1134.6 681.7 1136 685 1137.5C688.3 1139 692.1 1140 695 1142C696.9 1143.3 698.3 1145.4 700 1147C702.4 1149.3 705.1 1151.4 707.5 1153.8C710.1 1156.2 712.3 1159 715 1161.2C717.3 1163.2 719.7 1165.1 722.5 1166.2C725.6 1167.6 729.1 1168 732.5 1168.2C737.6 1168.7 762.5 1167.8 775 1167.2C783.3 1166.9 791.7 1166.2 800 1165.8C806.7 1165.4 813.3 1165.1 820 1164.8C825 1164.5 830 1164.3 835 1163.8C838.4 1163.4 841.8 1163.2 845 1162.2C848.5 1161.3 851.6 1159.1 855 1158C858.3 1157 861.6 1156.3 865 1155.8C870 1155 875 1154.9 880 1154.5C886.2 1154 892.5 1153.5 898.8 1153" stroke="#2b2b2b" stroke-dasharray="4.5 2"/>
<path d="M555.5 1168.8C556.6 1174 557.5 1179.3 558.8 1184.5C559.9 1189.4 561 1194.4 562.5 1199.2C563.9 1203.8 565.1 1209 567.5 1212.5C569.1 1214.8 571.1 1217.3 573.8 1218.2C576.5 1219.2 579.6 1217.5 582.5 1217.5C585.8 1217.5 589.2 1218.9 592.5 1218.5C595.1 1218.2 597.8 1217.5 600 1216C603.2 1213.8 605.2 1210.2 607.5 1207C610.3 1203.2 612 1198.6 615 1195C617.2 1192.4 619.4 1189.5 622.5 1188C624.8 1186.9 627.5 1186.8 630 1186.8C633.4 1186.7 636.9 1186.6 640 1188C643 1189.3 645.5 1191.9 647.5 1194.5C650.6 1198.4 652.5 1204.2 655 1209C657.5 1213.8 659.4 1219 662.5 1223.2C664.6 1226.1 667.2 1228.5 670 1230.8C673.1 1233.2 676.6 1235.1 680 1237C683.3 1238.8 686.8 1240.1 690 1242C692.6 1243.5 696.1 1245.9 697.5 1247C698.4 1247.7 699.2 1248.6 700 1249.5C701.2 1250.8 705.1 1256.1 707.5 1259.5C710.1 1263.2 712.2 1267.4 715 1271C717.3 1273.9 719.5 1277.1 722.5 1279.2C725.5 1281.4 728.9 1282.9 732.5 1283.8C737.8 1285 744.2 1284.2 750 1284.2C758.8 1284.4 798.7 1284.2 812.5 1284C821.7 1283.9 830.8 1283.8 840 1283.5C846.7 1283.3 853.3 1282.8 860 1282.5C866.7 1282.2 873.3 1281.8 880 1281.5C886.3 1281.2 892.5 1280.8 898.8 1280.5" stroke="#2b2b2b" stroke-dasharray="4.5 2"/>
<path d="M548 1357.5C549.9 1358.9 551.6 1360.7 553.8 1361.8C555.7 1362.7 557.9 1363.8 560 1363.5C562.4 1363.2 564.5 1361.6 566.2 1360C568.9 1357.6 570.8 1353.9 572.5 1350.5C575.1 1345.4 576.8 1339.4 578.8 1333.8C580.9 1327.5 582.4 1321.1 585 1315C586.8 1310.8 589 1305.3 591.2 1303C592.8 1301.5 594.8 1299.9 597 1300C599.2 1300.1 600.9 1302.3 602.5 1303.8C604.9 1305.9 606.4 1309 608.8 1311.2C610.7 1313.1 612.6 1315.2 615 1316.2C617.3 1317.3 620 1317.2 622.5 1317.5C625 1317.8 627.6 1317.3 630 1318C632.7 1318.8 635.3 1320.2 637.5 1322C640.6 1324.5 642.8 1328 645 1331.2C647.9 1335.6 650.1 1340.4 652.5 1345C655.1 1349.8 657.2 1354.9 660 1359.5C662.2 1363.2 664.5 1366.9 667.5 1370C670.4 1373.1 673.9 1375.7 677.5 1378C680.7 1380.1 684.1 1381.7 687.5 1383.2C690.8 1384.8 696.2 1387.2 697.5 1387.2C698.4 1387.3 699.1 1386.4 700 1386.4C701.3 1386.4 708.4 1389.6 712.5 1391.4C716.8 1393.3 720.7 1396.1 725.1 1397.7C729.1 1399.2 733.4 1400.3 737.6 1400.8C744.1 1401.6 844.7 1400.8 898.3 1400.8" stroke="#2b2b2b" stroke-dasharray="4.5 2"/>
<path d="M548 1506.2C551.2 1505.4 554.4 1504.7 557.5 1503.8C560.9 1502.7 564.4 1501.8 567.5 1500C571.3 1497.7 574.4 1494.5 577.5 1491.2C581.2 1487.4 584.1 1482.8 587.5 1478.8C590.7 1474.9 593.8 1470.9 597.5 1467.5C600.6 1464.7 604.2 1462.6 607.5 1460C610.1 1458 612.7 1456 615 1453.8C617.7 1451.1 620 1447.9 622.5 1445C625 1442.1 627.2 1438.6 630 1436.2C631.9 1434.7 633.9 1433.1 636.2 1432.5C638.3 1432 640.6 1432.2 642.5 1433C645.4 1434.3 647.8 1437.3 650 1440C653.1 1443.8 655 1448.3 657.5 1452.5C660 1456.7 662.2 1461.1 665 1465C667.2 1468.1 669.6 1471.2 672.5 1473.8C675.5 1476.3 679 1478.1 682.5 1480C685.7 1481.7 689.2 1483 692.5 1484.5C695 1485.7 697.6 1486.7 700 1488C703.3 1489.9 706.6 1491.8 709.4 1494.3C713 1497.5 715.4 1501.9 718.8 1505.3C721.7 1508.2 724.7 1511 728.2 1513.1C731.1 1514.9 734.4 1516.1 737.6 1516.9C741.7 1517.8 746 1517.7 750.2 1517.8C756.5 1518.1 809.8 1518 825.5 1517.8C835.9 1517.7 846.4 1517.4 856.9 1517.2C870.7 1516.9 884.5 1516.6 898.3 1516.3" stroke="#2b2b2b" stroke-dasharray="4.5 2"/>
<path d="M548 889.5C549.9 891.3 551.6 893.5 553.8 895C555.7 896.3 557.7 897.7 560 898C562.1 898.3 564.4 898 566.2 897C569 895.5 570.7 892.6 572.5 890C575.1 886.1 577.6 880 580 875C582.6 869.6 584.9 862.9 587.5 858.8C589.2 856 591.6 852.8 593.8 851.2C595.2 850.2 597 849.4 598.8 849.2C600.9 849.1 602.9 850.3 605 850.8C607.5 851.3 609.9 852.4 612.5 852.5C615 852.6 617.6 852 620 851.2C622.6 850.5 624.9 848.8 627.5 848C629.5 847.4 631.6 846.9 633.8 847C635.9 847.1 638.2 847.6 640 848.8C642.7 850.5 645.3 854.3 647.5 857.5C650.5 861.8 652.6 866.6 655 871.2C657.6 876.2 659.6 881.5 662.5 886.2C664.7 889.8 667.1 893.2 670 896.2C673 899.4 676.4 902.1 680 904.5C683.1 906.5 686.6 908 690 909.5C693.3 910.9 696.8 911.5 700 913C702.6 914.2 705.1 915.8 707.5 917.5C711 920.1 713.9 923.6 717.5 926.2C720.7 928.6 723.8 931 727.5 932.5C730.7 933.8 734.1 934.2 737.5 934.5C742.6 935 762.5 934.8 775 934.8C793.8 934.7 830 934.5 840 934.2C846.7 934.1 853.3 933.7 860 933.5C870 933.2 885.8 933 898.8 932.8" stroke="#3b8ec4"/>
<path d="M548 1051.8C552.8 1051 557.7 1050.3 562.5 1049.5C567.5 1048.7 572.5 1048.1 577.5 1047C581.7 1046.1 586 1045.5 590 1043.8C593.6 1042.2 596.9 1039.9 600 1037.5C603.7 1034.6 606.3 1030.4 610 1027.5C613.1 1025.1 616.4 1022.7 620 1021.2C622.4 1020.3 624.9 1019.4 627.5 1019.5C630.1 1019.6 632.6 1020.8 635 1022C638.5 1023.7 641.5 1026.7 645 1028.8C648.2 1030.6 651.5 1032.5 655 1033.8C659.8 1035.5 665 1036.5 670 1037.5C675 1038.5 680 1039 685 1040C690 1041 695.1 1042.2 700 1043.8C704.3 1045.1 708.2 1047.5 712.5 1048.8C717.4 1050.1 722.5 1050.8 727.5 1051.2C735 1052 742.5 1051.7 750 1051.8C760 1051.8 770 1051.8 780 1051.2C786.7 1050.9 793.3 1049.9 800 1049.5C806.7 1049.1 813.3 1049.3 820 1048.8C825 1048.4 830.1 1047.9 835 1047C839.2 1046.2 843.4 1045 847.5 1043.8C850.9 1042.8 854.1 1041.2 857.5 1040.5C860.8 1039.8 864.2 1039.6 867.5 1039.5C871.7 1039.4 875.8 1039.9 880 1040C886.2 1040.1 892.5 1040 898.8 1040" stroke="#2b2b2b"/>
<path d="M548 1028.8C552 1029 556 1029.4 560 1029.5C563.3 1029.6 566.8 1030.4 570 1029.5C572.8 1028.7 575.3 1026.9 577.5 1025C580.4 1022.5 582.5 1019.2 585 1016.2C587.5 1013.3 589.7 1010.1 592.5 1007.5C594.8 1005.4 597.2 1003.4 600 1002C603.1 1000.4 606.8 1000.2 610 998.8C613.6 997.1 616.9 994.9 620 992.5C622.8 990.3 624.6 987.1 627.5 985C629.8 983.4 632.2 981.7 635 981.2C637.5 980.9 640.3 981.2 642.5 982.5C645.7 984.5 647.8 989 650 992.5C652.9 997.3 654.9 1002.5 657.5 1007.5C659.9 1012.1 662.2 1016.9 665 1021.2C667.3 1024.8 669.5 1028.4 672.5 1031.2C675.4 1034 678.9 1036.2 682.5 1038C686.4 1040 692.5 1041.8 695 1042.5C696.6 1043 698.4 1043.2 700 1043.8C702.5 1044.5 709.8 1048.2 715 1049.5C719.9 1050.7 725 1051.2 730 1051.5C737.5 1052 760 1051.7 775 1051.5C788.3 1051.3 802.5 1050.9 815 1050.5C823.3 1050.2 832.4 1050.3 840 1049.5C845 1049 850 1047.8 855 1047C860 1046.2 865 1045.3 870 1044.5C875 1043.8 880 1043.3 885 1042.5C889.6 1041.8 894.2 1040.8 898.8 1040" stroke="#2a2aff"/>
<path d="M548 1164.5C552 1165 556 1165.9 560 1166C565 1166.1 570 1165.4 575 1165C580 1164.6 585 1164.2 590 1163.8C594.2 1163.4 598.3 1162.9 602.5 1162.5C606.7 1162.1 610.8 1161.5 615 1161.2C618.3 1161.1 621.7 1161 625 1161.2C628.4 1161.5 631.7 1162.3 635 1163C639.2 1163.9 643.3 1165.5 647.5 1166.2C651.6 1167 655.8 1167.4 660 1167.8C666.3 1168.2 673.3 1168.2 680 1168.2C690 1168.4 730 1168.7 745 1168.5C755 1168.4 765 1167.9 775 1167.5C783.3 1167.2 791.7 1166.7 800 1166.2C806.7 1165.9 813.3 1165.6 820 1165.2C825 1165 830 1164.8 835 1164.2C838.4 1163.9 841.7 1163.6 845 1162.8C848.4 1161.9 851.6 1160.2 855 1159.2C858.3 1158.3 861.6 1157.5 865 1157C870 1156.3 875 1156.3 880 1156C886.2 1155.6 892.5 1155.3 898.8 1155" stroke="#2b2b2b"/>
<path d="M548 1153C551.2 1153.7 554.3 1154.5 557.5 1155C560.8 1155.5 564.2 1155.9 567.5 1155.8C571.7 1155.6 575.8 1154.1 580 1153.8C583.3 1153.5 586.7 1154 590 1153.8C593.4 1153.5 596.8 1153.5 600 1152.5C603.6 1151.4 606.7 1149.2 610 1147.5C613.3 1145.8 616.5 1143.8 620 1142.5C623.2 1141.3 626.6 1140.3 630 1140C632.5 1139.8 635.1 1139.8 637.5 1140.5C640.2 1141.3 642.6 1142.9 645 1144.5C648.5 1146.8 651.6 1149.9 655 1152.5C658.3 1154.9 661.4 1157.6 665 1159.5C668.1 1161.1 671.6 1162 675 1163C679.9 1164.4 684.9 1165.5 690 1166.2C695 1167 700 1167.4 705 1167.8C711.7 1168.2 718.3 1168.1 725 1168.2C731.7 1168.4 738.3 1168.5 745 1168.5C755 1168.5 765 1168.3 775 1168.2C790 1168.1 857.5 1167.8 898.8 1167.5" stroke="#2a2aff"/>
<path d="M548 1125C550.3 1126.7 552.7 1128.3 555 1130C557.5 1131.8 559.6 1134.4 562.5 1135.5C564.5 1136.3 566.7 1136.6 568.8 1136.2C571.5 1135.8 573.6 1133.3 576.2 1132.5C578.3 1131.9 580.4 1131.7 582.5 1132C585.2 1132.4 587.5 1134.1 590 1135C592.5 1135.9 594.9 1137.6 597.5 1137.5C600.2 1137.4 602.8 1136 605 1134.5C608.1 1132.4 609.7 1128.7 612.5 1126.2C614.8 1124.3 617.2 1122.4 620 1121.2C622.4 1120.3 625 1120 627.5 1120C630 1120 632.5 1120.7 635 1121.2C638.4 1121.9 641.9 1122.4 645 1123.8C647.7 1125 650.1 1127 652.5 1128.8C655.1 1130.7 657.3 1133.2 660 1135C662.3 1136.5 664.8 1137.9 667.5 1138.8C670.7 1139.8 674.2 1139.9 677.5 1140.5C680.8 1141.1 684.2 1141.6 687.5 1142.5C690.9 1143.5 696.2 1145.7 697.5 1146.2C698.4 1146.6 699.2 1147 700 1147.5C701.2 1148.3 705.1 1151.6 707.5 1153.8C710.1 1156.1 712.3 1159 715 1161.2C717.3 1163.2 719.7 1165.1 722.5 1166.2C725.6 1167.6 729.1 1167.9 732.5 1168.2C737.6 1168.7 843.3 1168.1 898.8 1168" stroke="#ff2a2a"/>
<path d="M548 1283C556.2 1283.2 564.3 1283.6 572.5 1283.5C580.8 1283.4 589.2 1283 597.5 1282.5C603.3 1282.2 610 1281.6 615 1281.2C618.3 1281 621.7 1280.5 625 1280.5C628.3 1280.5 631.7 1280.9 635 1281.2C640 1281.7 645 1282.6 650 1283C656.7 1283.6 663.3 1283.8 670 1284C680 1284.3 730 1284.2 745 1284.2C755 1284.3 765 1284.2 775 1284.2C790 1284.2 857.5 1284.2 898.8 1284.2" stroke="#2b2b2b"/>
<path d="M555.5 1168.8C556.6 1174.2 557.5 1179.6 558.8 1185C559.9 1190 561 1195.1 562.5 1200C563.9 1204.7 565.1 1210 567.5 1213.8C569.1 1216.2 571 1219 573.8 1220C576.5 1221 579.6 1219.4 582.5 1219.5C585.8 1219.6 589.2 1220.9 592.5 1220.5C595.1 1220.2 597.8 1219.4 600 1218C603.1 1216 605.2 1212.9 607.5 1210C610.3 1206.5 612.1 1202.2 615 1198.8C617.2 1196.2 619.5 1193.5 622.5 1192C624.8 1190.9 627.5 1190.9 630 1190.8C633.3 1190.6 636.8 1190.2 640 1191.2C642.9 1192.2 645.5 1194 647.5 1196.2C650.5 1199.6 652.5 1205.4 655 1210C657.5 1214.6 659.4 1219.6 662.5 1223.8C664.6 1226.6 667.2 1229 670 1231.2C673.1 1233.7 676.6 1235.6 680 1237.5C683.3 1239.3 686.8 1240.6 690 1242.5C692.6 1244 696.1 1246.4 697.5 1247.5C698.4 1248.2 699.2 1249.1 700 1250C701.2 1251.3 705.1 1256.6 707.5 1260C710.1 1263.7 712.2 1267.7 715 1271.2C717.3 1274.2 719.5 1277.3 722.5 1279.5C725.5 1281.6 729 1283 732.5 1283.8C737.8 1284.9 744.2 1284.2 750 1284.2C758.8 1284.4 798.7 1284.1 812.5 1284C821.7 1283.9 830.8 1284 840 1283.8C846.7 1283.6 853.3 1283.2 860 1283C870 1282.7 885.8 1282.7 898.8 1282.5" stroke="#2a2aff"/>
<path d="M548 1400.8C562 1400.8 576 1400.9 590 1400.8C601.7 1400.6 613.3 1400 625 1400C636.7 1400 648.3 1400.6 660 1400.8C677.5 1401 716.7 1400.9 745 1401C787.5 1401.1 847.2 1401.1 898.3 1401.1" stroke="#2b2b2b"/>
<path d="M548 1400C556.2 1399.8 564.3 1399.9 572.5 1399.5C580 1399.2 587.5 1398.4 595 1398C601.7 1397.6 608.3 1397.3 615 1397C620 1396.8 625 1396.4 630 1396.5C635 1396.6 640 1397 645 1397.5C650 1398 655 1399 660 1399.5C666.6 1400.1 673.3 1400.3 680 1400.5C690 1400.8 723.3 1400.9 745 1401C777.5 1401.1 847.2 1401.1 898.3 1401.1" stroke="#2a2aff"/>
<path d="M548 1359.5C549.9 1360.9 551.6 1362.7 553.8 1363.8C555.7 1364.7 557.8 1365.7 560 1365.5C562.3 1365.3 564.5 1364 566.2 1362.5C568.9 1360.3 570.8 1356.9 572.5 1353.8C575 1349 576.8 1343 578.8 1337.5C581 1331.3 582.4 1324.8 585 1318.8C586.7 1314.7 588.9 1309.2 591.2 1307C592.8 1305.5 594.9 1304.2 597 1304.2C599.1 1304.3 600.9 1306.1 602.5 1307.5C604.9 1309.6 606.6 1312.6 608.8 1315C610.7 1317.2 612.5 1319.7 615 1321.2C617.2 1322.6 619.9 1323.2 622.5 1323.8C625 1324.2 627.5 1323.7 630 1324.2C632.6 1324.8 635.3 1325.5 637.5 1327C640.5 1329 642.8 1332.1 645 1335C647.9 1338.9 650.1 1343.3 652.5 1347.5C655.1 1352 657.2 1356.9 660 1361.2C662.3 1364.8 664.6 1368.3 667.5 1371.2C670.4 1374.2 674 1376.6 677.5 1378.8C680.7 1380.7 684.1 1382.3 687.5 1383.8C690.8 1385.2 696.2 1387.5 697.5 1387.5C698.4 1387.5 699.1 1386.7 700 1386.7C701.3 1386.8 708.4 1389.9 712.5 1391.7C716.8 1393.6 720.7 1396.4 725.1 1398C729.1 1399.4 733.4 1400.3 737.6 1400.8C744 1401.5 844.7 1401 898.3 1401.1" stroke="#ff2a2a"/>
<path d="M548 1517.5C613.7 1517.5 679.3 1517.4 745 1517.5C796.1 1517.6 847.2 1517.7 898.3 1517.8" stroke="#ff2a2a"/>
<path d="M548 1517.5C613.7 1517.5 679.3 1517.5 745 1517.5C796.1 1517.5 847.2 1517.5 898.3 1517.5" stroke="#2b2b2b"/>
<path d="M548 1506.2C551.2 1505.4 554.4 1504.7 557.5 1503.8C560.9 1502.7 564.4 1501.8 567.5 1500C571.3 1497.7 574.4 1494.5 577.5 1491.2C581.2 1487.4 584.1 1482.8 587.5 1478.8C590.7 1474.9 593.8 1470.9 597.5 1467.5C600.6 1464.7 604.2 1462.6 607.5 1460C610.1 1458 612.7 1456 615 1453.8C617.7 1451.1 620 1447.9 622.5 1445C625 1442.1 627.2 1438.6 630 1436.2C631.9 1434.7 633.9 1433.1 636.2 1432.5C638.3 1432 640.6 1432.2 642.5 1433C645.4 1434.3 647.8 1437.3 650 1440C653.1 1443.8 655 1448.3 657.5 1452.5C660 1456.7 662.2 1461.1 665 1465C667.2 1468.1 669.6 1471.2 672.5 1473.8C675.5 1476.3 679 1478.1 682.5 1480C685.7 1481.7 689.2 1483 692.5 1484.5C695 1485.7 697.6 1486.7 700 1488C703.3 1489.9 706.6 1491.8 709.4 1494.3C713 1497.5 715.4 1501.9 718.8 1505.3C721.7 1508.2 724.7 1511 728.2 1513.1C731.1 1514.9 734.4 1516.1 737.6 1516.9C741.7 1517.8 746 1517.7 750.2 1517.8C756.5 1518.1 800.4 1518 825.5 1517.8C849.8 1517.7 874 1517.4 898.3 1517.2" stroke="#2a2aff"/>
</g>
<g fill="none" stroke="#454545" stroke-width="1.2">
<rect x="548.0" y="818.75" width="350.5" height="699.25"/>
<path d="M548.0 935.0H898.5"/>
<path d="M548.0 1052.0H898.5"/>
<path d="M548.0 1168.75H898.5"/>
<path d="M548.0 1284.75H898.5"/>
<path d="M548.0 1401.25H898.5"/>
</g>
<g stroke="#333" stroke-width="1">
<path d="M548 935.0V932.5"/>
<path d="M606.4 935.0V932.5"/>
<path d="M664.8 935.0V932.5"/>
<path d="M723.2 935.0V932.5"/>
<path d="M781.7 935.0V932.5"/>
<path d="M840.1 935.0V932.5"/>
<path d="M898.5 935.0V932.5"/>
<path d="M548 1052.0V1049.5"/>
<path d="M606.4 1052.0V1049.5"/>
<path d="M664.8 1052.0V1049.5"/>
<path d="M723.2 1052.0V1049.5"/>
<path d="M781.7 1052.0V1049.5"/>
<path d="M840.1 1052.0V1049.5"/>
<path d="M898.5 1052.0V1049.5"/>
<path d="M548 1168.75V1166.25"/>
<path d="M606.4 1168.75V1166.25"/>
<path d="M664.8 1168.75V1166.25"/>
<path d="M723.2 1168.75V1166.25"/>
<path d="M781.7 1168.75V1166.25"/>
<path d="M840.1 1168.75V1166.25"/>
<path d="M898.5 1168.75V1166.25"/>
<path d="M548 1284.75V1282.25"/>
<path d="M606.4 1284.75V1282.25"/>
<path d="M664.8 1284.75V1282.25"/>
<path d="M723.2 1284.75V1282.25"/>
<path d="M781.7 1284.75V1282.25"/>
<path d="M840.1 1284.75V1282.25"/>
<path d="M898.5 1284.75V1282.25"/>
<path d="M548 1401.25V1398.75"/>
<path d="M606.4 1401.25V1398.75"/>
<path d="M664.8 1401.25V1398.75"/>
<path d="M723.2 1401.25V1398.75"/>
<path d="M781.7 1401.25V1398.75"/>
<path d="M840.1 1401.25V1398.75"/>
<path d="M898.5 1401.25V1398.75"/>
<path d="M548 1518.0V1521.0"/>
<path d="M606.4 1518.0V1521.0"/>
<path d="M664.8 1518.0V1521.0"/>
<path d="M723.2 1518.0V1521.0"/>
<path d="M781.7 1518.0V1521.0"/>
<path d="M840.1 1518.0V1521.0"/>
<path d="M898.5 1518.0V1521.0"/>
<path d="M544.7 935H548.0"/>
<path d="M544.7 887H548.0"/>
<path d="M544.7 837.5H548.0"/>
<path d="M544.7 1052H548.0"/>
<path d="M544.7 1020H548.0"/>
<path d="M544.7 987H548.0"/>
<path d="M544.7 954.5H548.0"/>
<path d="M544.7 1168.75H548.0"/>
<path d="M544.7 1135.5H548.0"/>
<path d="M544.7 1102H548.0"/>
<path d="M544.7 1069.5H548.0"/>
<path d="M544.7 1284.75H548.0"/>
<path d="M544.7 1252.5H548.0"/>
<path d="M544.7 1220.5H548.0"/>
<path d="M544.7 1188.75H548.0"/>
<path d="M544.7 1401.25H548.0"/>
<path d="M544.7 1370.5H548.0"/>
<path d="M544.7 1340H548.0"/>
<path d="M544.7 1309.5H548.0"/>
<path d="M544.7 1518H548.0"/>
<path d="M544.7 1485H548.0"/>
<path d="M544.7 1451.75H548.0"/>
<path d="M544.7 1419.25H548.0"/>
</g>
<text x="538.8" y="941.6" font-size="18.5" text-anchor="end" fill="#1a1a1a">0</text>
<text x="538.8" y="893.6" font-size="18.5" text-anchor="end" fill="#1a1a1a">5</text>
<text x="538.8" y="844.1" font-size="18.5" text-anchor="end" fill="#1a1a1a">10</text>
<text x="538.8" y="1058.6" font-size="18.5" text-anchor="end" fill="#1a1a1a">0.00</text>
<text x="538.8" y="1026.6" font-size="18.5" text-anchor="end" fill="#1a1a1a">0.05</text>
<text x="538.8" y="993.6" font-size="18.5" text-anchor="end" fill="#1a1a1a">0.10</text>
<text x="538.8" y="961.1" font-size="18.5" text-anchor="end" fill="#1a1a1a">0.15</text>
<text x="538.8" y="1175.3" font-size="18.5" text-anchor="end" fill="#1a1a1a">0.0</text>
<text x="538.8" y="1142.1" font-size="18.5" text-anchor="end" fill="#1a1a1a">0.1</text>
<text x="538.8" y="1108.6" font-size="18.5" text-anchor="end" fill="#1a1a1a">0.2</text>
<text x="538.8" y="1076.1" font-size="18.5" text-anchor="end" fill="#1a1a1a">0.3</text>
<text x="538.8" y="1291.3" font-size="18.5" text-anchor="end" fill="#1a1a1a">0.00</text>
<text x="538.8" y="1259.1" font-size="18.5" text-anchor="end" fill="#1a1a1a">0.25</text>
<text x="538.8" y="1227.1" font-size="18.5" text-anchor="end" fill="#1a1a1a">0.50</text>
<text x="538.8" y="1195.3" font-size="18.5" text-anchor="end" fill="#1a1a1a">0.75</text>
<text x="538.8" y="1407.8" font-size="18.5" text-anchor="end" fill="#1a1a1a">0</text>
<text x="538.8" y="1377.1" font-size="18.5" text-anchor="end" fill="#1a1a1a">2</text>
<text x="538.8" y="1346.6" font-size="18.5" text-anchor="end" fill="#1a1a1a">4</text>
<text x="538.8" y="1316.1" font-size="18.5" text-anchor="end" fill="#1a1a1a">6</text>
<text x="538.8" y="1524.6" font-size="18.5" text-anchor="end" fill="#1a1a1a">0</text>
<text x="538.8" y="1491.6" font-size="18.5" text-anchor="end" fill="#1a1a1a">1</text>
<text x="538.8" y="1458.3" font-size="18.5" text-anchor="end" fill="#1a1a1a">2</text>
<text x="538.8" y="1425.8" font-size="18.5" text-anchor="end" fill="#1a1a1a">3</text>
<text x="545.5" y="1537.5" font-size="18" text-anchor="middle" fill="#1a1a1a">−1.5</text>
<text x="603.9" y="1537.5" font-size="18" text-anchor="middle" fill="#1a1a1a">−1.0</text>
<text x="662.3" y="1537.5" font-size="18" text-anchor="middle" fill="#1a1a1a">−0.5</text>
<text x="723.2" y="1537.5" font-size="18" text-anchor="middle" fill="#1a1a1a">0.0</text>
<text x="781.7" y="1537.5" font-size="18" text-anchor="middle" fill="#1a1a1a">0.5</text>
<text x="840.1" y="1537.5" font-size="18" text-anchor="middle" fill="#1a1a1a">1.0</text>
<text x="898.5" y="1537.5" font-size="18" text-anchor="middle" fill="#1a1a1a">1.5</text>
<text x="723" y="1563.5" font-size="24" text-anchor="middle" fill="#1a1a1a">Energy / eV</text>
<text x="497.5" y="1167.5" font-size="26" text-anchor="middle" fill="#1a1a1a" transform="rotate(-90 497.5 1167.5)" textLength="284" lengthAdjust="spacingAndGlyphs">Density of States / eV<tspan font-size="18" dy="-9.5">−1</tspan></text>
<text x="841.5" y="847.5" font-size="23" text-anchor="start" fill="#1a1a1a" textLength="48.5" lengthAdjust="spacingAndGlyphs">Total</text>
<text x="862.5" y="963" font-size="23" text-anchor="start" fill="#1a1a1a">Sr</text>
<text x="862.5" y="1080" font-size="23" text-anchor="start" fill="#1a1a1a">Zn</text>
<text x="862.5" y="1197" font-size="23" text-anchor="start" fill="#1a1a1a">O</text>
<text x="862.5" y="1314" font-size="23" text-anchor="start" fill="#1a1a1a">Cu</text>
<text x="862.5" y="1430.5" font-size="23" text-anchor="start" fill="#1a1a1a">Se</text>
<rect x="915.2" y="936.3" width="101" height="86.1" rx="3.5" fill="#fff" stroke="#d9d9d9" stroke-width="1.1"/>
<path d="M921.2 950.1H958.5" stroke="#222" stroke-width="2" stroke-dasharray="4.6 2"/>
<text x="972.5" y="956.7" font-size="17.5" text-anchor="start" fill="#1a1a1a" textLength="32" lengthAdjust="spacingAndGlyphs">total</text>
<path d="M921.2 977.4H958.5" stroke="#555" stroke-width="2"/>
<text x="972.5" y="984" font-size="17.5" text-anchor="start" fill="#1a1a1a">5s</text>
<path d="M921.2 1004.8H958.5" stroke="#4d4dff" stroke-width="2"/>
<text x="972.5" y="1011.4" font-size="17.5" text-anchor="start" fill="#1a1a1a">5p</text>
<rect x="915.2" y="1053.7" width="101" height="113.5" rx="3.5" fill="#fff" stroke="#d9d9d9" stroke-width="1.1"/>
<path d="M921.2 1067.5H958.5" stroke="#222" stroke-width="2" stroke-dasharray="4.6 2"/>
<text x="972.5" y="1074.1" font-size="17.5" text-anchor="start" fill="#1a1a1a" textLength="32" lengthAdjust="spacingAndGlyphs">total</text>
<path d="M921.2 1094.8H958.5" stroke="#555" stroke-width="2"/>
<text x="972.5" y="1101.4" font-size="17.5" text-anchor="start" fill="#1a1a1a">4s</text>
<path d="M921.2 1122.2H958.5" stroke="#4d4dff" stroke-width="2"/>
<text x="972.5" y="1128.8" font-size="17.5" text-anchor="start" fill="#1a1a1a">4p</text>
<path d="M921.2 1149.5H958.5" stroke="#ff4d4d" stroke-width="2"/>
<text x="972.5" y="1156.1" font-size="17.5" text-anchor="start" fill="#1a1a1a">3d</text>
<rect x="915.2" y="1171.2" width="101" height="86.1" rx="3.5" fill="#fff" stroke="#d9d9d9" stroke-width="1.1"/>
<path d="M921.2 1185H958.5" stroke="#222" stroke-width="2" stroke-dasharray="4.6 2"/>
<text x="972.5" y="1191.6" font-size="17.5" text-anchor="start" fill="#1a1a1a" textLength="32" lengthAdjust="spacingAndGlyphs">total</text>
<path d="M921.2 1212.3H958.5" stroke="#555" stroke-width="2"/>
<text x="972.5" y="1218.9" font-size="17.5" text-anchor="start" fill="#1a1a1a">2s</text>
<path d="M921.2 1239.7H958.5" stroke="#4d4dff" stroke-width="2"/>
<text x="972.5" y="1246.3" font-size="17.5" text-anchor="start" fill="#1a1a1a">2p</text>
<rect x="915.2" y="1285" width="101" height="113.5" rx="3.5" fill="#fff" stroke="#d9d9d9" stroke-width="1.1"/>
<path d="M921.2 1298.8H958.5" stroke="#222" stroke-width="2" stroke-dasharray="4.6 2"/>
<text x="972.5" y="1305.4" font-size="17.5" text-anchor="start" fill="#1a1a1a" textLength="32" lengthAdjust="spacingAndGlyphs">total</text>
<path d="M921.2 1326.1H958.5" stroke="#555" stroke-width="2"/>
<text x="972.5" y="1332.7" font-size="17.5" text-anchor="start" fill="#1a1a1a">4s</text>
<path d="M921.2 1353.5H958.5" stroke="#4d4dff" stroke-width="2"/>
<text x="972.5" y="1360.1" font-size="17.5" text-anchor="start" fill="#1a1a1a">4p</text>
<path d="M921.2 1380.8H958.5" stroke="#ff4d4d" stroke-width="2"/>
<text x="972.5" y="1387.4" font-size="17.5" text-anchor="start" fill="#1a1a1a">3d</text>
<rect x="915.2" y="1403.3" width="101" height="113.5" rx="3.5" fill="#fff" stroke="#d9d9d9" stroke-width="1.1"/>
<path d="M921.2 1417.1H958.5" stroke="#222" stroke-width="2" stroke-dasharray="4.6 2"/>
<text x="972.5" y="1423.7" font-size="17.5" text-anchor="start" fill="#1a1a1a" textLength="32" lengthAdjust="spacingAndGlyphs">total</text>
<path d="M921.2 1444.4H958.5" stroke="#555" stroke-width="2"/>
<text x="972.5" y="1451" font-size="17.5" text-anchor="start" fill="#1a1a1a">4s</text>
<path d="M921.2 1471.8H958.5" stroke="#4d4dff" stroke-width="2"/>
<text x="972.5" y="1478.4" font-size="17.5" text-anchor="start" fill="#1a1a1a">4p</text>
<path d="M921.2 1499.1H958.5" stroke="#ff4d4d" stroke-width="2"/>
<text x="972.5" y="1505.7" font-size="17.5" text-anchor="start" fill="#1a1a1a">3d</text>
<text x="155" y="1684.2" font-size="27" text-anchor="start" fill="#1a1a1a" textLength="35.2" lengthAdjust="spacingAndGlyphs">(c)</text>
<path d="M565.7 1708V2305" stroke="#1a1a1a" stroke-width="1.8" stroke-dasharray="5.6 3" fill="none"/>
<text x="258.8" y="1746" font-size="39.5" fill="#0a0a0a" textLength="265.5" lengthAdjust="spacingAndGlyphs" font-weight="bold"><tspan>Sr</tspan><tspan font-size="26" dy="8.5">2</tspan><tspan dy="-8.5">ZnCu</tspan><tspan font-size="26" dy="8.5">2</tspan><tspan dy="-8.5">S</tspan><tspan font-size="26" dy="8.5">2</tspan><tspan dy="-8.5">O</tspan><tspan font-size="26" dy="8.5">2</tspan></text>
<text x="589.6" y="1745.5" font-size="39.5" fill="#0a0a0a" textLength="288" lengthAdjust="spacingAndGlyphs" font-weight="bold"><tspan>Sr</tspan><tspan font-size="26" dy="8.5">2</tspan><tspan dy="-8.5">ZnCu</tspan><tspan font-size="26" dy="8.5">2</tspan><tspan dy="-8.5">Se</tspan><tspan font-size="26" dy="8.5">2</tspan><tspan dy="-8.5">O</tspan><tspan font-size="26" dy="8.5">2</tspan></text>
<path d="M207.4 2309.6V1776H198L212.8 1749.5L227.6 1776H218.2V2309.6Z" fill="#0a0a0a"/>
<rect x="232" y="1875.4" width="667.5" height="45.6" fill="#fff" stroke="#0a0a0a" stroke-width="3.9"/>
<rect x="326.4" y="1835" width="123.2" height="50.6" fill="#fff" stroke="#0a0a0a" stroke-width="3.9"/>
<rect x="621.2" y="1834.6" width="124.2" height="49.6" fill="#fff" stroke="#0a0a0a" stroke-width="3.9"/>
<rect x="750.6" y="1834.6" width="123.2" height="49.6" fill="#fff" stroke="#0a0a0a" stroke-width="3.9"/>
<rect x="226.5" y="2121" width="666.7" height="45.6" fill="#fff" stroke="#0a0a0a" stroke-width="3.9"/>
<rect x="288.5" y="2145" width="186.8" height="49.5" fill="#fff" stroke="#f20d0d" stroke-width="3.9"/>
<rect x="645.1" y="2099" width="200.7" height="45.2" fill="#fff" stroke="#f20d0d" stroke-width="3.9"/>
<text x="345.8" y="1871.8" font-size="29" text-anchor="start" fill="#0a0a0a" textLength="82.6" lengthAdjust="spacingAndGlyphs" font-weight="bold">Cu 4s</text>
<text x="641.5" y="1870.6" font-size="29" text-anchor="start" fill="#0a0a0a" textLength="81.2" lengthAdjust="spacingAndGlyphs" font-weight="bold">Cu 4s</text>
<text x="772.3" y="1870.6" font-size="29" text-anchor="start" fill="#0a0a0a" textLength="78" lengthAdjust="spacingAndGlyphs" font-weight="bold">Se 5s</text>
<text x="532" y="1907.8" font-size="24.5" text-anchor="start" fill="#0a0a0a" textLength="67.5" lengthAdjust="spacingAndGlyphs" font-weight="bold">Zn 4s</text>
<text x="481.1" y="2153" font-size="25" text-anchor="start" fill="#0a0a0a" textLength="156" lengthAdjust="spacingAndGlyphs" font-weight="bold">Zn 3d - O 2p</text>
<text x="303.9" y="2177.4" font-size="25" text-anchor="start" fill="#0a0a0a" textLength="157" lengthAdjust="spacingAndGlyphs" font-weight="bold">Cu 3d - S 3p</text>
<text x="658.2" y="2132.3" font-size="25" text-anchor="start" fill="#0a0a0a" textLength="171.4" lengthAdjust="spacingAndGlyphs" font-weight="bold">Cu 3d - Se 4p</text>
<text x="115.8" y="1927.3" font-size="29" text-anchor="start" fill="#0a0a0a" textLength="66.7" lengthAdjust="spacingAndGlyphs" font-weight="bold">CBM</text>
<text x="117.1" y="2132.3" font-size="29" text-anchor="start" fill="#0a0a0a" textLength="65.4" lengthAdjust="spacingAndGlyphs" font-weight="bold">VBM</text>
<text x="172.2" y="2022" font-size="34" font-weight="bold" text-anchor="middle" fill="#0a0a0a" transform="rotate(-90 172.2 2022)" textLength="114" lengthAdjust="spacingAndGlyphs">Energy</text>
<path d="M388.7 1924.2L400 1945.2H392.9V2099H400L388.7 2120L377.4 2099H384.5V1945.2H377.4Z" fill="#0a0aff"/>
<path d="M745.2 1924.5L756.5 1945.5H749.4V2076.6H756.5L745.2 2097.6L733.9 2076.6H741V1945.5H733.9Z" fill="#0a0aff"/>
</svg>
</body></html>
